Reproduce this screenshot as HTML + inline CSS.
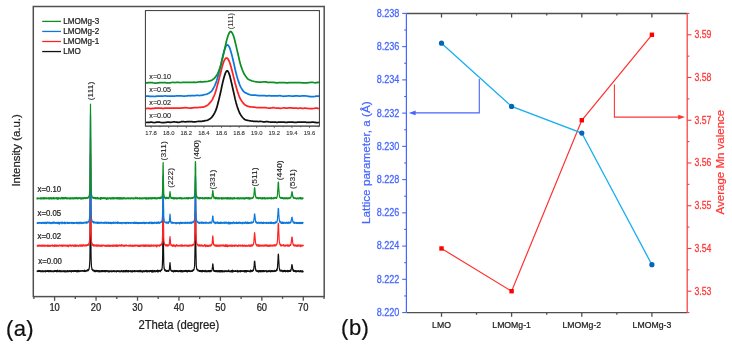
<!DOCTYPE html>
<html><head><meta charset="utf-8"><style>
html,body{margin:0;padding:0;background:#fff;}
svg{display:block;filter:blur(0.3px);}
text{font-family:"Liberation Sans", sans-serif;}
</style></head><body>
<svg width="732" height="347" viewBox="0 0 732 347">
<rect x="0" y="0" width="732" height="347" fill="#fff"/>
<path d="M37.0,271.2 L37.1,271.3 37.1,271.1 37.2,270.9 37.3,271.1 37.4,270.9 37.5,271.2 37.6,271.6 37.6,271.0 37.7,271.0 37.8,271.4 37.9,271.3 38.0,271.2 38.1,270.9 38.1,271.2 38.2,271.4 38.3,270.8 38.4,271.1 38.5,270.6 38.6,270.8 38.6,270.6 38.7,271.1 38.8,270.8 38.9,271.3 39.0,271.2 39.1,271.1 39.1,270.4 39.2,271.0 39.3,271.2 39.4,271.2 39.5,270.7 39.6,271.0 39.6,270.9 39.7,270.9 39.8,271.5 39.9,270.9 40.0,271.2 40.1,271.5 40.1,271.0 40.2,271.2 40.3,271.2 40.4,271.2 40.5,270.8 40.5,271.2 40.6,271.6 40.7,270.7 40.8,271.5 40.9,271.2 41.0,271.0 41.0,271.8 41.1,271.4 41.2,270.8 41.3,271.2 41.4,271.4 41.5,271.1 41.5,271.4 41.6,271.2 41.7,271.4 41.8,271.7 41.9,271.0 42.0,271.3 42.0,271.0 42.1,271.2 42.2,270.8 42.3,271.0 42.4,271.1 42.5,271.5 42.5,271.6 42.6,270.8 42.7,270.9 42.8,271.4 42.9,270.6 43.0,271.0 43.0,271.2 43.1,271.6 43.2,271.4 43.3,271.1 43.4,271.1 43.4,271.1 43.5,271.7 43.6,271.1 43.7,271.1 43.8,271.3 43.9,271.2 43.9,271.1 44.0,270.8 44.1,271.2 44.2,271.1 44.3,271.6 44.4,271.4 44.4,271.2 44.5,271.4 44.6,271.1 44.7,271.5 44.8,271.2 44.9,271.4 44.9,270.8 45.0,271.3 45.1,270.7 45.2,270.5 45.3,271.1 45.4,270.9 45.4,271.2 45.5,271.9 45.6,270.9 45.7,271.0 45.8,271.3 45.9,271.4 45.9,271.1 46.0,271.1 46.1,271.4 46.2,271.4 46.3,270.9 46.4,271.2 46.4,271.2 46.5,270.9 46.6,271.3 46.7,270.9 46.8,271.5 46.8,271.3 46.9,271.2 47.0,271.0 47.1,271.2 47.2,270.6 47.3,270.8 47.3,271.3 47.4,270.5 47.5,271.5 47.6,270.6 47.7,271.4 47.8,270.9 47.8,271.4 47.9,271.2 48.0,270.7 48.1,271.6 48.2,271.7 48.3,271.2 48.3,271.1 48.4,271.1 48.5,270.9 48.6,271.5 48.7,271.0 48.8,271.2 48.8,270.9 48.9,271.0 49.0,270.8 49.1,271.6 49.2,271.1 49.3,271.5 49.3,271.2 49.4,271.0 49.5,271.1 49.6,271.0 49.7,271.2 49.8,271.1 49.8,271.1 49.9,270.8 50.0,270.9 50.1,271.7 50.2,271.0 50.2,270.9 50.3,271.3 50.4,271.6 50.5,270.7 50.6,271.1 50.7,271.0 50.7,270.6 50.8,271.4 50.9,271.2 51.0,271.2 51.1,271.0 51.2,271.3 51.2,271.0 51.3,271.1 51.4,270.8 51.5,270.8 51.6,271.6 51.7,271.0 51.7,271.3 51.8,271.2 51.9,271.1 52.0,271.0 52.1,271.4 52.2,271.1 52.2,271.1 52.3,271.2 52.4,271.6 52.5,271.4 52.6,271.3 52.7,271.0 52.7,270.8 52.8,271.5 52.9,271.5 53.0,271.2 53.1,271.4 53.1,271.4 53.2,271.5 53.3,271.5 53.4,271.0 53.5,271.7 53.6,270.8 53.6,271.5 53.7,271.4 53.8,271.5 53.9,271.8 54.0,271.7 54.1,270.8 54.1,270.7 54.2,271.5 54.3,270.9 54.4,271.2 54.5,271.5 54.6,270.7 54.6,270.5 54.7,271.3 54.8,271.2 54.9,271.1 55.0,271.2 55.1,270.9 55.1,270.7 55.2,271.1 55.3,270.9 55.4,270.7 55.5,271.4 55.6,271.2 55.6,271.3 55.7,270.9 55.8,271.0 55.9,270.9 56.0,270.9 56.1,271.3 56.1,270.9 56.2,271.3 56.3,271.3 56.4,271.8 56.5,270.7 56.5,271.5 56.6,271.2 56.7,271.2 56.8,270.7 56.9,271.0 57.0,271.4 57.0,271.2 57.1,271.2 57.2,271.1 57.3,271.6 57.4,271.2 57.5,270.5 57.5,271.0 57.6,270.6 57.7,270.2 57.8,271.0 57.9,271.6 58.0,271.2 58.0,270.8 58.1,270.9 58.2,271.6 58.3,271.2 58.4,271.2 58.5,271.2 58.5,271.2 58.6,271.5 58.7,271.4 58.8,271.3 58.9,270.9 59.0,271.4 59.0,271.0 59.1,271.5 59.2,270.8 59.3,271.1 59.4,271.2 59.4,270.8 59.5,271.7 59.6,271.7 59.7,271.0 59.8,271.4 59.9,271.3 59.9,270.4 60.0,271.3 60.1,271.2 60.2,271.2 60.3,270.8 60.4,271.1 60.4,271.1 60.5,271.6 60.6,271.3 60.7,271.2 60.8,271.7 60.9,271.0 60.9,271.1 61.0,270.6 61.1,271.7 61.2,271.5 61.3,271.5 61.4,271.4 61.4,271.2 61.5,271.3 61.6,271.1 61.7,271.1 61.8,271.2 61.9,271.7 61.9,271.4 62.0,271.2 62.1,271.0 62.2,271.0 62.3,271.7 62.4,271.4 62.4,271.2 62.5,271.1 62.6,270.8 62.7,271.2 62.8,271.5 62.8,271.1 62.9,271.1 63.0,271.1 63.1,271.2 63.2,270.7 63.3,271.1 63.3,270.9 63.4,271.5 63.5,270.9 63.6,271.4 63.7,271.7 63.8,271.1 63.8,271.0 63.9,271.3 64.0,271.2 64.1,270.9 64.2,271.3 64.3,271.8 64.3,271.1 64.4,271.1 64.5,270.9 64.6,271.3 64.7,270.8 64.8,270.8 64.8,271.6 64.9,270.9 65.0,271.5 65.1,271.7 65.2,271.3 65.3,271.4 65.3,271.8 65.4,271.1 65.5,271.0 65.6,270.8 65.7,271.2 65.8,271.7 65.8,271.5 65.9,270.9 66.0,270.9 66.1,271.0 66.2,271.3 66.2,271.1 66.3,271.3 66.4,271.3 66.5,271.1 66.6,271.2 66.7,271.3 66.7,271.2 66.8,271.4 66.9,271.8 67.0,271.4 67.1,271.2 67.2,270.6 67.2,271.3 67.3,270.6 67.4,270.7 67.5,271.5 67.6,271.4 67.7,271.1 67.7,270.6 67.8,271.1 67.9,271.0 68.0,271.4 68.1,271.9 68.2,271.3 68.2,270.9 68.3,270.8 68.4,271.2 68.5,271.1 68.6,270.8 68.7,271.2 68.7,270.8 68.8,271.5 68.9,271.5 69.0,271.5 69.1,271.0 69.1,271.4 69.2,271.1 69.3,271.1 69.4,271.1 69.5,270.8 69.6,270.7 69.6,271.4 69.7,271.1 69.8,271.3 69.9,271.5 70.0,270.6 70.1,270.9 70.1,271.2 70.2,271.3 70.3,271.1 70.4,271.5 70.5,271.3 70.6,270.8 70.6,270.9 70.7,271.4 70.8,271.3 70.9,270.6 71.0,271.6 71.1,271.4 71.1,271.6 71.2,271.1 71.3,271.1 71.4,270.8 71.5,272.0 71.6,271.1 71.6,271.7 71.7,271.0 71.8,271.2 71.9,270.6 72.0,271.1 72.1,271.5 72.1,270.8 72.2,271.5 72.3,271.3 72.4,270.8 72.5,271.0 72.5,271.0 72.6,271.2 72.7,271.0 72.8,270.9 72.9,271.1 73.0,270.9 73.0,270.8 73.1,271.2 73.2,271.5 73.3,270.7 73.4,271.2 73.5,271.0 73.5,270.9 73.6,271.5 73.7,271.0 73.8,271.7 73.9,270.9 74.0,271.3 74.0,271.1 74.1,270.9 74.2,271.4 74.3,271.1 74.4,271.4 74.5,271.2 74.5,270.8 74.6,271.1 74.7,271.2 74.8,271.5 74.9,270.9 75.0,271.2 75.0,270.6 75.1,271.4 75.2,270.8 75.3,270.6 75.4,271.2 75.4,271.5 75.5,270.7 75.6,270.8 75.7,270.9 75.8,270.8 75.9,271.3 75.9,270.9 76.0,270.9 76.1,271.4 76.2,270.9 76.3,271.3 76.4,270.9 76.4,270.8 76.5,270.6 76.6,271.8 76.7,271.1 76.8,271.2 76.9,271.2 76.9,271.2 77.0,271.2 77.1,271.8 77.2,270.8 77.3,270.7 77.4,270.8 77.4,270.7 77.5,271.4 77.6,271.4 77.7,270.9 77.8,270.7 77.9,271.1 77.9,271.6 78.0,270.3 78.1,271.3 78.2,270.8 78.3,271.5 78.4,270.8 78.4,271.1 78.5,270.7 78.6,270.8 78.7,271.6 78.8,271.4 78.8,271.0 78.9,270.9 79.0,270.6 79.1,271.0 79.2,271.1 79.3,271.1 79.3,271.1 79.4,270.8 79.5,271.1 79.6,271.1 79.7,271.6 79.8,271.7 79.8,271.1 79.9,270.9 80.0,271.1 80.1,271.0 80.2,270.9 80.3,271.1 80.3,270.8 80.4,271.3 80.5,271.1 80.6,271.2 80.7,271.1 80.8,270.9 80.8,270.8 80.9,271.1 81.0,271.0 81.1,271.2 81.2,271.1 81.3,270.7 81.3,271.2 81.4,270.7 81.5,270.9 81.6,271.0 81.7,270.5 81.7,271.2 81.8,271.2 81.9,271.1 82.0,271.0 82.1,271.0 82.2,270.8 82.2,271.0 82.3,270.9 82.4,271.1 82.5,270.7 82.6,271.2 82.7,271.2 82.7,271.1 82.8,271.0 82.9,271.3 83.0,270.6 83.1,271.2 83.2,271.2 83.2,271.2 83.3,271.2 83.4,270.9 83.5,271.0 83.6,271.3 83.7,271.2 83.7,271.1 83.8,270.6 83.9,271.2 84.0,271.4 84.1,271.4 84.2,271.1 84.2,270.6 84.3,271.4 84.4,271.0 84.5,270.2 84.6,271.2 84.7,270.6 84.7,270.6 84.8,270.8 84.9,271.4 85.0,270.9 85.1,271.1 85.1,271.6 85.2,271.5 85.3,271.0 85.4,270.9 85.5,270.6 85.6,270.7 85.6,271.1 85.7,271.1 85.8,271.0 85.9,271.3 86.0,270.7 86.1,270.9 86.1,271.1 86.2,271.1 86.3,271.2 86.4,271.0 86.5,270.8 86.6,271.0 86.6,270.5 86.7,270.3 86.8,271.0 86.9,270.8 87.0,270.9 87.1,270.2 87.1,270.6 87.2,270.5 87.3,270.4 87.4,269.9 87.5,270.5 87.6,270.9 87.6,270.6 87.7,270.3 87.8,270.4 87.9,270.6 88.0,269.5 88.1,270.2 88.1,270.4 88.2,270.4 88.3,270.6 88.4,270.3 88.5,270.0 88.5,269.9 88.6,269.9 88.7,269.3 88.8,269.3 88.9,269.4 89.0,269.5 89.0,268.6 89.1,268.3 89.2,268.1 89.3,268.0 89.4,267.0 89.5,266.9 89.5,265.3 89.6,264.4 89.7,262.9 89.8,261.0 89.9,257.5 90.0,250.9 90.0,242.1 90.1,229.3 90.2,211.0 90.3,189.1 90.4,168.2 90.5,153.4 90.5,153.4 90.6,167.7 90.7,189.9 90.8,211.1 90.9,229.5 91.0,242.1 91.0,251.1 91.1,257.2 91.2,260.5 91.3,263.2 91.4,264.6 91.4,265.3 91.5,266.4 91.6,266.9 91.7,267.9 91.8,267.8 91.9,268.2 91.9,269.0 92.0,269.6 92.1,269.8 92.2,269.3 92.3,269.6 92.4,270.1 92.4,269.7 92.5,269.6 92.6,270.0 92.7,270.2 92.8,269.9 92.9,269.7 92.9,269.8 93.0,270.6 93.1,270.2 93.2,270.4 93.3,270.6 93.4,270.7 93.4,270.5 93.5,270.8 93.6,270.3 93.7,270.5 93.8,270.4 93.9,271.1 93.9,270.7 94.0,270.5 94.1,270.7 94.2,270.7 94.3,271.0 94.4,270.3 94.4,270.5 94.5,270.7 94.6,271.7 94.7,271.2 94.8,270.9 94.8,271.1 94.9,271.6 95.0,270.9 95.1,270.8 95.2,271.3 95.3,271.1 95.3,271.2 95.4,270.8 95.5,271.6 95.6,271.5 95.7,271.2 95.8,271.2 95.8,270.4 95.9,271.2 96.0,271.0 96.1,271.2 96.2,271.2 96.3,270.9 96.3,270.5 96.4,271.2 96.5,270.8 96.6,270.9 96.7,270.9 96.8,270.9 96.8,270.3 96.9,271.5 97.0,271.1 97.1,271.4 97.2,271.7 97.3,271.1 97.3,270.5 97.4,270.8 97.5,270.7 97.6,270.9 97.7,271.1 97.7,270.5 97.8,271.2 97.9,270.6 98.0,271.2 98.1,271.1 98.2,271.0 98.2,271.1 98.3,270.9 98.4,270.9 98.5,270.6 98.6,271.1 98.7,271.7 98.7,271.8 98.8,271.5 98.9,271.3 99.0,270.9 99.1,271.6 99.2,271.1 99.2,271.1 99.3,271.0 99.4,271.2 99.5,271.0 99.6,271.1 99.7,270.8 99.7,271.0 99.8,271.9 99.9,271.1 100.0,271.1 100.1,271.3 100.2,271.4 100.2,270.8 100.3,271.1 100.4,271.4 100.5,271.2 100.6,271.2 100.7,271.6 100.7,270.9 100.8,271.2 100.9,271.0 101.0,271.6 101.1,270.5 101.1,270.9 101.2,271.0 101.3,271.4 101.4,271.3 101.5,271.6 101.6,270.6 101.6,271.4 101.7,271.1 101.8,270.9 101.9,271.3 102.0,270.9 102.1,270.5 102.1,271.0 102.2,270.7 102.3,271.0 102.4,271.3 102.5,271.3 102.6,271.7 102.6,271.1 102.7,270.7 102.8,270.9 102.9,270.9 103.0,270.8 103.1,271.3 103.1,271.0 103.2,270.5 103.3,271.4 103.4,271.1 103.5,271.3 103.6,271.2 103.6,271.4 103.7,271.2 103.8,271.6 103.9,271.3 104.0,271.3 104.0,271.3 104.1,270.7 104.2,271.1 104.3,271.1 104.4,271.2 104.5,270.7 104.5,271.7 104.6,271.2 104.7,270.8 104.8,270.6 104.9,271.1 105.0,271.1 105.0,270.9 105.1,271.2 105.2,271.0 105.3,271.3 105.4,270.9 105.5,271.2 105.5,271.5 105.6,272.0 105.7,270.9 105.8,271.0 105.9,270.9 106.0,271.4 106.0,270.8 106.1,271.0 106.2,271.2 106.3,270.9 106.4,270.9 106.5,271.0 106.5,270.5 106.6,270.7 106.7,271.0 106.8,271.2 106.9,271.1 107.0,270.6 107.0,271.0 107.1,271.4 107.2,271.4 107.3,271.2 107.4,270.9 107.4,271.4 107.5,271.0 107.6,270.8 107.7,270.9 107.8,271.6 107.9,271.2 107.9,271.6 108.0,271.0 108.1,271.5 108.2,271.0 108.3,271.1 108.4,272.0 108.4,271.4 108.5,271.0 108.6,271.2 108.7,271.3 108.8,271.6 108.9,271.0 108.9,270.6 109.0,271.1 109.1,271.2 109.2,271.2 109.3,271.6 109.4,271.3 109.4,271.4 109.5,270.8 109.6,271.5 109.7,271.9 109.8,271.4 109.9,271.3 109.9,271.2 110.0,271.8 110.1,270.9 110.2,271.1 110.3,271.3 110.4,271.4 110.4,271.0 110.5,271.3 110.6,271.1 110.7,271.2 110.8,271.1 110.8,270.8 110.9,271.2 111.0,271.5 111.1,270.9 111.2,271.1 111.3,271.4 111.3,270.8 111.4,271.2 111.5,270.8 111.6,271.5 111.7,271.9 111.8,271.8 111.8,271.1 111.9,271.4 112.0,271.2 112.1,271.2 112.2,271.7 112.3,270.8 112.3,271.5 112.4,271.2 112.5,271.6 112.6,271.2 112.7,271.0 112.8,271.3 112.8,271.4 112.9,271.2 113.0,271.3 113.1,271.0 113.2,270.5 113.3,271.5 113.3,271.4 113.4,271.2 113.5,271.2 113.6,271.5 113.7,271.0 113.7,271.0 113.8,271.1 113.9,271.6 114.0,270.7 114.1,271.6 114.2,271.0 114.2,270.8 114.3,271.6 114.4,271.2 114.5,270.8 114.6,271.1 114.7,271.5 114.7,271.6 114.8,271.1 114.9,271.3 115.0,271.4 115.1,271.0 115.2,271.3 115.2,271.2 115.3,271.0 115.4,271.0 115.5,271.2 115.6,271.2 115.7,271.0 115.7,271.1 115.8,271.5 115.9,271.3 116.0,271.5 116.1,271.6 116.2,271.4 116.2,271.9 116.3,270.9 116.4,271.4 116.5,271.1 116.6,271.8 116.7,271.7 116.7,270.6 116.8,270.9 116.9,271.4 117.0,271.4 117.1,271.4 117.1,271.2 117.2,271.3 117.3,271.4 117.4,271.2 117.5,271.5 117.6,270.5 117.6,271.4 117.7,270.9 117.8,271.5 117.9,271.1 118.0,270.9 118.1,271.3 118.1,270.9 118.2,270.9 118.3,270.7 118.4,271.2 118.5,271.3 118.6,271.5 118.6,271.1 118.7,271.5 118.8,271.2 118.9,271.2 119.0,271.4 119.1,271.5 119.1,271.1 119.2,271.1 119.3,271.1 119.4,271.2 119.5,270.9 119.6,271.5 119.6,271.1 119.7,271.3 119.8,270.9 119.9,271.3 120.0,271.3 120.0,271.1 120.1,271.8 120.2,271.3 120.3,271.8 120.4,271.5 120.5,271.0 120.5,271.1 120.6,271.3 120.7,271.2 120.8,271.2 120.9,271.1 121.0,270.6 121.0,271.1 121.1,270.5 121.2,271.3 121.3,271.0 121.4,271.0 121.5,271.1 121.5,271.3 121.6,270.7 121.7,270.6 121.8,270.8 121.9,270.5 122.0,270.9 122.0,271.7 122.1,270.9 122.2,271.4 122.3,270.8 122.4,271.3 122.5,271.1 122.5,271.2 122.6,271.4 122.7,271.8 122.8,271.3 122.9,271.2 123.0,270.9 123.0,271.4 123.1,271.1 123.2,271.5 123.3,271.2 123.4,271.7 123.4,270.6 123.5,271.1 123.6,271.5 123.7,271.1 123.8,270.9 123.9,271.1 123.9,270.7 124.0,271.2 124.1,272.0 124.2,271.6 124.3,270.8 124.4,270.9 124.4,271.1 124.5,271.5 124.6,270.9 124.7,271.0 124.8,271.5 124.9,271.5 124.9,271.1 125.0,270.8 125.1,270.7 125.2,271.0 125.3,270.5 125.4,271.4 125.4,271.0 125.5,271.3 125.6,271.8 125.7,271.6 125.8,270.8 125.9,271.5 125.9,271.6 126.0,271.0 126.1,270.9 126.2,271.2 126.3,270.7 126.3,271.7 126.4,270.4 126.5,270.8 126.6,271.1 126.7,271.1 126.8,271.2 126.8,271.3 126.9,271.1 127.0,271.6 127.1,270.5 127.2,271.2 127.3,271.0 127.3,271.2 127.4,271.3 127.5,270.9 127.6,271.0 127.7,271.4 127.8,271.3 127.8,271.0 127.9,271.8 128.0,271.9 128.1,270.7 128.2,271.3 128.3,272.0 128.3,271.4 128.4,271.3 128.5,271.1 128.6,271.0 128.7,271.1 128.8,271.0 128.8,271.4 128.9,271.1 129.0,271.1 129.1,270.8 129.2,271.2 129.3,270.9 129.3,271.1 129.4,271.5 129.5,271.3 129.6,271.4 129.7,271.3 129.7,271.2 129.8,271.2 129.9,271.1 130.0,271.4 130.1,270.8 130.2,271.6 130.2,271.2 130.3,271.0 130.4,271.0 130.5,271.0 130.6,271.2 130.7,271.0 130.7,271.6 130.8,270.9 130.9,270.5 131.0,271.0 131.1,270.5 131.2,271.2 131.2,271.5 131.3,271.4 131.4,270.8 131.5,270.9 131.6,271.8 131.7,271.3 131.7,271.2 131.8,271.5 131.9,272.0 132.0,271.6 132.1,271.2 132.2,271.3 132.2,271.4 132.3,271.0 132.4,270.9 132.5,271.2 132.6,270.9 132.7,271.2 132.7,271.2 132.8,271.9 132.9,270.9 133.0,271.2 133.1,271.1 133.1,271.3 133.2,271.5 133.3,271.0 133.4,270.9 133.5,270.7 133.6,270.9 133.6,271.4 133.7,271.2 133.8,270.9 133.9,271.1 134.0,271.2 134.1,271.4 134.1,271.0 134.2,271.1 134.3,270.6 134.4,270.8 134.5,271.7 134.6,270.5 134.6,271.1 134.7,271.3 134.8,271.1 134.9,270.9 135.0,271.2 135.1,271.2 135.1,271.2 135.2,270.6 135.3,271.1 135.4,270.9 135.5,271.0 135.6,271.3 135.6,271.4 135.7,271.5 135.8,271.0 135.9,271.5 136.0,271.6 136.0,271.6 136.1,271.6 136.2,271.1 136.3,271.1 136.4,271.5 136.5,270.8 136.5,271.3 136.6,271.0 136.7,271.1 136.8,270.6 136.9,270.9 137.0,271.2 137.0,271.5 137.1,271.5 137.2,271.2 137.3,271.1 137.4,270.9 137.5,271.3 137.5,271.1 137.6,271.4 137.7,271.7 137.8,271.2 137.9,270.7 138.0,270.9 138.0,270.7 138.1,270.8 138.2,271.6 138.3,271.3 138.4,270.7 138.5,271.4 138.5,271.6 138.6,271.1 138.7,271.0 138.8,271.1 138.9,271.3 139.0,271.4 139.0,271.6 139.1,271.6 139.2,271.6 139.3,271.6 139.4,271.4 139.4,270.7 139.5,271.1 139.6,271.3 139.7,271.1 139.8,271.5 139.9,271.1 139.9,270.9 140.0,271.7 140.1,271.4 140.2,271.3 140.3,271.5 140.4,271.5 140.4,271.3 140.5,270.4 140.6,271.0 140.7,271.0 140.8,270.9 140.9,271.3 140.9,271.6 141.0,271.0 141.1,270.8 141.2,271.8 141.3,271.0 141.4,270.8 141.4,271.3 141.5,271.3 141.6,271.0 141.7,271.4 141.8,271.0 141.9,270.9 141.9,271.2 142.0,271.4 142.1,271.0 142.2,271.3 142.3,271.2 142.3,272.1 142.4,271.0 142.5,271.6 142.6,271.2 142.7,271.1 142.8,271.4 142.8,271.5 142.9,271.6 143.0,271.3 143.1,271.0 143.2,271.0 143.3,271.3 143.3,271.4 143.4,271.6 143.5,271.3 143.6,271.5 143.7,271.7 143.8,271.2 143.8,270.7 143.9,270.8 144.0,270.7 144.1,271.7 144.2,270.9 144.3,271.6 144.3,271.4 144.4,271.7 144.5,271.5 144.6,271.2 144.7,271.1 144.8,271.2 144.8,271.2 144.9,271.0 145.0,271.2 145.1,271.7 145.2,270.6 145.3,271.3 145.3,270.9 145.4,271.2 145.5,271.5 145.6,271.2 145.7,271.4 145.7,270.7 145.8,271.5 145.9,271.0 146.0,271.4 146.1,271.2 146.2,270.4 146.2,270.9 146.3,271.3 146.4,271.7 146.5,271.3 146.6,271.3 146.7,270.7 146.7,271.6 146.8,271.8 146.9,271.2 147.0,271.1 147.1,270.7 147.2,271.5 147.2,272.0 147.3,271.4 147.4,271.6 147.5,271.4 147.6,270.9 147.7,271.6 147.7,270.8 147.8,271.1 147.9,271.3 148.0,271.5 148.1,271.3 148.2,271.3 148.2,270.9 148.3,270.8 148.4,271.2 148.5,271.0 148.6,270.8 148.7,270.8 148.7,271.0 148.8,270.6 148.9,270.7 149.0,270.7 149.1,271.2 149.1,271.3 149.2,271.8 149.3,270.7 149.4,271.0 149.5,271.5 149.6,271.1 149.6,271.1 149.7,271.7 149.8,271.1 149.9,270.8 150.0,270.8 150.1,271.3 150.1,271.3 150.2,270.7 150.3,270.9 150.4,271.3 150.5,271.4 150.6,271.0 150.6,271.4 150.7,271.4 150.8,270.6 150.9,271.1 151.0,271.3 151.1,271.0 151.1,270.5 151.2,271.1 151.3,271.4 151.4,271.7 151.5,270.5 151.6,272.0 151.6,270.8 151.7,271.5 151.8,271.6 151.9,271.5 152.0,271.2 152.0,270.8 152.1,271.4 152.2,270.9 152.3,270.4 152.4,272.1 152.5,271.4 152.5,271.7 152.6,270.9 152.7,271.6 152.8,271.7 152.9,271.7 153.0,271.2 153.0,270.8 153.1,271.1 153.2,270.5 153.3,270.6 153.4,271.2 153.5,270.8 153.5,271.1 153.6,271.1 153.7,271.8 153.8,271.6 153.9,271.1 154.0,271.5 154.0,270.9 154.1,271.0 154.2,271.4 154.3,270.7 154.4,271.1 154.5,270.7 154.5,271.2 154.6,271.7 154.7,270.9 154.8,271.2 154.9,270.9 155.0,270.8 155.0,270.7 155.1,271.6 155.2,271.9 155.3,271.3 155.4,270.9 155.4,271.4 155.5,271.0 155.6,271.4 155.7,271.2 155.8,271.2 155.9,271.3 155.9,270.9 156.0,271.0 156.1,270.6 156.2,271.0 156.3,270.7 156.4,271.1 156.4,270.8 156.5,271.1 156.6,271.3 156.7,270.6 156.8,270.8 156.9,270.8 156.9,271.3 157.0,271.6 157.1,271.4 157.2,271.0 157.3,271.6 157.4,270.6 157.4,271.6 157.5,270.9 157.6,270.2 157.7,271.9 157.8,271.6 157.9,270.7 157.9,271.1 158.0,271.0 158.1,271.1 158.2,270.6 158.3,270.8 158.3,271.2 158.4,271.1 158.5,271.4 158.6,271.0 158.7,271.8 158.8,270.8 158.8,271.1 158.9,270.4 159.0,270.6 159.1,271.4 159.2,270.7 159.3,271.1 159.3,270.9 159.4,270.6 159.5,270.8 159.6,270.7 159.7,270.7 159.8,271.1 159.8,271.1 159.9,270.7 160.0,270.5 160.1,270.9 160.2,270.7 160.3,271.1 160.3,271.6 160.4,271.0 160.5,270.7 160.6,270.6 160.7,270.3 160.8,270.3 160.8,270.2 160.9,270.3 161.0,270.3 161.1,270.6 161.2,270.1 161.3,270.1 161.3,269.7 161.4,270.5 161.5,270.0 161.6,270.3 161.7,269.8 161.7,269.8 161.8,269.0 161.9,269.1 162.0,269.4 162.1,267.7 162.2,267.9 162.2,267.3 162.3,265.8 162.4,264.3 162.5,261.9 162.6,257.6 162.7,252.6 162.7,245.1 162.8,236.4 162.9,226.7 163.0,217.7 163.1,212.0 163.2,212.1 163.2,217.3 163.3,227.5 163.4,237.0 163.5,245.6 163.6,252.4 163.7,257.8 163.7,261.7 163.8,264.1 163.9,265.1 164.0,267.0 164.1,268.5 164.2,267.5 164.2,268.8 164.3,269.0 164.4,269.1 164.5,269.8 164.6,269.1 164.6,269.8 164.7,270.3 164.8,269.9 164.9,269.9 165.0,270.2 165.1,270.1 165.1,270.8 165.2,270.1 165.3,270.7 165.4,270.1 165.5,270.7 165.6,270.5 165.6,269.8 165.7,270.6 165.8,270.3 165.9,270.5 166.0,271.2 166.1,270.4 166.1,270.4 166.2,271.3 166.3,270.8 166.4,271.3 166.5,270.9 166.6,270.5 166.6,270.8 166.7,271.3 166.8,271.2 166.9,270.9 167.0,270.9 167.1,270.9 167.1,270.7 167.2,271.5 167.3,270.9 167.4,270.5 167.5,270.7 167.6,271.1 167.6,271.1 167.7,270.9 167.8,270.7 167.9,270.9 168.0,270.3 168.0,270.5 168.1,271.1 168.2,270.7 168.3,271.0 168.4,271.2 168.5,271.0 168.5,270.8 168.6,271.5 168.7,270.9 168.8,270.6 168.9,270.9 169.0,270.7 169.0,270.2 169.1,270.3 169.2,270.0 169.3,269.2 169.4,269.3 169.5,268.7 169.5,267.8 169.6,266.5 169.7,265.8 169.8,264.7 169.9,263.7 170.0,262.6 170.0,263.2 170.1,263.2 170.2,264.6 170.3,266.3 170.4,266.8 170.5,267.8 170.5,269.1 170.6,269.3 170.7,269.7 170.8,270.2 170.9,270.7 171.0,269.8 171.0,270.3 171.1,270.3 171.2,270.4 171.3,270.5 171.4,270.5 171.4,271.0 171.5,270.6 171.6,271.0 171.7,271.1 171.8,270.7 171.9,271.0 171.9,271.5 172.0,271.1 172.1,270.8 172.2,271.0 172.3,270.7 172.4,271.1 172.4,271.3 172.5,270.8 172.6,271.0 172.7,271.4 172.8,270.9 172.9,271.1 172.9,270.7 173.0,270.8 173.1,270.9 173.2,271.8 173.3,271.0 173.4,270.9 173.4,270.9 173.5,271.1 173.6,271.3 173.7,271.2 173.8,271.8 173.9,271.2 173.9,271.6 174.0,271.2 174.1,271.3 174.2,270.7 174.3,271.1 174.3,271.1 174.4,271.0 174.5,270.4 174.6,271.4 174.7,271.0 174.8,271.0 174.8,271.1 174.9,271.1 175.0,271.3 175.1,270.7 175.2,270.8 175.3,271.2 175.3,271.2 175.4,271.0 175.5,271.0 175.6,270.9 175.7,271.1 175.8,271.5 175.8,270.8 175.9,271.6 176.0,271.4 176.1,271.0 176.2,271.4 176.3,270.7 176.3,270.6 176.4,270.7 176.5,271.0 176.6,271.0 176.7,271.0 176.8,271.2 176.8,270.5 176.9,271.3 177.0,270.7 177.1,270.9 177.2,271.0 177.3,270.8 177.3,270.7 177.4,270.8 177.5,271.2 177.6,271.3 177.7,271.3 177.7,270.8 177.8,270.9 177.9,270.9 178.0,271.3 178.1,270.5 178.2,271.6 178.2,271.0 178.3,270.9 178.4,271.3 178.5,271.5 178.6,271.3 178.7,271.5 178.7,271.2 178.8,271.6 178.9,271.6 179.0,271.1 179.1,271.6 179.2,271.2 179.2,271.2 179.3,270.9 179.4,271.1 179.5,271.4 179.6,270.7 179.7,271.4 179.7,271.3 179.8,271.2 179.9,270.5 180.0,271.1 180.1,271.4 180.2,270.9 180.2,271.2 180.3,270.4 180.4,271.4 180.5,270.9 180.6,271.4 180.6,270.6 180.7,271.4 180.8,271.1 180.9,271.4 181.0,270.9 181.1,271.0 181.1,271.9 181.2,270.9 181.3,270.9 181.4,271.1 181.5,270.8 181.6,271.5 181.6,271.7 181.7,270.9 181.8,270.6 181.9,271.5 182.0,271.5 182.1,271.4 182.1,271.5 182.2,270.9 182.3,271.1 182.4,270.7 182.5,270.7 182.6,271.5 182.6,270.9 182.7,271.9 182.8,271.2 182.9,271.0 183.0,271.4 183.1,271.7 183.1,271.3 183.2,270.8 183.3,271.3 183.4,271.6 183.5,271.0 183.6,270.9 183.6,271.5 183.7,271.2 183.8,270.8 183.9,271.0 184.0,270.9 184.0,271.2 184.1,271.2 184.2,271.5 184.3,271.4 184.4,270.6 184.5,271.3 184.5,271.4 184.6,271.3 184.7,271.5 184.8,271.0 184.9,270.8 185.0,271.4 185.0,270.8 185.1,270.5 185.2,271.5 185.3,270.9 185.4,271.0 185.5,270.7 185.5,270.7 185.6,270.8 185.7,271.0 185.8,271.3 185.9,270.4 186.0,271.4 186.0,270.8 186.1,270.8 186.2,271.4 186.3,271.1 186.4,270.6 186.5,271.7 186.5,270.9 186.6,271.2 186.7,271.2 186.8,271.6 186.9,271.0 186.9,271.4 187.0,270.9 187.1,271.5 187.2,270.9 187.3,271.0 187.4,271.7 187.4,271.2 187.5,271.2 187.6,271.8 187.7,271.2 187.8,270.9 187.9,271.3 187.9,270.7 188.0,271.5 188.1,271.5 188.2,270.9 188.3,270.9 188.4,271.2 188.4,271.1 188.5,270.8 188.6,271.3 188.7,270.4 188.8,270.9 188.9,271.0 188.9,271.0 189.0,271.2 189.1,270.7 189.2,271.3 189.3,271.0 189.4,270.9 189.4,270.6 189.5,270.7 189.6,271.2 189.7,270.7 189.8,271.1 189.9,271.4 189.9,271.4 190.0,271.5 190.1,270.9 190.2,270.7 190.3,271.3 190.3,271.1 190.4,271.4 190.5,271.0 190.6,271.4 190.7,271.3 190.8,271.2 190.8,271.1 190.9,271.1 191.0,271.0 191.1,271.0 191.2,271.3 191.3,270.8 191.3,271.5 191.4,270.9 191.5,271.2 191.6,270.9 191.7,270.8 191.8,271.5 191.8,270.7 191.9,270.4 192.0,270.6 192.1,270.7 192.2,271.5 192.3,270.8 192.3,271.0 192.4,270.4 192.5,270.8 192.6,270.9 192.7,271.2 192.8,270.3 192.8,270.7 192.9,270.6 193.0,270.1 193.1,270.4 193.2,270.2 193.3,269.5 193.3,270.4 193.4,270.3 193.5,269.9 193.6,269.5 193.7,270.3 193.7,269.8 193.8,269.8 193.9,269.8 194.0,269.0 194.1,269.2 194.2,268.5 194.2,268.3 194.3,267.8 194.4,267.3 194.5,266.9 194.6,265.5 194.7,263.9 194.7,261.6 194.8,258.6 194.9,253.9 195.0,248.2 195.1,241.2 195.2,232.7 195.2,224.1 195.3,216.3 195.4,212.5 195.5,212.2 195.6,216.6 195.7,224.2 195.7,233.6 195.8,241.3 195.9,248.3 196.0,254.2 196.1,258.6 196.2,262.1 196.2,263.9 196.3,266.1 196.4,266.2 196.5,267.5 196.6,267.5 196.6,268.9 196.7,268.5 196.8,268.9 196.9,269.4 197.0,269.7 197.1,269.2 197.1,269.6 197.2,269.4 197.3,270.0 197.4,270.0 197.5,270.0 197.6,270.0 197.6,270.1 197.7,270.1 197.8,270.6 197.9,270.9 198.0,269.9 198.1,270.5 198.1,270.4 198.2,270.8 198.3,270.3 198.4,270.6 198.5,270.4 198.6,270.9 198.6,270.8 198.7,270.7 198.8,270.9 198.9,270.7 199.0,270.3 199.1,271.0 199.1,270.9 199.2,270.8 199.3,271.2 199.4,271.3 199.5,270.6 199.6,270.7 199.6,271.4 199.7,271.4 199.8,270.7 199.9,270.6 200.0,270.8 200.0,270.8 200.1,270.5 200.2,271.0 200.3,270.6 200.4,270.6 200.5,271.3 200.5,270.8 200.6,271.0 200.7,271.2 200.8,271.3 200.9,270.9 201.0,271.1 201.0,270.8 201.1,271.6 201.2,271.3 201.3,270.7 201.4,271.1 201.5,271.3 201.5,271.2 201.6,271.7 201.7,271.5 201.8,270.9 201.9,271.0 202.0,270.7 202.0,271.2 202.1,271.1 202.2,272.0 202.3,271.1 202.4,270.4 202.5,270.9 202.5,271.1 202.6,270.7 202.7,270.8 202.8,271.0 202.9,271.2 202.9,271.1 203.0,270.8 203.1,271.4 203.2,270.9 203.3,271.0 203.4,270.7 203.4,270.9 203.5,271.3 203.6,270.6 203.7,271.1 203.8,271.3 203.9,271.0 203.9,271.2 204.0,270.8 204.1,271.5 204.2,271.5 204.3,271.2 204.4,270.6 204.4,270.8 204.5,271.4 204.6,271.7 204.7,271.2 204.8,271.5 204.9,270.9 204.9,271.1 205.0,271.1 205.1,271.3 205.2,270.6 205.3,271.4 205.4,271.6 205.4,270.8 205.5,270.7 205.6,271.2 205.7,270.9 205.8,270.4 205.9,271.4 205.9,271.2 206.0,271.0 206.1,271.8 206.2,271.2 206.3,270.9 206.3,271.2 206.4,270.8 206.5,270.9 206.6,271.3 206.7,271.0 206.8,271.0 206.8,271.7 206.9,271.4 207.0,271.4 207.1,271.3 207.2,271.3 207.3,271.6 207.3,271.1 207.4,271.7 207.5,270.8 207.6,271.1 207.7,270.7 207.8,271.0 207.8,271.3 207.9,271.6 208.0,270.9 208.1,271.1 208.2,271.0 208.3,270.9 208.3,270.7 208.4,271.1 208.5,270.6 208.6,271.2 208.7,271.1 208.8,270.9 208.8,270.8 208.9,270.7 209.0,271.7 209.1,270.7 209.2,271.6 209.2,271.3 209.3,271.0 209.4,270.7 209.5,271.4 209.6,271.7 209.7,270.8 209.7,271.0 209.8,271.4 209.9,271.2 210.0,271.7 210.1,270.9 210.2,271.2 210.2,270.7 210.3,271.7 210.4,270.8 210.5,270.3 210.6,271.0 210.7,271.0 210.7,271.6 210.8,270.9 210.9,271.0 211.0,271.1 211.1,271.4 211.2,270.9 211.2,271.2 211.3,271.0 211.4,270.7 211.5,270.8 211.6,270.7 211.7,270.4 211.7,270.9 211.8,270.0 211.9,270.6 212.0,270.3 212.1,269.7 212.2,269.0 212.2,268.7 212.3,268.3 212.4,267.6 212.5,266.7 212.6,266.1 212.6,264.9 212.7,264.6 212.8,263.9 212.9,264.8 213.0,265.1 213.1,265.7 213.1,267.0 213.2,267.6 213.3,267.2 213.4,268.8 213.5,268.8 213.6,270.0 213.6,270.8 213.7,270.1 213.8,270.4 213.9,270.5 214.0,270.8 214.1,270.9 214.1,271.2 214.2,270.5 214.3,271.4 214.4,270.6 214.5,271.0 214.6,271.3 214.6,271.2 214.7,270.7 214.8,270.8 214.9,270.9 215.0,271.0 215.1,271.4 215.1,270.6 215.2,271.2 215.3,271.3 215.4,271.2 215.5,271.2 215.6,271.6 215.6,271.2 215.7,271.4 215.8,271.3 215.9,271.7 216.0,270.5 216.0,271.5 216.1,271.0 216.2,271.0 216.3,270.8 216.4,270.5 216.5,271.0 216.5,270.9 216.6,271.3 216.7,270.7 216.8,271.6 216.9,271.2 217.0,271.1 217.0,270.9 217.1,270.9 217.2,270.8 217.3,271.0 217.4,271.2 217.5,271.1 217.5,270.7 217.6,271.1 217.7,270.9 217.8,271.2 217.9,271.8 218.0,271.4 218.0,271.1 218.1,270.6 218.2,270.7 218.3,270.6 218.4,271.4 218.5,270.9 218.5,271.2 218.6,271.0 218.7,271.2 218.8,271.6 218.9,270.9 218.9,271.1 219.0,270.9 219.1,271.4 219.2,270.8 219.3,270.8 219.4,270.7 219.4,270.7 219.5,271.3 219.6,272.0 219.7,270.9 219.8,271.5 219.9,271.3 219.9,270.8 220.0,271.1 220.1,271.1 220.2,271.0 220.3,271.8 220.4,270.6 220.4,271.3 220.5,271.3 220.6,271.0 220.7,271.2 220.8,271.5 220.9,271.2 220.9,271.3 221.0,271.4 221.1,270.5 221.2,271.7 221.3,271.9 221.4,271.5 221.4,271.5 221.5,270.7 221.6,271.1 221.7,270.9 221.8,271.0 221.9,271.5 221.9,270.9 222.0,271.1 222.1,270.6 222.2,271.1 222.3,271.2 222.3,271.0 222.4,271.0 222.5,271.8 222.6,270.8 222.7,270.8 222.8,270.9 222.8,271.6 222.9,271.9 223.0,271.3 223.1,271.0 223.2,271.0 223.3,271.5 223.3,270.9 223.4,271.6 223.5,271.6 223.6,271.2 223.7,271.4 223.8,271.4 223.8,271.7 223.9,270.8 224.0,271.6 224.1,271.1 224.2,270.9 224.3,271.2 224.3,271.1 224.4,270.9 224.5,270.7 224.6,270.9 224.7,271.6 224.8,271.8 224.8,271.4 224.9,271.6 225.0,271.0 225.1,271.2 225.2,271.3 225.2,270.8 225.3,270.9 225.4,271.2 225.5,271.1 225.6,270.8 225.7,271.3 225.7,271.1 225.8,271.5 225.9,271.2 226.0,271.1 226.1,271.2 226.2,271.1 226.2,271.0 226.3,271.1 226.4,271.4 226.5,271.4 226.6,271.6 226.7,270.6 226.7,271.1 226.8,271.1 226.9,271.2 227.0,271.0 227.1,271.0 227.2,271.4 227.2,271.2 227.3,270.8 227.4,271.6 227.5,271.5 227.6,271.0 227.7,271.5 227.7,271.0 227.8,271.5 227.9,271.1 228.0,270.9 228.1,271.1 228.2,270.9 228.2,271.2 228.3,271.2 228.4,271.2 228.5,271.0 228.6,270.0 228.6,271.2 228.7,270.6 228.8,271.3 228.9,271.5 229.0,271.3 229.1,271.1 229.1,271.1 229.2,271.1 229.3,271.0 229.4,271.0 229.5,270.9 229.6,271.6 229.6,271.2 229.7,271.5 229.8,271.1 229.9,271.2 230.0,271.1 230.1,271.3 230.1,271.5 230.2,271.3 230.3,271.0 230.4,270.9 230.5,271.7 230.6,271.1 230.6,271.1 230.7,271.7 230.8,271.5 230.9,271.4 231.0,271.1 231.1,271.9 231.1,271.3 231.2,271.4 231.3,271.1 231.4,270.7 231.5,270.8 231.6,271.3 231.6,271.3 231.7,271.1 231.8,270.8 231.9,270.7 232.0,271.1 232.0,270.7 232.1,271.5 232.2,271.6 232.3,272.1 232.4,271.5 232.5,271.0 232.5,270.9 232.6,270.1 232.7,271.0 232.8,271.1 232.9,271.5 233.0,271.4 233.0,271.4 233.1,271.3 233.2,271.4 233.3,271.7 233.4,270.8 233.5,271.0 233.5,270.7 233.6,271.7 233.7,271.6 233.8,271.4 233.9,270.8 234.0,271.2 234.0,271.1 234.1,271.2 234.2,271.1 234.3,271.4 234.4,271.1 234.5,271.5 234.5,271.3 234.6,271.1 234.7,271.2 234.8,271.0 234.9,271.4 234.9,271.1 235.0,271.3 235.1,271.1 235.2,270.7 235.3,271.5 235.4,270.8 235.4,271.4 235.5,271.3 235.6,270.7 235.7,270.9 235.8,271.0 235.9,270.9 235.9,270.8 236.0,271.4 236.1,271.1 236.2,271.3 236.3,271.0 236.4,271.3 236.4,270.9 236.5,271.2 236.6,271.4 236.7,271.2 236.8,271.0 236.9,270.8 236.9,271.2 237.0,271.3 237.1,271.1 237.2,270.9 237.3,271.4 237.4,272.0 237.4,271.1 237.5,271.3 237.6,271.3 237.7,270.4 237.8,271.2 237.9,271.0 237.9,271.6 238.0,271.1 238.1,270.9 238.2,271.1 238.3,271.2 238.3,271.0 238.4,271.2 238.5,270.8 238.6,271.1 238.7,271.4 238.8,271.8 238.8,271.4 238.9,271.3 239.0,271.6 239.1,271.5 239.2,271.7 239.3,271.5 239.3,271.1 239.4,271.3 239.5,271.2 239.6,271.3 239.7,271.2 239.8,270.9 239.8,270.5 239.9,271.0 240.0,270.5 240.1,271.2 240.2,271.2 240.3,270.6 240.3,271.4 240.4,271.5 240.5,271.2 240.6,271.7 240.7,271.8 240.8,270.8 240.8,271.5 240.9,271.3 241.0,271.3 241.1,271.5 241.2,271.0 241.2,271.0 241.3,270.9 241.4,270.9 241.5,271.2 241.6,270.7 241.7,270.8 241.7,271.4 241.8,271.2 241.9,271.3 242.0,270.6 242.1,270.9 242.2,271.0 242.2,271.2 242.3,271.0 242.4,271.5 242.5,271.2 242.6,271.2 242.7,271.2 242.7,271.4 242.8,271.0 242.9,271.5 243.0,271.3 243.1,271.2 243.2,271.2 243.2,271.3 243.3,271.5 243.4,271.5 243.5,271.3 243.6,271.5 243.7,271.2 243.7,271.6 243.8,271.2 243.9,270.5 244.0,271.6 244.1,271.2 244.2,270.8 244.2,271.1 244.3,270.9 244.4,271.8 244.5,271.3 244.6,270.7 244.6,271.4 244.7,271.0 244.8,271.8 244.9,270.8 245.0,270.5 245.1,271.2 245.1,271.1 245.2,271.0 245.3,270.5 245.4,271.3 245.5,271.7 245.6,270.6 245.6,271.5 245.7,271.0 245.8,271.9 245.9,271.3 246.0,271.1 246.1,271.5 246.1,271.3 246.2,271.0 246.3,271.4 246.4,271.0 246.5,270.6 246.6,271.8 246.6,271.1 246.7,271.0 246.8,271.3 246.9,270.7 247.0,270.7 247.1,271.0 247.1,271.0 247.2,271.2 247.3,271.5 247.4,271.0 247.5,271.3 247.5,271.4 247.6,270.8 247.7,271.2 247.8,270.9 247.9,271.5 248.0,271.3 248.0,271.2 248.1,270.7 248.2,271.2 248.3,270.9 248.4,271.4 248.5,271.1 248.5,270.9 248.6,271.4 248.7,271.4 248.8,271.0 248.9,271.5 249.0,271.0 249.0,271.0 249.1,271.2 249.2,270.9 249.3,271.0 249.4,271.1 249.5,271.6 249.5,271.6 249.6,271.0 249.7,271.6 249.8,271.1 249.9,271.2 250.0,271.4 250.0,271.2 250.1,271.9 250.2,271.2 250.3,270.7 250.4,271.5 250.5,271.0 250.5,271.0 250.6,270.1 250.7,271.4 250.8,271.3 250.9,271.3 250.9,271.4 251.0,271.6 251.1,271.0 251.2,271.3 251.3,270.8 251.4,270.9 251.4,271.4 251.5,271.1 251.6,270.6 251.7,271.1 251.8,270.9 251.9,270.7 251.9,271.1 252.0,270.8 252.1,270.4 252.2,270.6 252.3,271.5 252.4,270.4 252.4,270.9 252.5,271.0 252.6,271.0 252.7,270.4 252.8,270.6 252.9,270.7 252.9,270.9 253.0,270.4 253.1,270.1 253.2,270.7 253.3,270.7 253.4,270.3 253.4,269.8 253.5,269.9 253.6,269.5 253.7,269.4 253.8,268.3 253.9,268.2 253.9,267.4 254.0,266.4 254.1,265.9 254.2,264.9 254.3,263.8 254.3,263.1 254.4,261.6 254.5,261.4 254.6,261.2 254.7,261.1 254.8,261.8 254.8,261.7 254.9,262.5 255.0,264.0 255.1,265.1 255.2,266.5 255.3,266.9 255.3,267.2 255.4,268.4 255.5,268.4 255.6,268.7 255.7,270.3 255.8,269.9 255.8,270.2 255.9,270.4 256.0,270.9 256.1,270.5 256.2,270.9 256.3,270.2 256.3,270.2 256.4,271.1 256.5,271.2 256.6,270.9 256.7,270.9 256.8,270.9 256.8,270.6 256.9,271.4 257.0,271.1 257.1,271.1 257.2,271.0 257.2,271.3 257.3,271.1 257.4,271.2 257.5,270.6 257.6,271.2 257.7,271.7 257.7,270.8 257.8,271.0 257.9,271.3 258.0,271.3 258.1,271.2 258.2,270.5 258.2,271.2 258.3,270.7 258.4,270.8 258.5,271.2 258.6,271.0 258.7,271.3 258.7,272.1 258.8,271.3 258.9,271.3 259.0,270.8 259.1,270.9 259.2,270.8 259.2,270.9 259.3,270.8 259.4,270.9 259.5,271.0 259.6,270.8 259.7,270.7 259.7,270.7 259.8,271.3 259.9,271.1 260.0,271.5 260.1,271.5 260.2,271.0 260.2,271.3 260.3,270.7 260.4,271.9 260.5,271.5 260.6,271.1 260.6,270.8 260.7,271.3 260.8,270.5 260.9,270.9 261.0,271.4 261.1,271.2 261.1,271.0 261.2,271.5 261.3,270.8 261.4,271.2 261.5,271.0 261.6,270.9 261.6,271.3 261.7,270.8 261.8,271.8 261.9,271.0 262.0,271.8 262.1,270.8 262.1,271.3 262.2,270.8 262.3,270.7 262.4,271.2 262.5,271.4 262.6,270.7 262.6,271.5 262.7,270.9 262.8,271.2 262.9,271.3 263.0,271.3 263.1,270.6 263.1,271.7 263.2,271.3 263.3,271.0 263.4,270.8 263.5,270.6 263.5,270.7 263.6,271.3 263.7,271.1 263.8,270.8 263.9,271.0 264.0,271.7 264.0,271.1 264.1,271.0 264.2,271.6 264.3,271.3 264.4,271.2 264.5,271.0 264.5,270.7 264.6,270.8 264.7,271.0 264.8,271.1 264.9,271.3 265.0,271.3 265.0,271.2 265.1,271.2 265.2,270.8 265.3,270.5 265.4,271.0 265.5,270.9 265.5,271.0 265.6,271.1 265.7,270.8 265.8,270.8 265.9,271.1 266.0,271.2 266.0,271.0 266.1,271.3 266.2,271.1 266.3,270.8 266.4,271.2 266.5,271.8 266.5,270.9 266.6,271.5 266.7,271.6 266.8,271.6 266.9,270.9 266.9,271.8 267.0,271.2 267.1,271.1 267.2,271.1 267.3,271.4 267.4,271.2 267.4,271.1 267.5,271.6 267.6,270.9 267.7,270.8 267.8,271.4 267.9,271.4 267.9,271.5 268.0,270.8 268.1,271.5 268.2,271.3 268.3,271.7 268.4,270.8 268.4,271.2 268.5,271.1 268.6,270.6 268.7,270.9 268.8,271.5 268.9,271.0 268.9,270.9 269.0,271.4 269.1,271.5 269.2,271.5 269.3,270.9 269.4,271.1 269.4,271.5 269.5,270.9 269.6,270.9 269.7,271.4 269.8,271.6 269.8,270.8 269.9,270.3 270.0,270.7 270.1,270.8 270.2,271.1 270.3,271.3 270.3,271.1 270.4,270.9 270.5,271.2 270.6,270.8 270.7,271.1 270.8,270.9 270.8,272.0 270.9,271.4 271.0,270.9 271.1,270.8 271.2,271.0 271.3,270.6 271.3,270.9 271.4,270.9 271.5,271.4 271.6,271.0 271.7,270.9 271.8,270.7 271.8,270.7 271.9,271.1 272.0,271.1 272.1,271.5 272.2,270.9 272.3,271.5 272.3,271.2 272.4,271.1 272.5,270.5 272.6,270.7 272.7,271.3 272.8,271.5 272.8,271.2 272.9,271.3 273.0,271.0 273.1,271.0 273.2,270.9 273.2,271.4 273.3,271.2 273.4,271.0 273.5,271.0 273.6,271.2 273.7,271.2 273.7,270.8 273.8,271.6 273.9,271.1 274.0,271.0 274.1,271.5 274.2,271.4 274.2,271.0 274.3,271.2 274.4,270.7 274.5,270.8 274.6,270.3 274.7,271.4 274.7,270.4 274.8,271.2 274.9,270.7 275.0,270.6 275.1,270.9 275.2,271.0 275.2,271.1 275.3,271.5 275.4,271.0 275.5,271.1 275.6,270.6 275.7,271.0 275.7,270.8 275.8,270.6 275.9,270.7 276.0,270.7 276.1,270.7 276.2,270.8 276.2,270.4 276.3,270.3 276.4,270.7 276.5,269.9 276.6,270.2 276.6,270.8 276.7,269.3 276.8,269.9 276.9,270.2 277.0,269.2 277.1,270.4 277.1,268.4 277.2,269.4 277.3,268.9 277.4,268.1 277.5,267.1 277.6,266.3 277.6,264.9 277.7,264.2 277.8,262.2 277.9,260.9 278.0,259.7 278.1,257.4 278.1,256.3 278.2,255.3 278.3,254.2 278.4,255.0 278.5,255.4 278.6,255.9 278.6,257.8 278.7,259.1 278.8,260.8 278.9,262.5 279.0,263.7 279.1,265.5 279.1,266.0 279.2,267.4 279.3,267.8 279.4,268.7 279.5,268.7 279.5,269.1 279.6,269.2 279.7,269.9 279.8,270.2 279.9,270.8 280.0,270.6 280.0,270.4 280.1,270.3 280.2,270.6 280.3,270.5 280.4,271.0 280.5,270.9 280.5,270.4 280.6,270.4 280.7,271.1 280.8,270.8 280.9,270.7 281.0,271.2 281.0,270.7 281.1,270.7 281.2,270.7 281.3,270.2 281.4,271.2 281.5,270.5 281.5,270.7 281.6,270.7 281.7,271.2 281.8,270.9 281.9,271.0 282.0,270.4 282.0,271.0 282.1,270.5 282.2,271.1 282.3,271.1 282.4,271.0 282.5,271.7 282.5,271.2 282.6,271.2 282.7,271.1 282.8,271.0 282.9,271.4 282.9,271.4 283.0,270.6 283.1,271.4 283.2,271.2 283.3,271.4 283.4,271.2 283.4,270.7 283.5,270.7 283.6,271.7 283.7,271.2 283.8,270.6 283.9,271.2 283.9,271.0 284.0,270.5 284.1,270.4 284.2,270.6 284.3,271.2 284.4,271.1 284.4,271.0 284.5,271.2 284.6,271.3 284.7,270.4 284.8,271.0 284.9,270.8 284.9,270.7 285.0,270.9 285.1,271.1 285.2,271.0 285.3,270.6 285.4,271.0 285.4,271.8 285.5,270.8 285.6,270.6 285.7,271.2 285.8,271.3 285.8,271.3 285.9,270.8 286.0,271.4 286.1,270.9 286.2,270.8 286.3,270.9 286.3,271.1 286.4,271.3 286.5,271.3 286.6,271.1 286.7,271.4 286.8,271.1 286.8,271.4 286.9,270.7 287.0,270.6 287.1,271.4 287.2,270.7 287.3,271.0 287.3,271.1 287.4,270.9 287.5,271.0 287.6,271.5 287.7,270.3 287.8,271.4 287.8,271.8 287.9,271.1 288.0,271.1 288.1,271.3 288.2,271.7 288.3,270.7 288.3,271.1 288.4,271.0 288.5,271.2 288.6,271.1 288.7,271.3 288.8,270.9 288.8,271.1 288.9,270.8 289.0,270.8 289.1,271.0 289.2,271.0 289.2,270.6 289.3,271.5 289.4,270.9 289.5,270.5 289.6,271.3 289.7,270.7 289.7,271.1 289.8,270.9 289.9,271.0 290.0,270.9 290.1,270.7 290.2,270.8 290.2,271.4 290.3,270.0 290.4,270.7 290.5,270.8 290.6,270.2 290.7,270.0 290.7,271.1 290.8,270.1 290.9,270.7 291.0,270.0 291.1,269.6 291.2,269.3 291.2,269.0 291.3,268.7 291.4,268.0 291.5,267.3 291.6,266.8 291.7,266.6 291.7,265.9 291.8,264.9 291.9,264.7 292.0,264.9 292.1,264.7 292.1,265.1 292.2,265.3 292.3,266.1 292.4,266.9 292.5,267.6 292.6,267.9 292.6,269.0 292.7,268.8 292.8,270.2 292.9,269.9 293.0,270.0 293.1,269.9 293.1,269.3 293.2,270.3 293.3,270.5 293.4,271.2 293.5,270.2 293.6,271.3 293.6,270.7 293.7,271.0 293.8,270.0 293.9,270.9 294.0,270.8 294.1,271.1 294.1,271.0 294.2,270.6 294.3,271.3 294.4,271.2 294.5,271.2 294.6,271.3 294.6,271.4 294.7,271.0 294.8,270.6 294.9,270.6 295.0,271.5 295.1,271.3 295.1,271.1 295.2,270.9 295.3,271.1 295.4,271.1 295.5,271.0 295.5,270.9 295.6,271.8 295.7,271.2 295.8,270.9 295.9,270.7 296.0,270.9 296.0,271.3 296.1,271.4 296.2,271.0 296.3,271.1 296.4,271.0 296.5,270.8 296.5,271.5 296.6,271.3 296.7,271.9 296.8,270.9 296.9,271.1 297.0,271.4 297.0,271.1 297.1,270.7 297.2,270.8 297.3,271.2 297.4,271.3 297.5,271.1 297.5,271.5 297.6,271.5 297.7,271.3 297.8,271.2 297.9,271.1 298.0,271.3 298.0,271.5 298.1,271.2 298.2,271.3 298.3,271.1 298.4,270.7 298.5,270.8 298.5,271.4 298.6,271.3 298.7,271.7 298.8,271.2 298.9,271.4 298.9,271.6 299.0,271.5 299.1,271.0 299.2,271.1 299.3,271.2 299.4,270.9 299.4,271.3 299.5,271.5 299.6,271.0 299.7,271.8 299.8,271.1 299.9,271.1 299.9,271.1 300.0,270.9 300.1,271.3 300.2,271.2 300.3,271.7 300.4,271.4 300.4,271.3 300.5,271.1 300.6,270.7 300.7,271.1 300.8,270.9 300.9,271.5 300.9,271.2 301.0,271.7 301.1,271.4 301.2,271.4 301.3,271.3 301.4,271.2 301.4,271.4 301.5,271.5 301.6,271.0 301.7,271.3 301.8,272.0 301.8,271.2 301.9,271.1 302.0,271.0 302.1,270.7 302.2,271.6 302.3,271.2 302.3,271.3 302.4,271.8 302.5,272.0 302.6,270.9 302.7,271.5 302.8,271.4 302.8,271.3 302.9,271.3 303.0,271.2 303.1,271.7 303.2,271.4 303.3,271.3" fill="none" stroke="#111111" stroke-width="1.2" stroke-linejoin="round"/>
<path d="M37.0,246.1 L37.1,246.0 37.1,245.8 37.2,245.8 37.3,246.3 37.4,245.9 37.5,245.7 37.6,245.4 37.6,245.6 37.7,245.4 37.8,245.7 37.9,245.8 38.0,245.0 38.1,245.7 38.1,245.9 38.2,245.8 38.3,245.4 38.4,246.1 38.5,245.5 38.6,245.3 38.6,245.4 38.7,245.7 38.8,246.0 38.9,246.1 39.0,245.8 39.1,245.3 39.1,245.5 39.2,245.4 39.3,245.6 39.4,245.1 39.5,245.7 39.6,245.9 39.6,245.7 39.7,245.8 39.8,245.4 39.9,245.2 40.0,245.5 40.1,246.1 40.1,246.0 40.2,245.6 40.3,246.1 40.4,245.6 40.5,246.2 40.5,245.9 40.6,245.6 40.7,246.0 40.8,245.4 40.9,245.4 41.0,245.2 41.0,245.8 41.1,245.7 41.2,245.7 41.3,245.6 41.4,246.2 41.5,245.6 41.5,245.5 41.6,246.1 41.7,246.2 41.8,245.8 41.9,245.1 42.0,245.5 42.0,245.9 42.1,245.7 42.2,246.2 42.3,245.3 42.4,245.9 42.5,245.5 42.5,246.1 42.6,245.7 42.7,246.0 42.8,245.5 42.9,245.2 43.0,245.3 43.0,245.5 43.1,245.4 43.2,246.1 43.3,246.1 43.4,245.8 43.4,245.4 43.5,245.7 43.6,245.5 43.7,246.2 43.8,245.8 43.9,245.9 43.9,245.6 44.0,245.1 44.1,245.5 44.2,245.3 44.3,245.8 44.4,245.7 44.4,245.4 44.5,245.6 44.6,246.2 44.7,245.4 44.8,245.4 44.9,245.6 44.9,245.5 45.0,245.6 45.1,245.9 45.2,246.3 45.3,245.1 45.4,245.7 45.4,245.7 45.5,245.7 45.6,245.6 45.7,245.6 45.8,246.0 45.9,245.5 45.9,245.7 46.0,245.7 46.1,245.7 46.2,245.6 46.3,246.0 46.4,245.7 46.4,245.8 46.5,245.7 46.6,245.4 46.7,245.4 46.8,245.4 46.8,245.8 46.9,245.5 47.0,245.4 47.1,245.8 47.2,245.9 47.3,245.1 47.3,246.2 47.4,245.7 47.5,245.7 47.6,246.0 47.7,245.7 47.8,245.5 47.8,246.4 47.9,245.4 48.0,245.7 48.1,246.0 48.2,245.4 48.3,245.7 48.3,245.8 48.4,246.5 48.5,245.4 48.6,245.7 48.7,245.9 48.8,245.7 48.8,245.3 48.9,245.8 49.0,245.7 49.1,245.8 49.2,246.1 49.3,246.0 49.3,245.8 49.4,245.8 49.5,245.3 49.6,245.7 49.7,245.8 49.8,245.6 49.8,245.7 49.9,245.4 50.0,246.2 50.1,246.4 50.2,245.6 50.2,245.8 50.3,245.6 50.4,246.1 50.5,245.8 50.6,245.7 50.7,245.6 50.7,245.7 50.8,245.4 50.9,245.9 51.0,245.5 51.1,245.9 51.2,245.7 51.2,246.0 51.3,245.7 51.4,246.0 51.5,245.4 51.6,245.9 51.7,245.6 51.7,245.8 51.8,245.7 51.9,246.0 52.0,245.0 52.1,245.8 52.2,245.2 52.2,246.1 52.3,245.1 52.4,245.4 52.5,245.2 52.6,246.2 52.7,245.3 52.7,245.7 52.8,245.5 52.9,245.1 53.0,245.6 53.1,245.9 53.1,245.6 53.2,246.0 53.3,245.6 53.4,245.7 53.5,245.6 53.6,245.8 53.6,246.3 53.7,245.8 53.8,245.8 53.9,245.5 54.0,245.5 54.1,246.2 54.1,245.3 54.2,245.4 54.3,245.7 54.4,245.6 54.5,246.3 54.6,244.9 54.6,245.8 54.7,245.9 54.8,245.3 54.9,245.5 55.0,245.8 55.1,246.2 55.1,245.4 55.2,245.2 55.3,246.0 55.4,246.2 55.5,245.6 55.6,245.0 55.6,246.2 55.7,245.6 55.8,246.1 55.9,245.7 56.0,245.6 56.1,245.6 56.1,246.2 56.2,246.2 56.3,245.0 56.4,245.4 56.5,246.3 56.5,245.6 56.6,245.3 56.7,245.7 56.8,245.7 56.9,245.7 57.0,245.5 57.0,245.6 57.1,245.5 57.2,245.8 57.3,245.4 57.4,245.6 57.5,245.6 57.5,246.1 57.6,245.8 57.7,245.7 57.8,245.9 57.9,245.8 58.0,246.0 58.0,245.9 58.1,246.3 58.2,246.1 58.3,245.7 58.4,245.6 58.5,246.0 58.5,245.9 58.6,245.7 58.7,245.2 58.8,245.1 58.9,245.8 59.0,245.9 59.0,246.0 59.1,245.3 59.2,246.0 59.3,245.5 59.4,245.8 59.4,245.8 59.5,245.4 59.6,245.5 59.7,245.0 59.8,245.4 59.9,245.1 59.9,245.8 60.0,245.7 60.1,246.0 60.2,245.8 60.3,245.5 60.4,245.8 60.4,245.6 60.5,245.9 60.6,245.8 60.7,245.4 60.8,245.7 60.9,245.7 60.9,245.6 61.0,246.0 61.1,246.2 61.2,245.6 61.3,245.6 61.4,245.0 61.4,245.7 61.5,245.6 61.6,245.0 61.7,245.8 61.8,245.9 61.9,245.5 61.9,245.6 62.0,245.4 62.1,245.9 62.2,245.2 62.3,245.6 62.4,246.3 62.4,245.7 62.5,245.8 62.6,245.6 62.7,245.3 62.8,245.7 62.8,245.8 62.9,245.4 63.0,245.8 63.1,246.1 63.2,246.0 63.3,245.2 63.3,245.4 63.4,245.2 63.5,246.0 63.6,245.9 63.7,245.9 63.8,245.4 63.8,245.3 63.9,245.7 64.0,245.7 64.1,245.4 64.2,245.7 64.3,245.9 64.3,245.8 64.4,245.4 64.5,245.0 64.6,245.6 64.7,245.7 64.8,245.6 64.8,245.6 64.9,245.5 65.0,245.9 65.1,245.7 65.2,245.7 65.3,245.4 65.3,245.5 65.4,245.7 65.5,245.4 65.6,245.3 65.7,245.6 65.8,246.1 65.8,245.8 65.9,246.2 66.0,245.6 66.1,245.6 66.2,245.2 66.2,245.5 66.3,246.1 66.4,245.8 66.5,245.9 66.6,245.9 66.7,245.7 66.7,245.6 66.8,245.7 66.9,245.9 67.0,245.8 67.1,245.8 67.2,245.7 67.2,245.4 67.3,245.6 67.4,245.4 67.5,246.0 67.6,245.0 67.7,245.6 67.7,246.5 67.8,245.6 67.9,245.3 68.0,245.7 68.1,246.1 68.2,245.6 68.2,245.9 68.3,245.7 68.4,245.6 68.5,246.7 68.6,245.7 68.7,245.5 68.7,245.5 68.8,245.8 68.9,245.8 69.0,245.9 69.1,245.7 69.1,245.2 69.2,245.9 69.3,245.6 69.4,245.6 69.5,245.2 69.6,245.5 69.6,245.5 69.7,245.7 69.8,245.2 69.9,245.7 70.0,245.7 70.1,245.3 70.1,245.5 70.2,245.4 70.3,246.0 70.4,244.9 70.5,245.6 70.6,245.2 70.6,245.5 70.7,246.0 70.8,245.5 70.9,245.7 71.0,245.4 71.1,246.3 71.1,246.0 71.2,246.0 71.3,245.3 71.4,245.3 71.5,246.0 71.6,245.6 71.6,245.6 71.7,245.8 71.8,245.3 71.9,245.9 72.0,245.7 72.1,245.8 72.1,245.5 72.2,245.8 72.3,245.5 72.4,246.0 72.5,246.0 72.5,246.0 72.6,245.8 72.7,245.9 72.8,244.8 72.9,245.9 73.0,245.6 73.0,245.7 73.1,245.6 73.2,245.2 73.3,245.5 73.4,245.9 73.5,246.1 73.5,245.5 73.6,245.4 73.7,246.1 73.8,245.4 73.9,246.3 74.0,245.7 74.0,245.4 74.1,246.0 74.2,246.2 74.3,245.2 74.4,246.2 74.5,245.6 74.5,246.2 74.6,245.6 74.7,245.2 74.8,245.8 74.9,246.0 75.0,246.3 75.0,246.2 75.1,245.9 75.2,245.6 75.3,245.5 75.4,245.6 75.4,245.4 75.5,245.6 75.6,244.9 75.7,245.7 75.8,245.7 75.9,246.5 75.9,245.9 76.0,245.5 76.1,245.9 76.2,245.3 76.3,245.5 76.4,245.1 76.4,246.1 76.5,245.9 76.6,245.3 76.7,245.7 76.8,246.0 76.9,245.8 76.9,245.8 77.0,245.4 77.1,245.5 77.2,245.7 77.3,246.0 77.4,245.4 77.4,245.3 77.5,246.0 77.6,245.4 77.7,246.0 77.8,245.7 77.9,245.9 77.9,246.2 78.0,245.9 78.1,245.9 78.2,245.4 78.3,245.4 78.4,245.9 78.4,246.2 78.5,246.1 78.6,246.4 78.7,245.8 78.8,245.7 78.8,246.0 78.9,245.7 79.0,245.6 79.1,245.3 79.2,246.0 79.3,245.3 79.3,245.8 79.4,245.2 79.5,246.0 79.6,245.3 79.7,245.9 79.8,245.1 79.8,245.5 79.9,246.0 80.0,245.4 80.1,245.7 80.2,245.5 80.3,244.9 80.3,245.7 80.4,245.8 80.5,245.3 80.6,245.8 80.7,245.4 80.8,245.3 80.8,245.6 80.9,245.4 81.0,246.4 81.1,245.1 81.2,245.9 81.3,246.0 81.3,245.0 81.4,245.1 81.5,245.8 81.6,245.5 81.7,245.8 81.7,246.0 81.8,245.5 81.9,245.3 82.0,244.8 82.1,245.7 82.2,245.3 82.2,245.7 82.3,245.7 82.4,245.2 82.5,246.2 82.6,246.0 82.7,245.9 82.7,245.2 82.8,245.5 82.9,245.4 83.0,245.5 83.1,245.2 83.2,245.7 83.2,245.7 83.3,245.7 83.4,245.4 83.5,246.0 83.6,245.7 83.7,244.7 83.7,245.4 83.8,245.6 83.9,245.9 84.0,245.5 84.1,245.5 84.2,245.4 84.2,245.8 84.3,245.4 84.4,245.4 84.5,245.3 84.6,245.7 84.7,245.4 84.7,245.0 84.8,245.7 84.9,245.3 85.0,245.6 85.1,245.6 85.1,245.9 85.2,245.8 85.3,245.3 85.4,245.5 85.5,245.1 85.6,246.0 85.6,245.6 85.7,245.9 85.8,245.4 85.9,244.8 86.0,245.9 86.1,245.5 86.1,245.5 86.2,245.4 86.3,245.6 86.4,245.6 86.5,244.9 86.6,245.7 86.6,245.2 86.7,245.2 86.8,245.9 86.9,245.6 87.0,245.2 87.1,244.7 87.1,245.3 87.2,245.4 87.3,245.2 87.4,244.8 87.5,244.9 87.6,244.7 87.6,245.2 87.7,245.3 87.8,245.3 87.9,244.7 88.0,245.0 88.1,245.0 88.1,244.6 88.2,244.7 88.3,245.3 88.4,244.6 88.5,244.8 88.5,244.2 88.6,244.3 88.7,243.6 88.8,244.0 88.9,244.2 89.0,244.3 89.0,243.8 89.1,243.3 89.2,242.8 89.3,242.2 89.4,241.8 89.5,241.5 89.5,240.3 89.6,239.9 89.7,237.9 89.8,235.5 89.9,232.5 90.0,227.0 90.0,218.9 90.1,207.5 90.2,190.6 90.3,171.0 90.4,151.4 90.5,138.0 90.5,137.4 90.6,151.4 90.7,171.0 90.8,190.7 90.9,207.3 91.0,218.9 91.0,227.3 91.1,232.8 91.2,236.3 91.3,238.0 91.4,239.5 91.4,240.9 91.5,241.7 91.6,242.1 91.7,242.8 91.8,242.6 91.9,243.0 91.9,243.5 92.0,243.5 92.1,243.6 92.2,244.5 92.3,244.1 92.4,244.0 92.4,244.5 92.5,245.1 92.6,244.6 92.7,245.1 92.8,244.6 92.9,244.6 92.9,244.6 93.0,244.9 93.1,245.5 93.2,244.6 93.3,245.6 93.4,244.8 93.4,245.0 93.5,245.4 93.6,245.4 93.7,245.3 93.8,244.7 93.9,245.4 93.9,244.9 94.0,246.1 94.1,245.2 94.2,245.4 94.3,245.0 94.4,245.2 94.4,245.0 94.5,245.7 94.6,245.3 94.7,245.6 94.8,245.2 94.8,245.3 94.9,245.9 95.0,245.1 95.1,244.9 95.2,245.6 95.3,245.1 95.3,245.3 95.4,245.8 95.5,245.2 95.6,245.8 95.7,245.3 95.8,246.0 95.8,245.9 95.9,245.4 96.0,245.5 96.1,245.3 96.2,245.6 96.3,245.9 96.3,245.1 96.4,245.8 96.5,245.1 96.6,245.3 96.7,245.0 96.8,246.2 96.8,245.6 96.9,245.7 97.0,245.4 97.1,245.9 97.2,244.9 97.3,245.6 97.3,246.3 97.4,245.5 97.5,245.6 97.6,245.8 97.7,245.3 97.7,245.6 97.8,245.9 97.9,245.7 98.0,245.7 98.1,245.5 98.2,245.7 98.2,245.6 98.3,246.1 98.4,245.8 98.5,245.5 98.6,244.8 98.7,245.9 98.7,245.9 98.8,245.3 98.9,245.0 99.0,245.3 99.1,245.9 99.2,245.3 99.2,245.5 99.3,245.7 99.4,246.0 99.5,245.6 99.6,245.6 99.7,245.5 99.7,246.2 99.8,246.0 99.9,245.6 100.0,245.2 100.1,245.4 100.2,245.8 100.2,245.4 100.3,245.9 100.4,245.8 100.5,245.7 100.6,245.9 100.7,245.8 100.7,245.4 100.8,245.5 100.9,246.4 101.0,245.3 101.1,245.5 101.1,246.0 101.2,245.6 101.3,245.4 101.4,245.2 101.5,245.8 101.6,246.0 101.6,246.1 101.7,245.7 101.8,246.0 101.9,245.3 102.0,245.7 102.1,245.4 102.1,245.7 102.2,245.9 102.3,246.0 102.4,245.3 102.5,246.1 102.6,245.5 102.6,245.3 102.7,245.6 102.8,245.2 102.9,245.7 103.0,245.8 103.1,245.6 103.1,245.8 103.2,245.6 103.3,245.7 103.4,245.2 103.5,245.7 103.6,245.4 103.6,245.5 103.7,245.6 103.8,245.7 103.9,245.1 104.0,245.2 104.0,245.6 104.1,245.8 104.2,245.8 104.3,246.0 104.4,246.1 104.5,245.8 104.5,245.7 104.6,245.3 104.7,245.4 104.8,245.5 104.9,245.8 105.0,245.7 105.0,245.7 105.1,245.6 105.2,245.9 105.3,245.7 105.4,245.8 105.5,245.8 105.5,245.5 105.6,245.3 105.7,245.8 105.8,245.8 105.9,245.6 106.0,245.5 106.0,246.4 106.1,245.4 106.2,245.6 106.3,245.8 106.4,245.3 106.5,245.7 106.5,246.3 106.6,246.0 106.7,245.9 106.8,245.9 106.9,245.7 107.0,246.0 107.0,245.6 107.1,245.5 107.2,245.7 107.3,246.0 107.4,245.8 107.4,245.9 107.5,245.0 107.6,246.1 107.7,246.4 107.8,246.1 107.9,245.6 107.9,245.4 108.0,245.8 108.1,245.4 108.2,245.9 108.3,245.5 108.4,246.0 108.4,246.1 108.5,245.0 108.6,245.8 108.7,245.5 108.8,245.2 108.9,245.5 108.9,245.6 109.0,246.0 109.1,245.2 109.2,246.0 109.3,246.3 109.4,245.9 109.4,245.9 109.5,245.7 109.6,245.3 109.7,245.9 109.8,245.8 109.9,245.9 109.9,246.5 110.0,245.9 110.1,245.8 110.2,246.2 110.3,245.3 110.4,245.3 110.4,245.6 110.5,245.5 110.6,245.9 110.7,245.6 110.8,246.2 110.8,246.2 110.9,245.9 111.0,245.6 111.1,245.9 111.2,245.9 111.3,245.3 111.3,245.8 111.4,245.9 111.5,245.8 111.6,246.2 111.7,246.1 111.8,245.4 111.8,245.7 111.9,245.4 112.0,245.9 112.1,245.4 112.2,246.0 112.3,245.8 112.3,246.0 112.4,245.6 112.5,245.2 112.6,246.3 112.7,245.6 112.8,246.1 112.8,245.8 112.9,245.9 113.0,246.3 113.1,245.8 113.2,246.1 113.3,245.2 113.3,246.0 113.4,245.6 113.5,245.6 113.6,245.7 113.7,245.8 113.7,246.2 113.8,245.1 113.9,245.7 114.0,245.5 114.1,246.1 114.2,245.6 114.2,245.8 114.3,245.6 114.4,245.9 114.5,246.0 114.6,245.6 114.7,245.7 114.7,245.2 114.8,245.8 114.9,246.0 115.0,245.5 115.1,246.0 115.2,245.0 115.2,245.1 115.3,245.2 115.4,245.5 115.5,245.7 115.6,245.7 115.7,245.7 115.7,245.9 115.8,245.5 115.9,245.3 116.0,245.3 116.1,246.4 116.2,244.9 116.2,245.6 116.3,246.2 116.4,245.8 116.5,245.4 116.6,245.7 116.7,246.0 116.7,246.1 116.8,245.4 116.9,245.9 117.0,245.8 117.1,246.0 117.1,246.1 117.2,245.6 117.3,245.2 117.4,245.8 117.5,246.3 117.6,245.9 117.6,245.8 117.7,246.5 117.8,245.4 117.9,246.0 118.0,245.5 118.1,245.7 118.1,245.7 118.2,246.2 118.3,245.4 118.4,245.5 118.5,245.2 118.6,245.8 118.6,245.5 118.7,245.8 118.8,245.3 118.9,245.6 119.0,246.0 119.1,245.6 119.1,245.9 119.2,245.9 119.3,245.6 119.4,245.2 119.5,246.0 119.6,245.7 119.6,246.0 119.7,245.0 119.8,245.2 119.9,245.0 120.0,245.4 120.0,246.0 120.1,245.9 120.2,245.7 120.3,245.7 120.4,245.9 120.5,245.6 120.5,245.8 120.6,245.7 120.7,245.0 120.8,245.6 120.9,246.1 121.0,245.6 121.0,245.6 121.1,245.5 121.2,245.5 121.3,246.1 121.4,245.6 121.5,245.4 121.5,244.7 121.6,245.5 121.7,245.1 121.8,245.1 121.9,245.9 122.0,245.9 122.0,245.1 122.1,246.0 122.2,245.8 122.3,245.4 122.4,245.9 122.5,245.2 122.5,245.3 122.6,245.2 122.7,245.3 122.8,246.0 122.9,245.3 123.0,245.3 123.0,245.4 123.1,245.8 123.2,245.6 123.3,246.0 123.4,245.5 123.4,245.3 123.5,245.5 123.6,245.7 123.7,245.4 123.8,245.8 123.9,246.3 123.9,245.5 124.0,245.7 124.1,246.1 124.2,245.5 124.3,245.4 124.4,245.3 124.4,245.8 124.5,245.9 124.6,245.6 124.7,245.7 124.8,246.1 124.9,246.0 124.9,245.2 125.0,245.7 125.1,245.7 125.2,245.9 125.3,245.6 125.4,245.5 125.4,245.5 125.5,245.1 125.6,245.7 125.7,245.5 125.8,245.8 125.9,245.4 125.9,245.5 126.0,245.4 126.1,245.3 126.2,245.9 126.3,245.5 126.3,245.8 126.4,245.3 126.5,245.7 126.6,245.1 126.7,245.5 126.8,245.5 126.8,245.9 126.9,245.7 127.0,245.6 127.1,245.9 127.2,245.7 127.3,245.9 127.3,245.9 127.4,245.7 127.5,245.6 127.6,245.8 127.7,245.5 127.8,245.8 127.8,246.0 127.9,246.0 128.0,245.6 128.1,245.3 128.2,245.7 128.3,245.6 128.3,246.0 128.4,245.6 128.5,245.6 128.6,245.9 128.7,245.5 128.8,245.6 128.8,246.2 128.9,246.2 129.0,245.9 129.1,245.8 129.2,245.4 129.3,245.9 129.3,245.7 129.4,245.7 129.5,245.5 129.6,245.7 129.7,245.6 129.7,245.8 129.8,246.1 129.9,245.8 130.0,245.1 130.1,245.4 130.2,245.2 130.2,245.4 130.3,245.9 130.4,245.8 130.5,245.5 130.6,245.8 130.7,245.4 130.7,245.2 130.8,245.2 130.9,245.4 131.0,246.1 131.1,245.2 131.2,246.1 131.2,246.1 131.3,245.6 131.4,245.7 131.5,245.5 131.6,245.7 131.7,245.9 131.7,245.7 131.8,246.0 131.9,246.1 132.0,245.8 132.1,245.8 132.2,245.7 132.2,245.8 132.3,245.3 132.4,245.8 132.5,245.7 132.6,245.4 132.7,246.4 132.7,245.4 132.8,245.4 132.9,245.8 133.0,245.1 133.1,245.4 133.1,245.2 133.2,245.4 133.3,245.6 133.4,245.8 133.5,246.0 133.6,245.9 133.6,246.1 133.7,245.9 133.8,245.5 133.9,246.0 134.0,245.5 134.1,245.5 134.1,246.2 134.2,245.9 134.3,245.7 134.4,245.9 134.5,246.0 134.6,245.2 134.6,245.6 134.7,245.3 134.8,245.7 134.9,245.5 135.0,246.1 135.1,245.8 135.1,245.4 135.2,245.7 135.3,245.3 135.4,245.7 135.5,245.8 135.6,245.8 135.6,245.1 135.7,245.6 135.8,245.8 135.9,245.8 136.0,246.0 136.0,245.3 136.1,245.8 136.2,245.5 136.3,245.7 136.4,245.8 136.5,245.9 136.5,245.5 136.6,245.7 136.7,245.3 136.8,245.2 136.9,245.8 137.0,245.7 137.0,245.2 137.1,245.4 137.2,245.7 137.3,246.2 137.4,246.0 137.5,245.9 137.5,245.1 137.6,245.6 137.7,245.8 137.8,245.8 137.9,245.8 138.0,245.6 138.0,246.2 138.1,246.1 138.2,245.6 138.3,245.4 138.4,246.3 138.5,245.5 138.5,246.1 138.6,246.3 138.7,245.4 138.8,245.8 138.9,245.6 139.0,245.8 139.0,245.8 139.1,246.3 139.2,245.9 139.3,245.7 139.4,246.0 139.4,245.6 139.5,245.6 139.6,246.4 139.7,245.4 139.8,245.5 139.9,245.7 139.9,245.3 140.0,245.0 140.1,246.0 140.2,245.4 140.3,245.5 140.4,245.6 140.4,245.4 140.5,245.3 140.6,245.7 140.7,246.4 140.8,245.9 140.9,245.9 140.9,245.2 141.0,245.7 141.1,245.3 141.2,245.9 141.3,245.6 141.4,245.7 141.4,245.6 141.5,245.5 141.6,245.2 141.7,245.9 141.8,245.2 141.9,245.3 141.9,245.6 142.0,245.4 142.1,245.8 142.2,246.0 142.3,245.7 142.3,245.7 142.4,245.7 142.5,245.9 142.6,245.1 142.7,245.8 142.8,245.4 142.8,245.3 142.9,245.7 143.0,245.5 143.1,245.9 143.2,246.0 143.3,244.9 143.3,245.6 143.4,246.3 143.5,245.9 143.6,246.1 143.7,245.7 143.8,245.2 143.8,245.3 143.9,245.9 144.0,246.0 144.1,245.4 144.2,245.6 144.3,245.8 144.3,245.1 144.4,245.6 144.5,246.2 144.6,246.4 144.7,245.6 144.8,246.3 144.8,245.5 144.9,245.4 145.0,244.9 145.1,246.0 145.2,245.5 145.3,246.4 145.3,245.8 145.4,245.7 145.5,245.1 145.6,246.1 145.7,245.5 145.7,245.6 145.8,245.0 145.9,246.0 146.0,246.0 146.1,245.5 146.2,245.7 146.2,245.8 146.3,246.0 146.4,245.7 146.5,246.2 146.6,245.6 146.7,245.5 146.7,245.5 146.8,244.9 146.9,245.4 147.0,246.0 147.1,245.7 147.2,245.4 147.2,245.8 147.3,245.0 147.4,245.6 147.5,245.8 147.6,245.9 147.7,245.4 147.7,246.0 147.8,246.3 147.9,245.5 148.0,245.9 148.1,245.2 148.2,245.0 148.2,245.9 148.3,245.7 148.4,245.7 148.5,245.5 148.6,245.6 148.7,245.9 148.7,246.2 148.8,245.6 148.9,245.1 149.0,246.1 149.1,245.9 149.1,245.9 149.2,245.7 149.3,246.4 149.4,245.7 149.5,245.8 149.6,245.1 149.6,245.5 149.7,245.4 149.8,245.6 149.9,245.8 150.0,245.4 150.1,246.2 150.1,245.3 150.2,245.5 150.3,245.7 150.4,245.3 150.5,245.8 150.6,245.9 150.6,245.6 150.7,246.3 150.8,245.7 150.9,245.7 151.0,245.3 151.1,245.1 151.1,245.5 151.2,245.6 151.3,245.5 151.4,245.9 151.5,244.9 151.6,245.3 151.6,245.1 151.7,246.1 151.8,245.5 151.9,245.5 152.0,245.3 152.0,245.9 152.1,245.5 152.2,245.7 152.3,245.0 152.4,246.0 152.5,245.8 152.5,245.8 152.6,246.0 152.7,245.6 152.8,245.6 152.9,245.9 153.0,245.8 153.0,245.6 153.1,245.7 153.2,245.5 153.3,245.9 153.4,245.9 153.5,245.6 153.5,246.2 153.6,245.1 153.7,245.6 153.8,246.2 153.9,245.5 154.0,245.1 154.0,246.1 154.1,245.8 154.2,245.3 154.3,245.9 154.4,245.3 154.5,245.2 154.5,245.6 154.6,245.5 154.7,245.3 154.8,245.5 154.9,245.3 155.0,245.6 155.0,245.6 155.1,245.9 155.2,245.5 155.3,245.2 155.4,245.2 155.4,245.5 155.5,246.1 155.6,245.9 155.7,245.4 155.8,245.9 155.9,245.2 155.9,245.9 156.0,245.5 156.1,245.9 156.2,245.8 156.3,245.5 156.4,245.7 156.4,245.3 156.5,245.6 156.6,245.9 156.7,246.9 156.8,245.8 156.9,245.6 156.9,245.3 157.0,245.9 157.1,245.1 157.2,245.3 157.3,245.7 157.4,245.2 157.4,246.1 157.5,245.9 157.6,245.4 157.7,245.4 157.8,245.1 157.9,245.1 157.9,245.7 158.0,245.7 158.1,245.7 158.2,245.6 158.3,245.4 158.3,245.6 158.4,245.1 158.5,245.5 158.6,246.0 158.7,245.9 158.8,245.4 158.8,245.4 158.9,245.9 159.0,246.1 159.1,245.0 159.2,245.3 159.3,245.5 159.3,245.8 159.4,245.2 159.5,245.6 159.6,245.3 159.7,246.2 159.8,245.5 159.8,245.3 159.9,245.2 160.0,245.7 160.1,245.5 160.2,244.9 160.3,245.3 160.3,244.8 160.4,245.0 160.5,244.8 160.6,244.7 160.7,244.9 160.8,244.8 160.8,245.2 160.9,245.3 161.0,244.9 161.1,244.5 161.2,245.1 161.3,244.1 161.3,244.0 161.4,244.8 161.5,244.7 161.6,244.6 161.7,244.1 161.7,243.6 161.8,243.6 161.9,243.7 162.0,243.0 162.1,242.6 162.2,241.9 162.2,241.3 162.3,240.9 162.4,239.2 162.5,236.4 162.6,233.0 162.7,228.3 162.7,222.2 162.8,213.6 162.9,205.0 163.0,196.0 163.1,191.0 163.2,191.5 163.2,197.0 163.3,204.7 163.4,213.7 163.5,222.3 163.6,228.4 163.7,233.2 163.7,237.0 163.8,239.2 163.9,241.0 164.0,241.9 164.1,242.1 164.2,242.8 164.2,243.2 164.3,243.1 164.4,243.5 164.5,244.3 164.6,243.6 164.6,244.6 164.7,244.5 164.8,244.5 164.9,244.8 165.0,244.9 165.1,245.2 165.1,244.7 165.2,244.8 165.3,244.9 165.4,245.6 165.5,245.4 165.6,244.8 165.6,245.0 165.7,244.9 165.8,245.2 165.9,245.3 166.0,246.0 166.1,244.7 166.1,245.6 166.2,245.4 166.3,245.1 166.4,245.3 166.5,245.2 166.6,245.4 166.6,245.7 166.7,244.9 166.8,245.8 166.9,245.3 167.0,245.9 167.1,245.5 167.1,245.8 167.2,245.6 167.3,245.7 167.4,245.4 167.5,245.1 167.6,245.6 167.6,245.6 167.7,246.1 167.8,244.7 167.9,245.3 168.0,245.7 168.0,245.0 168.1,245.3 168.2,246.0 168.3,245.8 168.4,245.0 168.5,245.7 168.5,245.6 168.6,245.5 168.7,245.3 168.8,245.2 168.9,244.8 169.0,244.8 169.0,245.1 169.1,244.8 169.2,245.1 169.3,244.1 169.4,242.9 169.5,242.9 169.5,242.3 169.6,241.2 169.7,239.9 169.8,238.3 169.9,237.9 170.0,236.5 170.0,236.9 170.1,237.3 170.2,238.2 170.3,240.3 170.4,240.3 170.5,241.9 170.5,243.2 170.6,243.6 170.7,244.4 170.8,244.5 170.9,244.6 171.0,245.6 171.0,245.0 171.1,245.1 171.2,244.8 171.3,245.0 171.4,245.5 171.4,245.5 171.5,245.4 171.6,245.2 171.7,245.6 171.8,244.9 171.9,245.3 171.9,245.4 172.0,245.2 172.1,245.5 172.2,245.3 172.3,245.3 172.4,246.1 172.4,245.8 172.5,245.9 172.6,245.6 172.7,245.9 172.8,245.8 172.9,246.0 172.9,246.3 173.0,245.5 173.1,245.7 173.2,245.6 173.3,244.5 173.4,245.1 173.4,245.6 173.5,245.8 173.6,245.4 173.7,246.0 173.8,246.0 173.9,245.5 173.9,246.1 174.0,246.2 174.1,245.8 174.2,245.3 174.3,246.1 174.3,245.6 174.4,245.5 174.5,245.7 174.6,245.5 174.7,246.0 174.8,245.9 174.8,246.0 174.9,245.8 175.0,245.4 175.1,245.6 175.2,245.9 175.3,245.5 175.3,246.6 175.4,245.6 175.5,245.5 175.6,246.0 175.7,245.9 175.8,245.6 175.8,245.6 175.9,245.8 176.0,245.9 176.1,245.9 176.2,245.6 176.3,245.8 176.3,245.9 176.4,245.9 176.5,244.7 176.6,245.4 176.7,245.4 176.8,245.6 176.8,245.7 176.9,245.9 177.0,245.9 177.1,245.6 177.2,245.7 177.3,246.2 177.3,245.5 177.4,245.8 177.5,246.2 177.6,245.8 177.7,245.0 177.7,245.8 177.8,245.5 177.9,245.6 178.0,246.0 178.1,245.8 178.2,245.6 178.2,245.9 178.3,245.8 178.4,245.7 178.5,245.8 178.6,245.7 178.7,245.6 178.7,245.5 178.8,245.7 178.9,245.4 179.0,245.3 179.1,246.1 179.2,245.6 179.2,245.7 179.3,245.6 179.4,245.7 179.5,245.7 179.6,245.7 179.7,245.4 179.7,246.0 179.8,245.4 179.9,246.0 180.0,245.0 180.1,245.3 180.2,246.0 180.2,245.6 180.3,245.4 180.4,245.8 180.5,245.3 180.6,245.7 180.6,245.0 180.7,245.5 180.8,245.5 180.9,245.8 181.0,245.9 181.1,245.4 181.1,246.2 181.2,245.5 181.3,245.0 181.4,244.9 181.5,246.2 181.6,245.6 181.6,245.5 181.7,245.4 181.8,245.3 181.9,246.1 182.0,245.6 182.1,246.2 182.1,245.6 182.2,244.9 182.3,245.9 182.4,245.5 182.5,245.6 182.6,246.2 182.6,245.6 182.7,246.0 182.8,245.7 182.9,245.4 183.0,245.8 183.1,245.5 183.1,246.1 183.2,246.0 183.3,245.7 183.4,245.9 183.5,245.8 183.6,245.6 183.6,245.9 183.7,245.6 183.8,245.9 183.9,245.4 184.0,245.7 184.0,245.8 184.1,245.4 184.2,245.5 184.3,245.5 184.4,245.9 184.5,245.4 184.5,245.8 184.6,246.1 184.7,245.8 184.8,245.1 184.9,245.7 185.0,246.0 185.0,245.6 185.1,246.0 185.2,245.8 185.3,245.8 185.4,245.6 185.5,245.5 185.5,245.6 185.6,245.7 185.7,245.8 185.8,245.8 185.9,245.5 186.0,245.7 186.0,245.8 186.1,245.1 186.2,245.4 186.3,245.4 186.4,245.6 186.5,245.6 186.5,245.6 186.6,245.4 186.7,245.9 186.8,245.7 186.9,245.1 186.9,245.6 187.0,245.3 187.1,246.2 187.2,245.5 187.3,245.5 187.4,245.7 187.4,245.6 187.5,245.6 187.6,246.1 187.7,245.7 187.8,245.9 187.9,246.0 187.9,245.3 188.0,246.2 188.1,245.8 188.2,245.9 188.3,245.3 188.4,245.9 188.4,245.7 188.5,245.4 188.6,246.3 188.7,245.8 188.8,245.5 188.9,245.7 188.9,245.9 189.0,246.0 189.1,245.8 189.2,246.0 189.3,246.1 189.4,245.2 189.4,245.4 189.5,245.3 189.6,245.6 189.7,246.0 189.8,245.8 189.9,245.2 189.9,245.5 190.0,245.9 190.1,245.4 190.2,245.5 190.3,245.6 190.3,245.0 190.4,245.8 190.5,245.6 190.6,245.7 190.7,245.2 190.8,245.3 190.8,245.3 190.9,245.6 191.0,245.5 191.1,245.5 191.2,246.0 191.3,245.9 191.3,245.2 191.4,245.2 191.5,246.0 191.6,245.3 191.7,245.8 191.8,245.9 191.8,245.2 191.9,245.3 192.0,245.4 192.1,245.1 192.2,245.0 192.3,245.2 192.3,245.5 192.4,245.1 192.5,245.2 192.6,245.0 192.7,244.7 192.8,245.6 192.8,244.3 192.9,244.8 193.0,245.2 193.1,244.5 193.2,245.1 193.3,245.2 193.3,244.5 193.4,244.8 193.5,244.3 193.6,244.7 193.7,244.5 193.7,244.4 193.8,244.6 193.9,244.2 194.0,244.3 194.1,243.8 194.2,243.0 194.2,243.1 194.3,242.8 194.4,241.6 194.5,241.8 194.6,240.5 194.7,239.1 194.7,236.7 194.8,234.1 194.9,230.2 195.0,224.7 195.1,218.2 195.2,209.9 195.2,203.0 195.3,195.2 195.4,190.6 195.5,191.0 195.6,195.3 195.7,202.8 195.7,210.3 195.8,218.3 195.9,224.5 196.0,230.8 196.1,234.3 196.2,237.6 196.2,238.7 196.3,240.6 196.4,241.1 196.5,242.3 196.6,242.8 196.6,242.5 196.7,243.0 196.8,243.2 196.9,243.3 197.0,243.8 197.1,243.9 197.1,243.8 197.2,244.5 197.3,244.7 197.4,244.2 197.5,244.5 197.6,244.8 197.6,244.8 197.7,244.7 197.8,245.2 197.9,245.3 198.0,245.3 198.1,245.0 198.1,245.8 198.2,245.7 198.3,245.1 198.4,245.2 198.5,245.6 198.6,245.0 198.6,245.4 198.7,245.3 198.8,245.1 198.9,245.3 199.0,244.9 199.1,245.2 199.1,244.7 199.2,246.1 199.3,245.9 199.4,245.8 199.5,245.5 199.6,245.8 199.6,245.9 199.7,245.8 199.8,245.8 199.9,245.2 200.0,245.6 200.0,245.3 200.1,245.1 200.2,245.1 200.3,245.6 200.4,245.9 200.5,245.1 200.5,246.1 200.6,246.0 200.7,245.4 200.8,245.4 200.9,245.5 201.0,245.9 201.0,245.4 201.1,245.2 201.2,245.7 201.3,244.9 201.4,245.6 201.5,245.9 201.5,245.7 201.6,245.8 201.7,245.7 201.8,245.8 201.9,245.6 202.0,245.3 202.0,245.5 202.1,245.6 202.2,246.0 202.3,246.1 202.4,245.7 202.5,245.4 202.5,245.4 202.6,245.5 202.7,246.0 202.8,245.7 202.9,245.6 202.9,245.4 203.0,245.9 203.1,245.7 203.2,245.6 203.3,245.6 203.4,246.2 203.4,245.6 203.5,246.2 203.6,246.0 203.7,245.6 203.8,245.9 203.9,245.6 203.9,245.4 204.0,245.5 204.1,245.3 204.2,245.8 204.3,245.6 204.4,245.8 204.4,245.9 204.5,244.6 204.6,245.7 204.7,245.1 204.8,245.7 204.9,245.4 204.9,245.7 205.0,246.1 205.1,245.1 205.2,245.7 205.3,245.6 205.4,245.0 205.4,245.8 205.5,245.6 205.6,245.5 205.7,245.4 205.8,246.7 205.9,245.5 205.9,245.1 206.0,245.3 206.1,245.5 206.2,245.5 206.3,245.6 206.3,245.3 206.4,245.8 206.5,245.5 206.6,245.2 206.7,245.4 206.8,245.5 206.8,245.9 206.9,245.8 207.0,245.5 207.1,245.6 207.2,245.7 207.3,246.3 207.3,245.4 207.4,245.8 207.5,245.9 207.6,245.3 207.7,245.7 207.8,245.7 207.8,245.5 207.9,245.8 208.0,246.0 208.1,246.0 208.2,245.6 208.3,245.7 208.3,246.4 208.4,245.3 208.5,245.7 208.6,245.9 208.7,245.7 208.8,245.8 208.8,245.7 208.9,245.8 209.0,246.0 209.1,245.5 209.2,245.7 209.2,245.6 209.3,245.5 209.4,245.6 209.5,245.2 209.6,245.8 209.7,246.1 209.7,246.1 209.8,246.0 209.9,245.2 210.0,246.0 210.1,245.3 210.2,245.5 210.2,246.1 210.3,245.2 210.4,245.8 210.5,245.6 210.6,245.4 210.7,245.2 210.7,245.6 210.8,245.3 210.9,245.7 211.0,245.8 211.1,244.9 211.2,245.2 211.2,245.2 211.3,244.9 211.4,244.8 211.5,245.2 211.6,245.0 211.7,244.4 211.7,244.7 211.8,244.8 211.9,244.1 212.0,243.8 212.1,244.2 212.2,243.6 212.2,242.0 212.3,241.2 212.4,240.8 212.5,239.3 212.6,238.5 212.6,237.5 212.7,237.1 212.8,235.9 212.9,236.2 213.0,237.2 213.1,238.9 213.1,239.6 213.2,240.1 213.3,241.8 213.4,242.7 213.5,243.1 213.6,243.6 213.6,244.3 213.7,244.8 213.8,244.7 213.9,245.0 214.0,245.0 214.1,245.0 214.1,244.9 214.2,245.3 214.3,245.2 214.4,245.2 214.5,245.6 214.6,245.5 214.6,245.7 214.7,244.9 214.8,245.6 214.9,245.3 215.0,245.2 215.1,245.2 215.1,245.9 215.2,245.8 215.3,245.3 215.4,245.2 215.5,245.5 215.6,245.4 215.6,246.1 215.7,245.1 215.8,245.0 215.9,245.5 216.0,245.6 216.0,245.6 216.1,245.8 216.2,246.3 216.3,245.5 216.4,245.4 216.5,245.0 216.5,245.7 216.6,245.9 216.7,245.5 216.8,246.0 216.9,245.6 217.0,246.1 217.0,245.7 217.1,245.3 217.2,245.4 217.3,245.1 217.4,245.1 217.5,245.7 217.5,245.9 217.6,246.3 217.7,245.6 217.8,245.6 217.9,245.3 218.0,246.0 218.0,245.8 218.1,245.5 218.2,245.9 218.3,245.8 218.4,245.1 218.5,245.9 218.5,245.7 218.6,245.5 218.7,245.5 218.8,246.2 218.9,246.2 218.9,246.2 219.0,245.3 219.1,245.5 219.2,246.0 219.3,245.3 219.4,245.4 219.4,245.1 219.5,246.3 219.6,246.0 219.7,245.8 219.8,245.7 219.9,245.5 219.9,245.5 220.0,245.9 220.1,245.4 220.2,246.1 220.3,245.5 220.4,245.4 220.4,246.1 220.5,245.6 220.6,245.8 220.7,245.5 220.8,245.0 220.9,245.8 220.9,245.2 221.0,246.0 221.1,245.2 221.2,245.1 221.3,245.8 221.4,245.8 221.4,245.7 221.5,245.3 221.6,246.0 221.7,245.2 221.8,245.5 221.9,245.4 221.9,245.6 222.0,245.9 222.1,245.5 222.2,245.9 222.3,245.9 222.3,245.1 222.4,245.3 222.5,245.6 222.6,245.5 222.7,245.8 222.8,245.1 222.8,245.9 222.9,245.9 223.0,245.6 223.1,245.2 223.2,245.7 223.3,245.5 223.3,245.9 223.4,245.7 223.5,245.9 223.6,245.5 223.7,246.1 223.8,244.9 223.8,245.4 223.9,245.8 224.0,245.2 224.1,245.9 224.2,245.3 224.3,245.7 224.3,245.4 224.4,245.5 224.5,245.7 224.6,245.6 224.7,245.6 224.8,246.4 224.8,245.7 224.9,245.4 225.0,246.0 225.1,245.9 225.2,246.1 225.2,246.3 225.3,245.4 225.4,246.0 225.5,246.0 225.6,245.7 225.7,245.8 225.7,244.7 225.8,245.5 225.9,246.3 226.0,245.1 226.1,245.5 226.2,245.8 226.2,245.9 226.3,246.2 226.4,245.1 226.5,245.7 226.6,246.0 226.7,245.3 226.7,245.7 226.8,246.3 226.9,246.1 227.0,245.9 227.1,244.8 227.2,245.6 227.2,245.8 227.3,245.6 227.4,245.7 227.5,246.7 227.6,245.6 227.7,245.4 227.7,245.8 227.8,245.6 227.9,245.6 228.0,245.7 228.1,245.9 228.2,245.8 228.2,245.3 228.3,245.6 228.4,245.8 228.5,245.5 228.6,246.1 228.6,245.9 228.7,245.4 228.8,245.8 228.9,246.3 229.0,246.2 229.1,245.7 229.1,246.0 229.2,245.5 229.3,245.2 229.4,245.9 229.5,245.8 229.6,245.9 229.6,245.7 229.7,245.8 229.8,245.5 229.9,245.8 230.0,246.0 230.1,245.7 230.1,245.9 230.2,245.1 230.3,245.4 230.4,246.1 230.5,246.2 230.6,245.8 230.6,245.7 230.7,245.3 230.8,245.8 230.9,245.9 231.0,245.2 231.1,245.9 231.1,245.8 231.2,245.8 231.3,245.3 231.4,245.9 231.5,245.2 231.6,246.2 231.6,245.7 231.7,245.3 231.8,246.1 231.9,246.1 232.0,245.5 232.0,246.4 232.1,245.4 232.2,245.8 232.3,246.1 232.4,245.0 232.5,246.0 232.5,245.7 232.6,245.7 232.7,245.3 232.8,245.8 232.9,245.3 233.0,245.4 233.0,245.5 233.1,245.3 233.2,246.2 233.3,245.3 233.4,245.4 233.5,245.6 233.5,245.7 233.6,245.9 233.7,245.9 233.8,245.6 233.9,245.6 234.0,245.7 234.0,245.9 234.1,245.9 234.2,245.5 234.3,245.0 234.4,246.4 234.5,246.0 234.5,245.8 234.6,245.8 234.7,245.5 234.8,245.4 234.9,245.6 234.9,245.6 235.0,245.5 235.1,245.2 235.2,245.6 235.3,245.9 235.4,245.5 235.4,245.7 235.5,245.0 235.6,245.6 235.7,245.6 235.8,245.3 235.9,245.1 235.9,245.8 236.0,245.4 236.1,245.8 236.2,245.6 236.3,245.9 236.4,245.6 236.4,245.2 236.5,245.7 236.6,245.6 236.7,245.9 236.8,245.5 236.9,245.6 236.9,246.0 237.0,246.1 237.1,245.9 237.2,246.0 237.3,245.8 237.4,245.9 237.4,246.0 237.5,245.8 237.6,245.7 237.7,245.7 237.8,246.5 237.9,245.7 237.9,245.6 238.0,245.6 238.1,245.7 238.2,245.8 238.3,245.3 238.3,245.0 238.4,245.8 238.5,245.2 238.6,245.8 238.7,245.7 238.8,246.1 238.8,246.2 238.9,245.8 239.0,245.5 239.1,245.3 239.2,245.4 239.3,245.7 239.3,245.0 239.4,245.7 239.5,245.7 239.6,245.9 239.7,245.6 239.8,245.7 239.8,245.4 239.9,245.5 240.0,245.1 240.1,245.7 240.2,246.2 240.3,245.7 240.3,245.8 240.4,245.4 240.5,246.1 240.6,245.4 240.7,245.9 240.8,245.7 240.8,245.4 240.9,246.0 241.0,245.7 241.1,245.7 241.2,245.8 241.2,245.7 241.3,245.6 241.4,245.8 241.5,245.5 241.6,245.7 241.7,245.5 241.7,245.2 241.8,245.5 241.9,245.5 242.0,245.7 242.1,246.1 242.2,245.1 242.2,245.7 242.3,245.0 242.4,245.3 242.5,245.5 242.6,245.0 242.7,245.1 242.7,245.7 242.8,245.7 242.9,245.6 243.0,245.4 243.1,246.4 243.2,245.6 243.2,245.4 243.3,246.2 243.4,245.9 243.5,245.6 243.6,246.1 243.7,245.7 243.7,245.9 243.8,245.7 243.9,245.3 244.0,246.0 244.1,245.7 244.2,245.3 244.2,245.4 244.3,246.0 244.4,245.6 244.5,245.7 244.6,245.9 244.6,245.7 244.7,245.2 244.8,245.9 244.9,246.0 245.0,245.9 245.1,246.2 245.1,245.8 245.2,245.9 245.3,246.2 245.4,245.6 245.5,246.2 245.6,246.2 245.6,245.9 245.7,246.3 245.8,245.9 245.9,245.4 246.0,246.0 246.1,245.8 246.1,245.8 246.2,245.7 246.3,246.1 246.4,245.8 246.5,245.4 246.6,245.8 246.6,245.9 246.7,245.4 246.8,245.5 246.9,245.5 247.0,245.5 247.1,245.8 247.1,246.0 247.2,246.3 247.3,246.0 247.4,246.0 247.5,246.0 247.5,246.1 247.6,245.5 247.7,245.9 247.8,245.7 247.9,245.6 248.0,245.5 248.0,245.5 248.1,245.6 248.2,245.2 248.3,245.8 248.4,245.6 248.5,245.7 248.5,245.7 248.6,245.9 248.7,245.4 248.8,245.6 248.9,245.1 249.0,244.9 249.0,245.0 249.1,246.1 249.2,245.0 249.3,245.8 249.4,246.1 249.5,245.5 249.5,246.1 249.6,246.2 249.7,245.9 249.8,246.4 249.9,245.8 250.0,245.4 250.0,245.8 250.1,245.4 250.2,245.2 250.3,245.2 250.4,246.3 250.5,245.4 250.5,245.6 250.6,245.3 250.7,245.6 250.8,245.5 250.9,245.4 250.9,245.1 251.0,245.1 251.1,245.3 251.2,245.6 251.3,246.2 251.4,245.8 251.4,246.1 251.5,245.6 251.6,245.4 251.7,245.0 251.8,245.4 251.9,244.7 251.9,245.3 252.0,245.9 252.1,245.5 252.2,245.7 252.3,245.2 252.4,244.8 252.4,245.1 252.5,245.1 252.6,245.6 252.7,245.8 252.8,244.9 252.9,244.9 252.9,244.9 253.0,244.8 253.1,244.4 253.2,244.7 253.3,244.7 253.4,244.5 253.4,243.8 253.5,243.9 253.6,243.0 253.7,243.4 253.8,242.2 253.9,241.7 253.9,240.8 254.0,239.8 254.1,238.6 254.2,237.1 254.3,237.0 254.3,235.3 254.4,234.2 254.5,233.9 254.6,232.7 254.7,232.9 254.8,233.2 254.8,234.5 254.9,235.4 255.0,236.6 255.1,237.6 255.2,239.0 255.3,240.4 255.3,240.3 255.4,241.8 255.5,242.4 255.6,243.0 255.7,242.9 255.8,244.1 255.8,243.9 255.9,244.3 256.0,244.4 256.1,244.2 256.2,244.7 256.3,244.3 256.3,244.7 256.4,245.0 256.5,245.1 256.6,245.2 256.7,245.1 256.8,245.9 256.8,245.4 256.9,244.9 257.0,245.1 257.1,245.1 257.2,245.3 257.2,245.2 257.3,245.1 257.4,245.9 257.5,245.4 257.6,245.3 257.7,245.4 257.7,245.4 257.8,245.9 257.9,245.6 258.0,245.9 258.1,244.5 258.2,245.6 258.2,245.9 258.3,246.2 258.4,245.6 258.5,245.0 258.6,245.7 258.7,245.4 258.7,245.0 258.8,245.4 258.9,245.9 259.0,246.0 259.1,245.8 259.2,245.3 259.2,246.4 259.3,245.2 259.4,245.6 259.5,245.1 259.6,246.0 259.7,245.8 259.7,245.9 259.8,245.6 259.9,245.6 260.0,245.7 260.1,245.0 260.2,245.9 260.2,245.9 260.3,245.5 260.4,245.6 260.5,245.7 260.6,246.1 260.6,245.8 260.7,245.7 260.8,245.5 260.9,245.2 261.0,245.5 261.1,245.7 261.1,245.6 261.2,245.7 261.3,245.9 261.4,245.8 261.5,245.7 261.6,245.9 261.6,245.7 261.7,245.6 261.8,245.8 261.9,245.1 262.0,246.1 262.1,245.2 262.1,245.9 262.2,245.7 262.3,246.0 262.4,245.7 262.5,245.4 262.6,246.0 262.6,245.7 262.7,245.7 262.8,245.7 262.9,246.0 263.0,245.9 263.1,245.7 263.1,245.2 263.2,245.5 263.3,245.7 263.4,246.2 263.5,245.8 263.5,245.6 263.6,246.1 263.7,245.6 263.8,245.7 263.9,245.7 264.0,245.2 264.0,246.0 264.1,245.8 264.2,245.6 264.3,245.3 264.4,245.7 264.5,246.1 264.5,245.5 264.6,245.3 264.7,245.8 264.8,245.2 264.9,245.0 265.0,245.5 265.0,245.5 265.1,245.6 265.2,245.5 265.3,245.8 265.4,245.6 265.5,245.5 265.5,245.5 265.6,245.9 265.7,246.0 265.8,246.0 265.9,245.9 266.0,244.6 266.0,245.4 266.1,245.6 266.2,245.7 266.3,245.2 266.4,246.1 266.5,245.8 266.5,245.5 266.6,245.7 266.7,245.6 266.8,245.4 266.9,245.8 266.9,245.5 267.0,245.2 267.1,245.5 267.2,245.6 267.3,245.3 267.4,246.1 267.4,245.3 267.5,246.2 267.6,246.0 267.7,245.4 267.8,245.7 267.9,246.0 267.9,245.6 268.0,245.3 268.1,245.7 268.2,246.3 268.3,245.2 268.4,245.8 268.4,245.7 268.5,245.6 268.6,245.5 268.7,245.6 268.8,246.0 268.9,245.9 268.9,245.3 269.0,246.2 269.1,245.2 269.2,245.9 269.3,245.7 269.4,246.0 269.4,245.8 269.5,246.0 269.6,245.6 269.7,246.0 269.8,245.8 269.8,246.3 269.9,245.4 270.0,246.0 270.1,245.8 270.2,245.7 270.3,245.5 270.3,245.8 270.4,245.2 270.5,245.2 270.6,245.9 270.7,245.1 270.8,246.1 270.8,245.6 270.9,245.7 271.0,245.7 271.1,245.8 271.2,245.5 271.3,245.5 271.3,245.6 271.4,246.0 271.5,246.0 271.6,246.0 271.7,245.7 271.8,245.6 271.8,245.1 271.9,245.8 272.0,245.9 272.1,245.5 272.2,245.9 272.3,246.0 272.3,245.6 272.4,245.9 272.5,245.7 272.6,245.0 272.7,245.4 272.8,245.5 272.8,245.8 272.9,245.3 273.0,245.4 273.1,245.3 273.2,245.6 273.2,245.6 273.3,245.9 273.4,245.8 273.5,245.6 273.6,245.6 273.7,245.6 273.7,245.6 273.8,246.0 273.9,244.7 274.0,245.5 274.1,245.6 274.2,245.9 274.2,245.1 274.3,245.6 274.4,245.7 274.5,245.3 274.6,244.8 274.7,245.3 274.7,245.0 274.8,245.6 274.9,245.1 275.0,245.9 275.1,245.4 275.2,245.1 275.2,245.2 275.3,245.0 275.4,245.4 275.5,245.7 275.6,245.2 275.7,245.5 275.7,244.9 275.8,245.2 275.9,245.8 276.0,244.6 276.1,245.4 276.2,245.3 276.2,244.3 276.3,244.4 276.4,244.5 276.5,245.0 276.6,244.5 276.6,244.4 276.7,244.6 276.8,244.2 276.9,244.1 277.0,243.7 277.1,243.8 277.1,242.8 277.2,243.1 277.3,241.9 277.4,240.9 277.5,240.4 277.6,239.1 277.6,236.9 277.7,235.9 277.8,233.5 277.9,231.6 278.0,230.0 278.1,227.3 278.1,225.7 278.2,224.0 278.3,223.9 278.4,223.3 278.5,223.8 278.6,225.3 278.6,227.3 278.7,229.7 278.8,231.9 278.9,234.3 279.0,235.9 279.1,237.6 279.1,239.1 279.2,240.2 279.3,241.3 279.4,242.2 279.5,242.8 279.5,242.9 279.6,242.9 279.7,243.5 279.8,244.1 279.9,243.4 280.0,244.2 280.0,244.6 280.1,244.4 280.2,244.3 280.3,245.3 280.4,245.3 280.5,244.8 280.5,245.4 280.6,245.4 280.7,244.7 280.8,245.9 280.9,244.8 281.0,245.1 281.0,244.8 281.1,245.2 281.2,244.8 281.3,245.3 281.4,245.6 281.5,245.4 281.5,245.2 281.6,245.8 281.7,245.1 281.8,245.7 281.9,245.3 282.0,245.5 282.0,245.4 282.1,245.5 282.2,245.4 282.3,245.2 282.4,245.3 282.5,245.6 282.5,245.4 282.6,245.1 282.7,245.3 282.8,245.3 282.9,245.5 282.9,245.6 283.0,245.5 283.1,245.3 283.2,245.5 283.3,245.1 283.4,244.6 283.4,245.5 283.5,245.0 283.6,245.2 283.7,245.2 283.8,245.8 283.9,245.2 283.9,245.6 284.0,245.4 284.1,245.2 284.2,245.1 284.3,245.7 284.4,245.7 284.4,245.8 284.5,246.2 284.6,245.7 284.7,245.7 284.8,245.5 284.9,245.6 284.9,245.5 285.0,245.3 285.1,246.2 285.2,245.0 285.3,245.7 285.4,245.7 285.4,245.6 285.5,245.3 285.6,245.5 285.7,245.4 285.8,245.2 285.8,245.6 285.9,245.5 286.0,245.4 286.1,245.8 286.2,245.2 286.3,245.7 286.3,245.4 286.4,245.7 286.5,245.6 286.6,245.7 286.7,245.3 286.8,245.3 286.8,245.3 286.9,245.6 287.0,245.8 287.1,245.9 287.2,245.4 287.3,245.6 287.3,245.1 287.4,244.9 287.5,245.3 287.6,245.3 287.7,245.1 287.8,245.0 287.8,245.7 287.9,245.3 288.0,245.0 288.1,246.3 288.2,245.6 288.3,245.4 288.3,245.7 288.4,245.3 288.5,246.0 288.6,245.0 288.7,245.1 288.8,245.5 288.8,245.2 288.9,245.9 289.0,245.0 289.1,245.2 289.2,245.5 289.2,245.6 289.3,245.7 289.4,245.5 289.5,246.1 289.6,245.2 289.7,245.4 289.7,245.6 289.8,245.2 289.9,245.2 290.0,245.1 290.1,245.0 290.2,244.8 290.2,245.0 290.3,244.6 290.4,245.1 290.5,244.4 290.6,245.5 290.7,245.3 290.7,244.9 290.8,244.3 290.9,243.9 291.0,244.2 291.1,243.5 291.2,243.2 291.2,242.2 291.3,242.2 291.4,240.9 291.5,240.5 291.6,239.1 291.7,238.7 291.7,238.3 291.8,237.5 291.9,237.1 292.0,237.3 292.1,237.2 292.1,238.0 292.2,237.4 292.3,239.1 292.4,239.8 292.5,240.0 292.6,240.8 292.6,242.1 292.7,242.1 292.8,242.8 292.9,243.6 293.0,243.7 293.1,244.3 293.1,244.1 293.2,244.7 293.3,245.1 293.4,245.0 293.5,244.3 293.6,245.2 293.6,245.1 293.7,244.9 293.8,245.6 293.9,244.7 294.0,245.9 294.1,245.1 294.1,245.8 294.2,245.3 294.3,244.9 294.4,245.4 294.5,245.5 294.6,245.6 294.6,245.8 294.7,245.2 294.8,245.6 294.9,245.7 295.0,245.4 295.1,245.2 295.1,245.2 295.2,245.7 295.3,245.8 295.4,245.3 295.5,245.1 295.5,245.9 295.6,245.0 295.7,245.6 295.8,245.3 295.9,245.0 296.0,245.6 296.0,245.5 296.1,246.0 296.2,246.3 296.3,245.5 296.4,245.9 296.5,245.9 296.5,245.4 296.6,245.3 296.7,246.1 296.8,245.5 296.9,245.6 297.0,245.5 297.0,245.6 297.1,245.4 297.2,245.8 297.3,246.0 297.4,245.5 297.5,245.2 297.5,245.6 297.6,245.1 297.7,245.4 297.8,246.0 297.9,246.4 298.0,245.7 298.0,245.3 298.1,245.9 298.2,244.9 298.3,245.4 298.4,246.1 298.5,245.9 298.5,245.2 298.6,245.1 298.7,245.9 298.8,245.6 298.9,245.4 298.9,245.8 299.0,245.5 299.1,245.0 299.2,245.9 299.3,245.4 299.4,245.3 299.4,245.2 299.5,245.7 299.6,245.4 299.7,245.8 299.8,245.6 299.9,246.0 299.9,245.5 300.0,245.4 300.1,245.0 300.2,245.3 300.3,245.9 300.4,246.6 300.4,245.2 300.5,245.3 300.6,245.8 300.7,245.8 300.8,245.4 300.9,245.7 300.9,245.1 301.0,245.6 301.1,245.9 301.2,246.2 301.3,245.6 301.4,245.6 301.4,245.8 301.5,246.0 301.6,245.8 301.7,245.4 301.8,245.8 301.8,246.0 301.9,245.4 302.0,245.2 302.1,245.8 302.2,245.8 302.3,246.0 302.3,245.7 302.4,245.5 302.5,245.5 302.6,245.3 302.7,245.4 302.8,245.5 302.8,245.5 302.9,246.0 303.0,245.3 303.1,245.6 303.2,245.5 303.3,246.1" fill="none" stroke="#ff2424" stroke-width="1.2" stroke-linejoin="round"/>
<path d="M37.0,223.0 L37.1,222.8 37.1,223.1 37.2,222.9 37.3,222.7 37.4,223.4 37.5,223.1 37.6,223.4 37.6,223.3 37.7,223.1 37.8,222.9 37.9,222.5 38.0,223.1 38.1,222.9 38.1,223.1 38.2,222.9 38.3,222.7 38.4,222.6 38.5,223.1 38.6,223.3 38.6,222.8 38.7,223.0 38.8,223.3 38.9,222.6 39.0,222.8 39.1,222.5 39.1,223.3 39.2,223.0 39.3,222.7 39.4,222.4 39.5,222.8 39.6,223.2 39.6,222.8 39.7,222.7 39.8,223.1 39.9,222.5 40.0,222.9 40.1,223.1 40.1,222.6 40.2,222.6 40.3,223.0 40.4,222.9 40.5,222.8 40.5,223.0 40.6,223.0 40.7,222.6 40.8,222.7 40.9,223.0 41.0,223.2 41.0,223.3 41.1,222.6 41.2,223.2 41.3,223.1 41.4,222.9 41.5,223.0 41.5,223.1 41.6,223.5 41.7,222.6 41.8,223.1 41.9,222.8 42.0,222.8 42.0,223.3 42.1,223.1 42.2,222.6 42.3,222.8 42.4,223.0 42.5,222.4 42.5,223.2 42.6,222.9 42.7,222.9 42.8,223.0 42.9,223.5 43.0,222.9 43.0,222.8 43.1,223.4 43.2,222.7 43.3,222.7 43.4,222.4 43.4,223.2 43.5,223.0 43.6,223.0 43.7,222.9 43.8,222.8 43.9,222.6 43.9,222.6 44.0,223.0 44.1,222.9 44.2,223.4 44.3,222.6 44.4,222.7 44.4,222.6 44.5,223.3 44.6,222.5 44.7,223.1 44.8,223.3 44.9,222.8 44.9,223.1 45.0,222.2 45.1,222.8 45.2,222.4 45.3,222.9 45.4,222.9 45.4,222.6 45.5,223.2 45.6,223.0 45.7,222.7 45.8,222.7 45.9,222.4 45.9,222.8 46.0,223.6 46.1,222.7 46.2,223.0 46.3,222.7 46.4,223.1 46.4,223.0 46.5,222.8 46.6,222.3 46.7,222.7 46.8,223.3 46.8,222.8 46.9,223.1 47.0,222.7 47.1,222.3 47.2,223.0 47.3,223.0 47.3,222.7 47.4,222.8 47.5,223.0 47.6,222.7 47.7,223.0 47.8,222.8 47.8,222.1 47.9,222.8 48.0,222.7 48.1,222.6 48.2,223.0 48.3,222.7 48.3,223.1 48.4,223.2 48.5,222.9 48.6,222.4 48.7,222.7 48.8,223.2 48.8,222.8 48.9,222.6 49.0,222.9 49.1,223.0 49.2,223.0 49.3,223.1 49.3,222.6 49.4,222.8 49.5,222.8 49.6,222.9 49.7,222.2 49.8,222.8 49.8,222.5 49.9,223.3 50.0,223.4 50.1,223.4 50.2,223.1 50.2,222.7 50.3,223.2 50.4,222.8 50.5,223.1 50.6,222.6 50.7,222.7 50.7,223.0 50.8,223.5 50.9,222.9 51.0,223.6 51.1,223.8 51.2,222.5 51.2,222.9 51.3,222.6 51.4,222.8 51.5,222.7 51.6,222.9 51.7,223.2 51.7,223.2 51.8,223.0 51.9,222.9 52.0,222.9 52.1,222.9 52.2,223.1 52.2,222.9 52.3,223.0 52.4,222.5 52.5,223.1 52.6,223.4 52.7,222.9 52.7,222.4 52.8,223.3 52.9,222.8 53.0,221.9 53.1,222.8 53.1,223.1 53.2,223.0 53.3,223.3 53.4,223.1 53.5,222.9 53.6,222.3 53.6,222.5 53.7,222.9 53.8,223.1 53.9,222.6 54.0,222.7 54.1,223.0 54.1,222.3 54.2,222.3 54.3,222.8 54.4,223.0 54.5,222.7 54.6,222.2 54.6,222.9 54.7,222.5 54.8,223.1 54.9,222.9 55.0,223.0 55.1,223.1 55.1,222.7 55.2,223.2 55.3,223.3 55.4,223.0 55.5,223.3 55.6,222.7 55.6,223.2 55.7,223.0 55.8,222.6 55.9,222.9 56.0,222.7 56.1,222.7 56.1,222.9 56.2,223.2 56.3,222.8 56.4,222.9 56.5,222.4 56.5,222.9 56.6,223.3 56.7,223.1 56.8,223.0 56.9,222.7 57.0,222.6 57.0,222.9 57.1,222.5 57.2,222.5 57.3,223.2 57.4,222.6 57.5,223.5 57.5,222.4 57.6,223.0 57.7,222.5 57.8,222.9 57.9,222.6 58.0,222.9 58.0,222.8 58.1,222.7 58.2,223.1 58.3,223.4 58.4,222.7 58.5,223.2 58.5,222.9 58.6,222.9 58.7,223.6 58.8,222.2 58.9,222.7 59.0,222.3 59.0,222.8 59.1,222.8 59.2,224.1 59.3,223.0 59.4,223.5 59.4,223.3 59.5,222.8 59.6,223.0 59.7,223.4 59.8,222.9 59.9,223.0 59.9,223.0 60.0,222.4 60.1,222.6 60.2,223.0 60.3,223.1 60.4,222.6 60.4,222.8 60.5,222.9 60.6,222.8 60.7,223.1 60.8,222.9 60.9,222.9 60.9,222.4 61.0,222.6 61.1,223.0 61.2,222.4 61.3,223.0 61.4,222.7 61.4,222.6 61.5,223.1 61.6,222.7 61.7,222.6 61.8,222.7 61.9,222.9 61.9,223.8 62.0,222.2 62.1,222.9 62.2,222.8 62.3,223.2 62.4,222.8 62.4,222.1 62.5,223.3 62.6,222.5 62.7,222.9 62.8,222.5 62.8,222.5 62.9,222.7 63.0,223.2 63.1,223.2 63.2,222.7 63.3,223.0 63.3,222.8 63.4,222.9 63.5,222.9 63.6,223.1 63.7,222.7 63.8,222.8 63.8,223.0 63.9,222.9 64.0,222.6 64.1,223.4 64.2,222.7 64.3,223.1 64.3,222.9 64.4,223.3 64.5,222.2 64.6,223.5 64.7,222.8 64.8,222.5 64.8,222.9 64.9,223.6 65.0,223.0 65.1,222.5 65.2,222.7 65.3,223.3 65.3,222.4 65.4,222.8 65.5,222.8 65.6,223.6 65.7,222.8 65.8,223.3 65.8,222.7 65.9,222.6 66.0,223.2 66.1,223.1 66.2,222.3 66.2,223.1 66.3,223.1 66.4,222.7 66.5,223.0 66.6,223.0 66.7,222.7 66.7,222.7 66.8,222.7 66.9,222.8 67.0,222.5 67.1,222.9 67.2,222.4 67.2,222.9 67.3,222.9 67.4,222.6 67.5,223.2 67.6,223.5 67.7,223.3 67.7,222.4 67.8,223.3 67.9,222.9 68.0,222.9 68.1,222.7 68.2,222.9 68.2,223.3 68.3,223.1 68.4,222.7 68.5,222.7 68.6,222.7 68.7,223.1 68.7,223.5 68.8,222.5 68.9,222.9 69.0,222.8 69.1,222.6 69.1,223.0 69.2,223.1 69.3,222.4 69.4,222.5 69.5,223.3 69.6,223.0 69.6,223.0 69.7,222.7 69.8,222.8 69.9,223.0 70.0,222.7 70.1,222.5 70.1,222.9 70.2,223.2 70.3,222.5 70.4,223.2 70.5,223.1 70.6,222.6 70.6,222.9 70.7,222.9 70.8,223.1 70.9,223.1 71.0,222.5 71.1,222.4 71.1,223.2 71.2,222.9 71.3,223.0 71.4,223.0 71.5,223.4 71.6,222.5 71.6,223.2 71.7,222.6 71.8,223.1 71.9,223.3 72.0,222.4 72.1,223.0 72.1,222.8 72.2,222.8 72.3,222.9 72.4,222.5 72.5,222.6 72.5,223.1 72.6,223.1 72.7,222.7 72.8,222.4 72.9,223.6 73.0,223.2 73.0,223.0 73.1,222.5 73.2,222.7 73.3,222.9 73.4,222.6 73.5,223.4 73.5,222.9 73.6,223.0 73.7,222.5 73.8,222.6 73.9,222.6 74.0,223.0 74.0,222.8 74.1,222.8 74.2,223.0 74.3,222.9 74.4,223.3 74.5,222.8 74.5,222.5 74.6,222.9 74.7,223.3 74.8,222.7 74.9,222.9 75.0,222.8 75.0,223.0 75.1,222.9 75.2,222.6 75.3,222.8 75.4,223.2 75.4,223.2 75.5,223.2 75.6,223.1 75.7,222.8 75.8,222.8 75.9,223.2 75.9,222.5 76.0,222.8 76.1,222.3 76.2,222.7 76.3,222.6 76.4,222.5 76.4,223.0 76.5,222.6 76.6,222.7 76.7,222.8 76.8,222.6 76.9,223.3 76.9,222.7 77.0,222.9 77.1,222.4 77.2,222.7 77.3,222.8 77.4,222.8 77.4,222.7 77.5,222.9 77.6,223.3 77.7,222.8 77.8,222.8 77.9,222.7 77.9,223.7 78.0,223.4 78.1,223.0 78.2,223.1 78.3,222.6 78.4,222.8 78.4,222.9 78.5,222.9 78.6,222.6 78.7,222.6 78.8,223.0 78.8,222.9 78.9,222.2 79.0,222.9 79.1,223.2 79.2,222.6 79.3,222.9 79.3,222.4 79.4,223.1 79.5,222.5 79.6,222.5 79.7,222.7 79.8,223.6 79.8,222.7 79.9,222.4 80.0,223.0 80.1,222.9 80.2,223.4 80.3,222.4 80.3,222.3 80.4,222.7 80.5,223.0 80.6,222.9 80.7,223.2 80.8,222.4 80.8,222.6 80.9,222.8 81.0,223.1 81.1,223.0 81.2,222.7 81.3,222.5 81.3,223.1 81.4,223.1 81.5,223.7 81.6,222.8 81.7,223.3 81.7,222.4 81.8,222.7 81.9,222.6 82.0,222.7 82.1,222.5 82.2,222.6 82.2,222.8 82.3,222.7 82.4,223.0 82.5,222.8 82.6,222.8 82.7,223.3 82.7,222.9 82.8,222.9 82.9,222.8 83.0,222.8 83.1,223.0 83.2,222.5 83.2,223.2 83.3,223.3 83.4,223.2 83.5,222.6 83.6,222.3 83.7,222.6 83.7,222.8 83.8,223.0 83.9,222.7 84.0,222.7 84.1,223.2 84.2,222.6 84.2,223.1 84.3,223.0 84.4,222.3 84.5,222.8 84.6,222.6 84.7,222.4 84.7,222.2 84.8,222.2 84.9,222.9 85.0,222.6 85.1,222.8 85.1,222.4 85.2,222.6 85.3,222.6 85.4,222.2 85.5,222.2 85.6,222.8 85.6,222.7 85.7,222.4 85.8,222.6 85.9,222.9 86.0,223.2 86.1,222.4 86.1,222.8 86.2,223.3 86.3,222.6 86.4,223.0 86.5,221.8 86.6,223.0 86.6,222.5 86.7,221.9 86.8,222.8 86.9,222.8 87.0,222.9 87.1,222.8 87.1,222.4 87.2,222.2 87.3,222.2 87.4,222.4 87.5,222.5 87.6,222.2 87.6,222.3 87.7,222.5 87.8,222.3 87.9,222.9 88.0,222.8 88.1,221.7 88.1,221.8 88.2,221.5 88.3,221.5 88.4,221.9 88.5,221.4 88.5,221.2 88.6,221.4 88.7,221.6 88.8,221.1 88.9,220.9 89.0,221.1 89.0,220.7 89.1,220.4 89.2,220.3 89.3,219.2 89.4,219.1 89.5,218.3 89.5,218.1 89.6,217.0 89.7,215.0 89.8,213.7 89.9,209.7 90.0,205.1 90.0,196.6 90.1,184.1 90.2,167.5 90.3,148.0 90.4,128.2 90.5,114.6 90.5,115.0 90.6,127.8 90.7,148.1 90.8,167.9 90.9,183.8 91.0,196.6 91.0,204.4 91.1,209.2 91.2,213.1 91.3,215.3 91.4,217.0 91.4,217.6 91.5,218.9 91.6,219.5 91.7,219.9 91.8,220.4 91.9,220.4 91.9,220.4 92.0,221.0 92.1,221.3 92.2,221.3 92.3,221.2 92.4,221.0 92.4,221.8 92.5,221.8 92.6,221.4 92.7,221.9 92.8,222.2 92.9,222.0 92.9,222.3 93.0,222.3 93.1,221.7 93.2,222.1 93.3,222.4 93.4,222.6 93.4,222.8 93.5,221.7 93.6,222.3 93.7,222.6 93.8,222.8 93.9,223.0 93.9,222.2 94.0,222.4 94.1,222.2 94.2,222.8 94.3,222.1 94.4,222.9 94.4,222.9 94.5,222.7 94.6,221.9 94.7,222.4 94.8,222.8 94.8,222.2 94.9,222.6 95.0,222.6 95.1,222.9 95.2,222.7 95.3,222.8 95.3,222.5 95.4,222.7 95.5,222.6 95.6,222.9 95.7,222.6 95.8,223.0 95.8,222.2 95.9,223.1 96.0,222.7 96.1,223.1 96.2,222.8 96.3,223.0 96.3,223.2 96.4,222.6 96.5,222.8 96.6,222.7 96.7,222.8 96.8,222.2 96.8,222.7 96.9,222.7 97.0,222.5 97.1,222.7 97.2,222.3 97.3,223.2 97.3,222.9 97.4,223.4 97.5,222.5 97.6,222.4 97.7,222.9 97.7,222.3 97.8,222.9 97.9,222.6 98.0,222.7 98.1,222.9 98.2,222.8 98.2,223.4 98.3,223.0 98.4,222.4 98.5,223.1 98.6,222.4 98.7,222.8 98.7,222.4 98.8,222.6 98.9,223.2 99.0,222.6 99.1,222.6 99.2,222.6 99.2,222.7 99.3,223.3 99.4,222.5 99.5,222.4 99.6,223.0 99.7,222.3 99.7,222.7 99.8,223.2 99.9,222.8 100.0,222.7 100.1,222.6 100.2,222.5 100.2,222.6 100.3,222.9 100.4,223.2 100.5,223.1 100.6,222.7 100.7,222.6 100.7,223.1 100.8,222.3 100.9,222.7 101.0,222.7 101.1,222.5 101.1,222.5 101.2,222.9 101.3,222.3 101.4,222.6 101.5,222.6 101.6,222.9 101.6,222.4 101.7,223.2 101.8,222.7 101.9,222.8 102.0,222.7 102.1,222.6 102.1,222.5 102.2,223.2 102.3,222.9 102.4,222.8 102.5,223.2 102.6,222.6 102.6,223.0 102.7,222.9 102.8,222.6 102.9,223.1 103.0,222.4 103.1,223.1 103.1,222.6 103.2,223.0 103.3,223.3 103.4,223.0 103.5,222.7 103.6,222.8 103.6,222.7 103.7,222.5 103.8,222.5 103.9,222.9 104.0,223.0 104.0,222.3 104.1,222.8 104.2,223.0 104.3,222.9 104.4,222.5 104.5,223.2 104.5,222.5 104.6,223.1 104.7,223.4 104.8,222.2 104.9,222.9 105.0,222.9 105.0,222.9 105.1,222.6 105.2,222.7 105.3,222.4 105.4,222.9 105.5,223.0 105.5,222.6 105.6,222.6 105.7,222.7 105.8,222.8 105.9,222.9 106.0,222.8 106.0,222.9 106.1,222.4 106.2,222.0 106.3,223.0 106.4,223.3 106.5,222.4 106.5,222.6 106.6,222.9 106.7,223.1 106.8,223.1 106.9,223.3 107.0,222.8 107.0,223.0 107.1,223.0 107.2,222.7 107.3,223.2 107.4,223.0 107.4,223.2 107.5,222.7 107.6,223.2 107.7,222.5 107.8,223.0 107.9,222.0 107.9,222.5 108.0,223.1 108.1,222.7 108.2,222.9 108.3,222.3 108.4,223.3 108.4,223.0 108.5,222.8 108.6,223.0 108.7,223.0 108.8,223.3 108.9,222.9 108.9,222.4 109.0,222.8 109.1,223.3 109.2,223.0 109.3,222.7 109.4,223.0 109.4,222.9 109.5,223.0 109.6,222.4 109.7,222.6 109.8,223.1 109.9,222.8 109.9,223.0 110.0,223.5 110.1,222.8 110.2,222.9 110.3,222.7 110.4,222.7 110.4,222.8 110.5,222.4 110.6,222.2 110.7,223.3 110.8,222.8 110.8,223.2 110.9,222.9 111.0,222.9 111.1,223.1 111.2,223.1 111.3,222.5 111.3,223.2 111.4,222.6 111.5,222.9 111.6,223.7 111.7,222.9 111.8,223.4 111.8,222.7 111.9,223.0 112.0,222.9 112.1,223.0 112.2,222.6 112.3,222.6 112.3,223.0 112.4,222.4 112.5,222.6 112.6,223.1 112.7,222.7 112.8,222.6 112.8,222.5 112.9,222.9 113.0,222.7 113.1,222.9 113.2,222.8 113.3,223.4 113.3,222.7 113.4,222.2 113.5,222.9 113.6,222.9 113.7,222.9 113.7,222.4 113.8,223.2 113.9,222.8 114.0,222.8 114.1,222.4 114.2,223.0 114.2,222.8 114.3,223.3 114.4,222.7 114.5,222.5 114.6,222.9 114.7,222.6 114.7,223.0 114.8,222.5 114.9,222.8 115.0,222.8 115.1,222.8 115.2,222.7 115.2,222.6 115.3,222.8 115.4,222.7 115.5,222.9 115.6,222.8 115.7,222.2 115.7,222.8 115.8,223.3 115.9,223.0 116.0,223.0 116.1,223.0 116.2,222.7 116.2,222.4 116.3,223.1 116.4,223.2 116.5,223.0 116.6,223.0 116.7,223.0 116.7,222.9 116.8,222.9 116.9,222.9 117.0,223.0 117.1,222.6 117.1,222.7 117.2,223.0 117.3,222.8 117.4,222.1 117.5,222.9 117.6,222.2 117.6,223.5 117.7,223.1 117.8,223.1 117.9,222.7 118.0,222.5 118.1,222.8 118.1,222.9 118.2,222.6 118.3,222.9 118.4,223.1 118.5,223.0 118.6,222.5 118.6,222.2 118.7,222.9 118.8,222.7 118.9,223.0 119.0,223.4 119.1,223.4 119.1,222.9 119.2,223.2 119.3,223.4 119.4,222.9 119.5,222.9 119.6,223.1 119.6,222.9 119.7,222.7 119.8,222.6 119.9,222.9 120.0,222.7 120.0,223.1 120.1,222.8 120.2,223.3 120.3,223.2 120.4,222.5 120.5,223.2 120.5,222.7 120.6,223.3 120.7,223.0 120.8,222.9 120.9,223.1 121.0,222.7 121.0,223.0 121.1,223.0 121.2,222.8 121.3,223.0 121.4,222.6 121.5,223.0 121.5,222.5 121.6,223.1 121.7,223.0 121.8,223.1 121.9,222.7 122.0,223.8 122.0,222.8 122.1,222.9 122.2,222.6 122.3,223.3 122.4,222.7 122.5,223.2 122.5,222.6 122.6,223.0 122.7,222.8 122.8,223.2 122.9,222.8 123.0,222.6 123.0,223.0 123.1,222.5 123.2,222.6 123.3,223.1 123.4,222.3 123.4,223.1 123.5,222.8 123.6,222.6 123.7,222.9 123.8,223.1 123.9,222.7 123.9,222.8 124.0,223.1 124.1,223.1 124.2,222.9 124.3,222.6 124.4,222.6 124.4,222.7 124.5,223.1 124.6,223.1 124.7,223.0 124.8,223.3 124.9,222.8 124.9,222.8 125.0,222.8 125.1,223.5 125.2,222.3 125.3,223.0 125.4,223.0 125.4,222.9 125.5,223.6 125.6,223.2 125.7,223.1 125.8,222.6 125.9,223.0 125.9,222.8 126.0,222.9 126.1,222.9 126.2,222.7 126.3,223.1 126.3,223.4 126.4,223.2 126.5,222.9 126.6,222.3 126.7,223.2 126.8,223.2 126.8,222.8 126.9,222.7 127.0,223.1 127.1,222.6 127.2,223.1 127.3,222.6 127.3,222.6 127.4,222.9 127.5,222.4 127.6,222.9 127.7,223.0 127.8,222.5 127.8,223.2 127.9,222.7 128.0,223.1 128.1,223.0 128.2,222.8 128.3,222.7 128.3,222.4 128.4,222.7 128.5,222.7 128.6,223.4 128.7,223.2 128.8,222.5 128.8,223.1 128.9,223.0 129.0,222.8 129.1,223.0 129.2,223.1 129.3,222.7 129.3,222.8 129.4,222.9 129.5,222.6 129.6,222.9 129.7,222.9 129.7,222.7 129.8,222.6 129.9,223.0 130.0,223.2 130.1,223.0 130.2,222.6 130.2,223.1 130.3,222.9 130.4,223.1 130.5,223.2 130.6,222.6 130.7,222.8 130.7,222.7 130.8,222.6 130.9,223.5 131.0,223.2 131.1,222.4 131.2,223.0 131.2,222.7 131.3,223.2 131.4,222.9 131.5,222.8 131.6,222.9 131.7,223.0 131.7,222.9 131.8,222.8 131.9,222.9 132.0,223.0 132.1,222.6 132.2,222.9 132.2,222.9 132.3,222.7 132.4,223.1 132.5,222.5 132.6,222.8 132.7,222.6 132.7,223.1 132.8,222.8 132.9,222.9 133.0,223.0 133.1,222.4 133.1,223.0 133.2,222.7 133.3,222.8 133.4,222.9 133.5,223.1 133.6,223.1 133.6,223.4 133.7,222.9 133.8,222.7 133.9,222.7 134.0,223.1 134.1,223.4 134.1,223.0 134.2,222.7 134.3,223.0 134.4,223.0 134.5,222.9 134.6,222.7 134.6,222.1 134.7,222.7 134.8,223.2 134.9,223.0 135.0,222.2 135.1,222.9 135.1,222.3 135.2,223.5 135.3,222.9 135.4,222.5 135.5,223.1 135.6,222.7 135.6,223.1 135.7,222.9 135.8,222.5 135.9,223.1 136.0,222.5 136.0,223.3 136.1,222.9 136.2,222.6 136.3,222.3 136.4,223.4 136.5,223.3 136.5,222.5 136.6,223.4 136.7,222.9 136.8,222.8 136.9,222.9 137.0,222.8 137.0,223.3 137.1,222.9 137.2,222.3 137.3,223.5 137.4,223.2 137.5,222.6 137.5,222.8 137.6,222.6 137.7,222.9 137.8,223.0 137.9,223.0 138.0,222.7 138.0,222.7 138.1,223.1 138.2,222.9 138.3,223.6 138.4,222.6 138.5,223.1 138.5,222.9 138.6,222.7 138.7,223.3 138.8,222.9 138.9,222.6 139.0,222.8 139.0,223.2 139.1,222.5 139.2,223.3 139.3,223.1 139.4,222.8 139.4,223.3 139.5,223.4 139.6,223.1 139.7,222.9 139.8,223.4 139.9,223.3 139.9,222.6 140.0,222.8 140.1,222.8 140.2,222.8 140.3,222.4 140.4,223.2 140.4,222.9 140.5,222.9 140.6,223.3 140.7,222.7 140.8,222.9 140.9,223.0 140.9,222.8 141.0,222.9 141.1,223.1 141.2,222.9 141.3,223.3 141.4,222.7 141.4,222.9 141.5,222.5 141.6,222.9 141.7,222.7 141.8,223.3 141.9,223.1 141.9,223.0 142.0,223.4 142.1,223.3 142.2,223.1 142.3,222.7 142.3,222.5 142.4,222.9 142.5,222.8 142.6,222.7 142.7,222.8 142.8,222.4 142.8,223.3 142.9,222.5 143.0,222.7 143.1,223.1 143.2,222.4 143.3,223.2 143.3,223.2 143.4,222.8 143.5,222.6 143.6,222.7 143.7,222.3 143.8,223.3 143.8,222.9 143.9,222.7 144.0,222.6 144.1,223.1 144.2,223.3 144.3,222.5 144.3,222.7 144.4,222.4 144.5,223.1 144.6,222.9 144.7,223.6 144.8,222.8 144.8,222.8 144.9,222.7 145.0,223.1 145.1,222.4 145.2,223.1 145.3,223.0 145.3,222.7 145.4,222.6 145.5,223.2 145.6,223.4 145.7,222.8 145.7,223.0 145.8,223.4 145.9,222.7 146.0,222.8 146.1,222.5 146.2,222.8 146.2,222.9 146.3,222.8 146.4,222.7 146.5,222.4 146.6,222.5 146.7,222.6 146.7,223.1 146.8,222.7 146.9,222.6 147.0,223.1 147.1,223.1 147.2,222.7 147.2,222.7 147.3,223.1 147.4,223.0 147.5,222.6 147.6,223.0 147.7,222.9 147.7,223.2 147.8,222.6 147.9,223.2 148.0,223.0 148.1,222.6 148.2,223.2 148.2,223.2 148.3,222.5 148.4,223.5 148.5,222.5 148.6,222.6 148.7,222.8 148.7,223.1 148.8,223.1 148.9,222.9 149.0,223.3 149.1,223.0 149.1,223.3 149.2,223.7 149.3,222.9 149.4,222.1 149.5,222.7 149.6,222.5 149.6,222.9 149.7,222.9 149.8,222.5 149.9,222.5 150.0,222.8 150.1,222.8 150.1,222.1 150.2,223.2 150.3,222.9 150.4,222.9 150.5,223.0 150.6,222.6 150.6,222.9 150.7,223.2 150.8,223.2 150.9,223.0 151.0,222.8 151.1,222.6 151.1,223.3 151.2,223.0 151.3,222.7 151.4,222.2 151.5,222.6 151.6,222.3 151.6,223.3 151.7,222.9 151.8,222.6 151.9,222.8 152.0,223.7 152.0,223.2 152.1,222.5 152.2,222.8 152.3,222.5 152.4,222.3 152.5,222.9 152.5,223.6 152.6,223.4 152.7,222.9 152.8,222.7 152.9,222.9 153.0,223.2 153.0,222.4 153.1,222.3 153.2,223.5 153.3,223.0 153.4,223.4 153.5,222.9 153.5,223.3 153.6,222.7 153.7,223.0 153.8,223.3 153.9,223.2 154.0,222.7 154.0,223.1 154.1,222.6 154.2,222.4 154.3,223.0 154.4,223.3 154.5,223.1 154.5,222.5 154.6,223.1 154.7,223.1 154.8,222.7 154.9,222.1 155.0,223.2 155.0,223.1 155.1,223.0 155.2,222.3 155.3,222.4 155.4,223.2 155.4,223.1 155.5,223.0 155.6,222.8 155.7,223.0 155.8,222.7 155.9,222.7 155.9,222.6 156.0,222.9 156.1,222.7 156.2,223.1 156.3,223.1 156.4,222.6 156.4,223.4 156.5,222.5 156.6,223.0 156.7,223.2 156.8,223.2 156.9,222.1 156.9,223.1 157.0,223.2 157.1,223.3 157.2,222.1 157.3,222.6 157.4,222.8 157.4,222.7 157.5,223.2 157.6,222.6 157.7,223.2 157.8,223.0 157.9,222.3 157.9,222.5 158.0,222.6 158.1,222.8 158.2,223.1 158.3,222.7 158.3,223.1 158.4,222.3 158.5,221.8 158.6,222.6 158.7,222.9 158.8,222.6 158.8,222.4 158.9,222.9 159.0,223.3 159.1,222.7 159.2,222.5 159.3,222.4 159.3,223.3 159.4,222.7 159.5,222.9 159.6,223.0 159.7,223.0 159.8,222.3 159.8,222.9 159.9,222.9 160.0,222.7 160.1,222.9 160.2,222.4 160.3,222.5 160.3,222.3 160.4,222.7 160.5,222.3 160.6,222.6 160.7,222.1 160.8,222.3 160.8,222.2 160.9,222.3 161.0,222.3 161.1,222.1 161.2,222.1 161.3,221.4 161.3,222.4 161.4,221.7 161.5,221.7 161.6,221.4 161.7,221.9 161.7,221.1 161.8,221.4 161.9,221.4 162.0,221.3 162.1,220.8 162.2,220.2 162.2,219.0 162.3,218.9 162.4,217.5 162.5,215.4 162.6,212.4 162.7,208.0 162.7,202.1 162.8,195.6 162.9,187.8 163.0,179.8 163.1,175.8 163.2,175.6 163.2,180.4 163.3,187.5 163.4,195.6 163.5,202.6 163.6,208.2 163.7,211.7 163.7,215.4 163.8,217.2 163.9,218.1 164.0,219.6 164.1,219.5 164.2,220.7 164.2,221.3 164.3,220.9 164.4,221.5 164.5,221.6 164.6,221.8 164.6,221.3 164.7,222.0 164.8,222.0 164.9,222.2 165.0,222.1 165.1,222.5 165.1,222.3 165.2,222.5 165.3,222.7 165.4,222.4 165.5,222.7 165.6,222.5 165.6,222.6 165.7,222.3 165.8,222.7 165.9,222.9 166.0,222.5 166.1,222.8 166.1,222.7 166.2,222.2 166.3,222.7 166.4,223.0 166.5,222.4 166.6,222.0 166.6,222.7 166.7,222.4 166.8,223.2 166.9,222.6 167.0,222.6 167.1,222.4 167.1,222.7 167.2,222.5 167.3,222.4 167.4,222.6 167.5,222.4 167.6,223.1 167.6,222.3 167.7,222.6 167.8,222.4 167.9,222.2 168.0,223.2 168.0,222.0 168.1,223.1 168.2,222.2 168.3,222.6 168.4,223.3 168.5,221.9 168.5,222.1 168.6,222.9 168.7,222.5 168.8,222.2 168.9,222.3 169.0,222.0 169.0,222.2 169.1,222.5 169.2,221.7 169.3,221.5 169.4,221.4 169.5,221.1 169.5,219.5 169.6,218.7 169.7,217.3 169.8,216.1 169.9,215.1 170.0,214.3 170.0,214.0 170.1,214.6 170.2,216.0 170.3,217.5 170.4,219.0 170.5,219.5 170.5,220.4 170.6,221.3 170.7,221.8 170.8,221.8 170.9,222.0 171.0,222.8 171.0,222.2 171.1,222.2 171.2,221.9 171.3,222.6 171.4,222.5 171.4,223.2 171.5,222.5 171.6,222.9 171.7,222.9 171.8,223.2 171.9,222.3 171.9,223.2 172.0,222.7 172.1,222.7 172.2,222.6 172.3,222.6 172.4,222.6 172.4,222.0 172.5,222.9 172.6,222.8 172.7,222.5 172.8,222.8 172.9,223.5 172.9,222.9 173.0,222.7 173.1,223.3 173.2,222.6 173.3,222.8 173.4,222.6 173.4,222.7 173.5,223.1 173.6,223.0 173.7,222.6 173.8,222.8 173.9,222.9 173.9,222.7 174.0,222.8 174.1,222.6 174.2,222.6 174.3,222.9 174.3,222.5 174.4,223.0 174.5,222.8 174.6,222.6 174.7,222.7 174.8,222.7 174.8,222.8 174.9,222.9 175.0,222.8 175.1,222.6 175.2,223.3 175.3,223.1 175.3,222.9 175.4,223.2 175.5,223.0 175.6,222.8 175.7,222.9 175.8,223.7 175.8,223.2 175.9,223.2 176.0,222.7 176.1,223.1 176.2,223.6 176.3,223.0 176.3,223.2 176.4,223.3 176.5,223.1 176.6,223.4 176.7,222.9 176.8,223.0 176.8,222.7 176.9,223.7 177.0,223.0 177.1,222.9 177.2,223.3 177.3,222.7 177.3,222.9 177.4,222.6 177.5,222.9 177.6,222.8 177.7,223.0 177.7,222.8 177.8,222.7 177.9,222.8 178.0,222.8 178.1,222.7 178.2,223.2 178.2,223.1 178.3,222.9 178.4,222.5 178.5,223.0 178.6,222.5 178.7,222.9 178.7,222.9 178.8,222.7 178.9,222.6 179.0,222.7 179.1,223.5 179.2,222.8 179.2,222.8 179.3,223.2 179.4,223.0 179.5,223.2 179.6,222.5 179.7,222.5 179.7,223.9 179.8,222.9 179.9,222.8 180.0,222.9 180.1,223.2 180.2,222.5 180.2,223.0 180.3,222.9 180.4,223.1 180.5,222.9 180.6,222.7 180.6,222.6 180.7,222.1 180.8,223.2 180.9,222.4 181.0,222.8 181.1,223.4 181.1,222.7 181.2,223.1 181.3,222.8 181.4,223.1 181.5,222.9 181.6,222.7 181.6,223.3 181.7,222.8 181.8,222.5 181.9,222.8 182.0,223.0 182.1,222.5 182.1,223.1 182.2,223.1 182.3,223.5 182.4,222.7 182.5,223.1 182.6,222.4 182.6,222.7 182.7,222.9 182.8,223.0 182.9,222.9 183.0,222.8 183.1,222.7 183.1,222.7 183.2,223.0 183.3,223.0 183.4,223.1 183.5,223.2 183.6,223.2 183.6,222.3 183.7,222.7 183.8,222.8 183.9,222.7 184.0,223.2 184.0,223.1 184.1,222.8 184.2,222.9 184.3,223.3 184.4,222.8 184.5,222.8 184.5,223.1 184.6,223.0 184.7,223.3 184.8,223.0 184.9,223.1 185.0,222.7 185.0,222.6 185.1,222.9 185.2,222.0 185.3,223.0 185.4,223.2 185.5,222.9 185.5,222.8 185.6,223.2 185.7,222.8 185.8,223.2 185.9,223.5 186.0,223.1 186.0,223.1 186.1,223.0 186.2,222.9 186.3,222.9 186.4,222.9 186.5,223.2 186.5,222.4 186.6,222.8 186.7,223.1 186.8,222.6 186.9,222.8 186.9,222.6 187.0,223.0 187.1,223.1 187.2,223.3 187.3,223.0 187.4,222.6 187.4,222.9 187.5,223.0 187.6,223.3 187.7,222.2 187.8,223.0 187.9,222.3 187.9,223.1 188.0,223.0 188.1,223.0 188.2,223.1 188.3,222.9 188.4,222.6 188.4,222.9 188.5,223.2 188.6,222.8 188.7,222.8 188.8,222.4 188.9,223.2 188.9,222.7 189.0,222.6 189.1,222.7 189.2,222.5 189.3,222.7 189.4,223.2 189.4,223.0 189.5,223.2 189.6,223.2 189.7,222.5 189.8,222.9 189.9,223.2 189.9,223.5 190.0,222.3 190.1,222.3 190.2,222.9 190.3,222.7 190.3,222.5 190.4,222.9 190.5,222.5 190.6,222.1 190.7,222.7 190.8,222.8 190.8,222.9 190.9,223.0 191.0,222.8 191.1,222.6 191.2,222.5 191.3,222.2 191.3,222.5 191.4,223.0 191.5,222.9 191.6,223.3 191.7,222.6 191.8,222.1 191.8,222.9 191.9,222.9 192.0,222.2 192.1,222.1 192.2,222.6 192.3,222.8 192.3,222.2 192.4,222.4 192.5,222.2 192.6,222.1 192.7,222.0 192.8,222.4 192.8,222.3 192.9,222.1 193.0,221.5 193.1,222.8 193.2,221.9 193.3,222.1 193.3,221.8 193.4,222.2 193.5,221.5 193.6,221.9 193.7,221.7 193.7,222.0 193.8,221.2 193.9,221.2 194.0,221.2 194.1,221.7 194.2,220.4 194.2,220.7 194.3,220.0 194.4,219.9 194.5,219.4 194.6,218.3 194.7,217.2 194.7,215.4 194.8,212.6 194.9,209.2 195.0,204.1 195.1,198.8 195.2,192.0 195.2,185.2 195.3,179.4 195.4,175.5 195.5,175.5 195.6,179.5 195.7,184.6 195.7,192.4 195.8,198.9 195.9,204.6 196.0,208.9 196.1,212.9 196.2,215.6 196.2,217.4 196.3,218.3 196.4,219.4 196.5,220.0 196.6,220.8 196.6,220.9 196.7,220.9 196.8,221.1 196.9,221.3 197.0,221.5 197.1,221.4 197.1,221.9 197.2,221.6 197.3,221.6 197.4,222.1 197.5,221.9 197.6,222.0 197.6,221.5 197.7,222.4 197.8,222.2 197.9,222.3 198.0,222.5 198.1,222.4 198.1,222.2 198.2,223.0 198.3,222.3 198.4,222.8 198.5,223.1 198.6,222.3 198.6,222.6 198.7,222.3 198.8,222.9 198.9,222.5 199.0,222.3 199.1,223.0 199.1,222.9 199.2,222.4 199.3,223.0 199.4,222.7 199.5,223.5 199.6,223.2 199.6,222.5 199.7,222.6 199.8,222.4 199.9,222.7 200.0,222.7 200.0,222.9 200.1,222.8 200.2,222.3 200.3,222.5 200.4,223.2 200.5,223.1 200.5,222.7 200.6,222.7 200.7,222.7 200.8,222.8 200.9,222.3 201.0,223.0 201.0,222.6 201.1,222.8 201.2,222.0 201.3,222.9 201.4,223.2 201.5,222.1 201.5,223.3 201.6,222.9 201.7,222.6 201.8,222.3 201.9,223.2 202.0,222.9 202.0,223.0 202.1,222.7 202.2,222.6 202.3,223.1 202.4,222.5 202.5,223.1 202.5,222.3 202.6,222.5 202.7,222.4 202.8,223.2 202.9,222.3 202.9,222.5 203.0,223.0 203.1,222.9 203.2,223.5 203.3,223.4 203.4,223.0 203.4,223.0 203.5,222.3 203.6,222.6 203.7,222.7 203.8,222.8 203.9,222.4 203.9,222.6 204.0,222.6 204.1,223.2 204.2,223.0 204.3,222.7 204.4,222.8 204.4,222.9 204.5,222.6 204.6,222.8 204.7,222.3 204.8,223.0 204.9,223.1 204.9,223.0 205.0,223.0 205.1,223.0 205.2,223.5 205.3,222.9 205.4,222.4 205.4,222.5 205.5,223.1 205.6,223.2 205.7,223.1 205.8,223.1 205.9,222.9 205.9,222.4 206.0,222.6 206.1,222.3 206.2,222.7 206.3,222.4 206.3,222.9 206.4,222.8 206.5,222.2 206.6,223.1 206.7,223.1 206.8,222.4 206.8,222.9 206.9,223.1 207.0,222.8 207.1,223.1 207.2,222.9 207.3,223.2 207.3,222.9 207.4,222.8 207.5,223.0 207.6,223.1 207.7,222.9 207.8,222.7 207.8,222.6 207.9,222.7 208.0,222.7 208.1,222.9 208.2,222.9 208.3,222.8 208.3,222.8 208.4,222.9 208.5,223.3 208.6,223.2 208.7,222.6 208.8,223.0 208.8,222.7 208.9,222.8 209.0,222.7 209.1,222.6 209.2,222.4 209.2,222.1 209.3,222.9 209.4,223.2 209.5,222.5 209.6,223.0 209.7,222.7 209.7,222.9 209.8,222.5 209.9,222.7 210.0,222.7 210.1,222.0 210.2,222.8 210.2,222.7 210.3,222.0 210.4,222.9 210.5,222.7 210.6,222.8 210.7,222.8 210.7,222.6 210.8,222.4 210.9,222.5 211.0,222.5 211.1,223.3 211.2,223.2 211.2,222.4 211.3,222.4 211.4,222.6 211.5,222.6 211.6,222.2 211.7,222.0 211.7,222.8 211.8,222.4 211.9,221.5 212.0,221.2 212.1,221.1 212.2,221.0 212.2,220.6 212.3,219.7 212.4,218.6 212.5,218.4 212.6,217.7 212.6,216.8 212.7,216.1 212.8,216.3 212.9,216.2 213.0,216.4 213.1,217.5 213.1,217.9 213.2,219.4 213.3,220.0 213.4,220.1 213.5,221.0 213.6,221.8 213.6,221.0 213.7,221.9 213.8,222.6 213.9,221.8 214.0,222.3 214.1,222.0 214.1,222.5 214.2,221.8 214.3,222.0 214.4,222.4 214.5,222.7 214.6,222.8 214.6,222.8 214.7,223.0 214.8,222.9 214.9,222.9 215.0,222.4 215.1,222.7 215.1,223.7 215.2,223.5 215.3,223.0 215.4,223.0 215.5,223.1 215.6,222.7 215.6,223.4 215.7,222.7 215.8,222.8 215.9,223.5 216.0,222.1 216.0,222.9 216.1,222.3 216.2,222.6 216.3,222.8 216.4,222.7 216.5,222.9 216.5,222.6 216.6,222.8 216.7,222.5 216.8,222.7 216.9,222.4 217.0,223.0 217.0,222.4 217.1,223.1 217.2,222.7 217.3,222.7 217.4,223.2 217.5,222.9 217.5,222.2 217.6,223.0 217.7,221.9 217.8,222.9 217.9,222.7 218.0,222.4 218.0,222.9 218.1,222.8 218.2,223.5 218.3,222.7 218.4,223.5 218.5,223.3 218.5,222.7 218.6,222.6 218.7,223.3 218.8,222.8 218.9,222.9 218.9,222.8 219.0,222.5 219.1,222.7 219.2,222.6 219.3,222.4 219.4,222.8 219.4,223.4 219.5,223.4 219.6,222.8 219.7,222.9 219.8,223.0 219.9,223.3 219.9,223.0 220.0,222.7 220.1,222.7 220.2,223.2 220.3,223.7 220.4,222.7 220.4,222.2 220.5,223.1 220.6,222.8 220.7,222.9 220.8,223.3 220.9,222.9 220.9,222.4 221.0,222.2 221.1,222.9 221.2,222.5 221.3,223.0 221.4,222.5 221.4,222.8 221.5,222.4 221.6,222.8 221.7,222.7 221.8,223.1 221.9,223.3 221.9,222.8 222.0,222.6 222.1,223.5 222.2,223.0 222.3,223.1 222.3,223.1 222.4,223.3 222.5,223.2 222.6,223.1 222.7,223.1 222.8,222.6 222.8,222.7 222.9,222.8 223.0,222.9 223.1,222.9 223.2,223.0 223.3,222.9 223.3,222.7 223.4,222.4 223.5,223.1 223.6,223.1 223.7,222.6 223.8,223.0 223.8,223.0 223.9,222.9 224.0,222.3 224.1,222.5 224.2,222.7 224.3,223.4 224.3,222.6 224.4,222.8 224.5,222.5 224.6,222.7 224.7,223.0 224.8,222.2 224.8,222.0 224.9,223.1 225.0,222.9 225.1,222.7 225.2,223.2 225.2,223.2 225.3,222.2 225.4,222.8 225.5,223.2 225.6,222.7 225.7,222.8 225.7,223.2 225.8,222.8 225.9,222.5 226.0,222.7 226.1,222.5 226.2,223.1 226.2,222.3 226.3,223.2 226.4,222.4 226.5,222.9 226.6,222.4 226.7,222.8 226.7,223.2 226.8,223.2 226.9,223.3 227.0,222.9 227.1,222.9 227.2,223.0 227.2,223.1 227.3,222.8 227.4,223.2 227.5,223.0 227.6,223.2 227.7,223.0 227.7,223.1 227.8,222.6 227.9,222.7 228.0,222.5 228.1,222.8 228.2,222.8 228.2,223.1 228.3,222.5 228.4,223.9 228.5,222.8 228.6,223.3 228.6,223.2 228.7,222.1 228.8,222.8 228.9,223.4 229.0,222.1 229.1,223.1 229.1,222.6 229.2,222.7 229.3,223.0 229.4,222.3 229.5,222.9 229.6,222.7 229.6,222.6 229.7,223.1 229.8,224.0 229.9,223.0 230.0,223.1 230.1,222.9 230.1,222.6 230.2,223.0 230.3,223.4 230.4,222.9 230.5,223.2 230.6,222.8 230.6,223.7 230.7,222.4 230.8,223.1 230.9,223.1 231.0,223.0 231.1,222.5 231.1,222.5 231.2,222.8 231.3,222.9 231.4,222.5 231.5,222.5 231.6,223.1 231.6,223.2 231.7,222.7 231.8,222.7 231.9,222.6 232.0,223.7 232.0,223.0 232.1,222.9 232.2,223.2 232.3,223.6 232.4,223.3 232.5,222.4 232.5,222.9 232.6,222.7 232.7,222.8 232.8,222.5 232.9,222.8 233.0,222.5 233.0,223.0 233.1,222.9 233.2,222.4 233.3,222.3 233.4,222.7 233.5,223.1 233.5,223.0 233.6,222.9 233.7,221.8 233.8,222.7 233.9,222.6 234.0,222.8 234.0,222.5 234.1,222.7 234.2,222.7 234.3,223.7 234.4,223.1 234.5,222.8 234.5,222.9 234.6,222.8 234.7,222.9 234.8,222.7 234.9,222.9 234.9,223.2 235.0,223.1 235.1,223.0 235.2,223.3 235.3,222.9 235.4,222.6 235.4,222.3 235.5,222.7 235.6,222.9 235.7,223.0 235.8,223.2 235.9,222.7 235.9,222.6 236.0,223.1 236.1,223.3 236.2,222.7 236.3,223.0 236.4,223.3 236.4,223.0 236.5,222.9 236.6,222.2 236.7,223.3 236.8,223.1 236.9,222.9 236.9,222.7 237.0,222.5 237.1,222.8 237.2,222.8 237.3,223.2 237.4,222.5 237.4,223.3 237.5,222.9 237.6,223.3 237.7,222.6 237.8,223.0 237.9,223.3 237.9,222.9 238.0,222.4 238.1,222.8 238.2,223.0 238.3,222.4 238.3,222.4 238.4,223.0 238.5,222.6 238.6,223.1 238.7,222.5 238.8,222.3 238.8,222.6 238.9,223.4 239.0,222.6 239.1,222.9 239.2,223.0 239.3,222.6 239.3,223.2 239.4,222.9 239.5,223.0 239.6,222.3 239.7,222.3 239.8,222.0 239.8,222.8 239.9,222.8 240.0,223.1 240.1,223.4 240.2,222.8 240.3,222.8 240.3,223.0 240.4,223.4 240.5,222.6 240.6,223.1 240.7,222.8 240.8,222.8 240.8,223.1 240.9,222.6 241.0,222.5 241.1,223.1 241.2,222.9 241.2,222.8 241.3,222.8 241.4,223.0 241.5,222.8 241.6,223.1 241.7,223.0 241.7,223.3 241.8,223.3 241.9,223.1 242.0,222.8 242.1,222.9 242.2,222.7 242.2,223.8 242.3,222.8 242.4,223.1 242.5,223.3 242.6,222.4 242.7,222.6 242.7,222.7 242.8,222.6 242.9,222.5 243.0,222.7 243.1,223.3 243.2,223.1 243.2,222.9 243.3,222.9 243.4,222.3 243.5,223.1 243.6,223.0 243.7,222.5 243.7,222.9 243.8,222.8 243.9,222.7 244.0,222.6 244.1,222.7 244.2,222.6 244.2,223.0 244.3,223.0 244.4,223.0 244.5,222.8 244.6,222.7 244.6,223.5 244.7,222.3 244.8,223.3 244.9,223.0 245.0,222.9 245.1,222.7 245.1,222.8 245.2,222.5 245.3,222.4 245.4,222.8 245.5,222.3 245.6,223.1 245.6,223.2 245.7,221.8 245.8,222.4 245.9,223.0 246.0,222.9 246.1,222.9 246.1,223.0 246.2,223.1 246.3,223.1 246.4,223.4 246.5,222.9 246.6,223.1 246.6,222.3 246.7,222.8 246.8,222.5 246.9,223.3 247.0,223.6 247.1,223.0 247.1,222.4 247.2,222.8 247.3,222.9 247.4,222.9 247.5,223.2 247.5,223.2 247.6,222.0 247.7,223.3 247.8,222.7 247.9,222.7 248.0,223.3 248.0,222.8 248.1,222.4 248.2,222.4 248.3,222.9 248.4,223.1 248.5,223.3 248.5,222.8 248.6,222.7 248.7,223.4 248.8,222.7 248.9,223.3 249.0,222.9 249.0,222.9 249.1,222.8 249.2,222.9 249.3,222.7 249.4,222.6 249.5,222.8 249.5,222.6 249.6,222.9 249.7,222.9 249.8,222.7 249.9,222.8 250.0,222.7 250.0,223.4 250.1,222.8 250.2,222.6 250.3,222.7 250.4,223.0 250.5,222.7 250.5,222.7 250.6,222.7 250.7,222.8 250.8,222.9 250.9,222.9 250.9,222.3 251.0,222.4 251.1,221.9 251.2,223.0 251.3,223.1 251.4,223.2 251.4,222.8 251.5,223.1 251.6,222.7 251.7,222.7 251.8,222.2 251.9,222.4 251.9,222.5 252.0,223.0 252.1,223.2 252.2,222.5 252.3,222.7 252.4,222.7 252.4,222.3 252.5,222.0 252.6,222.3 252.7,222.0 252.8,222.4 252.9,222.4 252.9,222.3 253.0,222.3 253.1,222.4 253.2,221.9 253.3,222.4 253.4,221.5 253.4,221.9 253.5,221.8 253.6,221.1 253.7,220.6 253.8,220.9 253.9,220.0 253.9,219.9 254.0,219.2 254.1,218.2 254.2,217.4 254.3,216.8 254.3,215.7 254.4,214.6 254.5,214.3 254.6,214.1 254.7,214.0 254.8,214.3 254.8,214.8 254.9,215.6 255.0,216.2 255.1,216.9 255.2,218.5 255.3,218.7 255.3,219.7 255.4,219.7 255.5,220.7 255.6,220.8 255.7,222.3 255.8,221.3 255.8,221.5 255.9,222.3 256.0,222.5 256.1,221.5 256.2,222.4 256.3,222.6 256.3,222.0 256.4,222.7 256.5,222.3 256.6,222.2 256.7,222.4 256.8,222.4 256.8,222.1 256.9,223.3 257.0,222.5 257.1,222.4 257.2,222.9 257.2,222.6 257.3,223.1 257.4,222.6 257.5,222.8 257.6,222.7 257.7,222.8 257.7,222.7 257.8,222.7 257.9,223.3 258.0,222.5 258.1,222.6 258.2,222.7 258.2,222.9 258.3,222.9 258.4,223.1 258.5,222.4 258.6,222.9 258.7,222.7 258.7,222.7 258.8,222.8 258.9,222.2 259.0,222.9 259.1,222.8 259.2,222.4 259.2,222.8 259.3,223.3 259.4,222.7 259.5,223.0 259.6,222.7 259.7,222.6 259.7,222.5 259.8,222.7 259.9,223.2 260.0,223.1 260.1,222.6 260.2,223.1 260.2,222.8 260.3,222.6 260.4,223.0 260.5,222.5 260.6,222.3 260.6,223.2 260.7,222.3 260.8,223.0 260.9,222.4 261.0,222.8 261.1,222.8 261.1,222.7 261.2,222.2 261.3,222.8 261.4,222.8 261.5,222.6 261.6,222.8 261.6,223.2 261.7,222.6 261.8,222.9 261.9,222.5 262.0,223.0 262.1,223.1 262.1,223.6 262.2,223.1 262.3,223.0 262.4,223.3 262.5,222.5 262.6,223.2 262.6,222.7 262.7,222.7 262.8,223.2 262.9,222.9 263.0,223.3 263.1,222.4 263.1,222.9 263.2,222.7 263.3,222.8 263.4,222.3 263.5,223.2 263.5,222.9 263.6,222.5 263.7,222.4 263.8,222.6 263.9,223.3 264.0,222.8 264.0,222.8 264.1,223.0 264.2,222.9 264.3,222.9 264.4,223.1 264.5,223.0 264.5,223.1 264.6,222.5 264.7,222.9 264.8,222.8 264.9,222.9 265.0,222.9 265.0,222.7 265.1,222.8 265.2,223.2 265.3,222.7 265.4,222.5 265.5,223.1 265.5,223.2 265.6,222.8 265.7,222.9 265.8,222.6 265.9,222.8 266.0,223.2 266.0,223.1 266.1,222.9 266.2,222.8 266.3,222.4 266.4,223.0 266.5,223.0 266.5,223.2 266.6,223.5 266.7,223.0 266.8,223.2 266.9,222.5 266.9,223.2 267.0,223.1 267.1,223.3 267.2,223.1 267.3,223.0 267.4,223.3 267.4,222.7 267.5,223.1 267.6,223.2 267.7,222.6 267.8,222.5 267.9,223.0 267.9,222.9 268.0,223.1 268.1,223.1 268.2,222.6 268.3,223.0 268.4,223.2 268.4,222.8 268.5,222.8 268.6,222.5 268.7,223.1 268.8,223.5 268.9,222.4 268.9,223.1 269.0,223.1 269.1,222.7 269.2,222.7 269.3,222.5 269.4,222.6 269.4,222.9 269.5,223.1 269.6,222.9 269.7,223.1 269.8,222.9 269.8,222.5 269.9,223.3 270.0,223.2 270.1,222.6 270.2,223.4 270.3,223.0 270.3,222.9 270.4,223.5 270.5,222.1 270.6,222.4 270.7,223.1 270.8,222.8 270.8,222.6 270.9,223.3 271.0,223.0 271.1,222.5 271.2,222.6 271.3,223.1 271.3,223.4 271.4,222.2 271.5,222.9 271.6,222.7 271.7,222.3 271.8,222.8 271.8,222.3 271.9,222.7 272.0,223.3 272.1,223.0 272.2,223.1 272.3,223.0 272.3,222.9 272.4,223.1 272.5,222.5 272.6,222.7 272.7,223.1 272.8,222.6 272.8,222.7 272.9,223.2 273.0,223.3 273.1,222.6 273.2,222.6 273.2,223.0 273.3,222.9 273.4,222.6 273.5,223.0 273.6,223.0 273.7,222.8 273.7,223.7 273.8,223.2 273.9,223.0 274.0,223.1 274.1,223.7 274.2,223.1 274.2,222.5 274.3,222.8 274.4,222.8 274.5,222.6 274.6,222.8 274.7,222.8 274.7,222.7 274.8,222.6 274.9,223.0 275.0,222.2 275.1,222.9 275.2,222.7 275.2,222.7 275.3,221.9 275.4,223.1 275.5,222.1 275.6,222.3 275.7,222.8 275.7,222.4 275.8,222.4 275.9,221.8 276.0,222.3 276.1,222.5 276.2,222.6 276.2,222.3 276.3,222.4 276.4,222.4 276.5,222.0 276.6,221.9 276.6,222.7 276.7,221.7 276.8,222.3 276.9,221.8 277.0,222.1 277.1,221.2 277.1,221.3 277.2,221.0 277.3,220.4 277.4,220.0 277.5,219.0 277.6,218.5 277.6,217.4 277.7,216.7 277.8,215.2 277.9,213.4 278.0,212.3 278.1,210.9 278.1,209.4 278.2,209.1 278.3,208.3 278.4,208.4 278.5,208.5 278.6,209.6 278.6,211.3 278.7,211.9 278.8,213.9 278.9,215.2 279.0,216.3 279.1,217.6 279.1,218.1 279.2,219.3 279.3,219.5 279.4,220.0 279.5,221.3 279.5,221.0 279.6,220.8 279.7,221.9 279.8,221.5 279.9,220.8 280.0,222.0 280.0,222.4 280.1,222.3 280.2,222.8 280.3,222.2 280.4,222.5 280.5,222.1 280.5,222.5 280.6,222.9 280.7,222.6 280.8,222.5 280.9,221.9 281.0,222.4 281.0,222.2 281.1,222.8 281.2,222.4 281.3,222.7 281.4,222.3 281.5,223.2 281.5,222.3 281.6,222.7 281.7,223.5 281.8,222.8 281.9,222.4 282.0,222.9 282.0,223.0 282.1,223.0 282.2,222.1 282.3,222.8 282.4,222.1 282.5,223.3 282.5,222.8 282.6,222.6 282.7,223.0 282.8,222.9 282.9,222.4 282.9,223.3 283.0,222.7 283.1,222.2 283.2,223.2 283.3,223.3 283.4,223.2 283.4,223.0 283.5,222.5 283.6,223.1 283.7,223.4 283.8,223.1 283.9,223.3 283.9,222.6 284.0,223.1 284.1,223.1 284.2,222.3 284.3,222.3 284.4,222.6 284.4,222.9 284.5,223.0 284.6,222.8 284.7,222.8 284.8,222.8 284.9,222.9 284.9,223.0 285.0,223.0 285.1,222.8 285.2,222.9 285.3,222.7 285.4,223.1 285.4,222.7 285.5,223.4 285.6,222.8 285.7,222.9 285.8,222.6 285.8,222.7 285.9,222.9 286.0,222.8 286.1,222.6 286.2,222.5 286.3,222.9 286.3,222.9 286.4,223.0 286.5,223.2 286.6,222.7 286.7,222.2 286.8,222.8 286.8,222.3 286.9,222.4 287.0,223.2 287.1,223.0 287.2,222.6 287.3,222.6 287.3,222.8 287.4,222.3 287.5,223.0 287.6,222.7 287.7,223.4 287.8,222.5 287.8,223.1 287.9,222.6 288.0,223.1 288.1,222.5 288.2,223.0 288.3,222.7 288.3,222.5 288.4,222.8 288.5,223.0 288.6,222.9 288.7,223.3 288.8,223.0 288.8,221.9 288.9,222.6 289.0,222.1 289.1,222.6 289.2,223.0 289.2,222.3 289.3,222.4 289.4,222.8 289.5,222.6 289.6,223.2 289.7,222.8 289.7,222.9 289.8,223.2 289.9,222.5 290.0,222.6 290.1,222.3 290.2,222.7 290.2,222.9 290.3,223.0 290.4,222.5 290.5,222.2 290.6,222.1 290.7,221.8 290.7,222.2 290.8,222.5 290.9,221.1 291.0,221.0 291.1,221.9 291.2,220.6 291.2,220.9 291.3,219.9 291.4,220.1 291.5,219.6 291.6,218.9 291.7,218.6 291.7,217.9 291.8,217.6 291.9,217.8 292.0,217.5 292.1,217.0 292.1,217.2 292.2,217.8 292.3,218.3 292.4,218.9 292.5,219.2 292.6,220.1 292.6,220.4 292.7,220.9 292.8,221.1 292.9,221.6 293.0,221.3 293.1,222.4 293.1,222.1 293.2,222.3 293.3,222.5 293.4,222.7 293.5,222.7 293.6,222.6 293.6,222.5 293.7,222.0 293.8,222.7 293.9,222.5 294.0,222.5 294.1,223.4 294.1,222.1 294.2,222.7 294.3,223.1 294.4,223.0 294.5,223.1 294.6,222.3 294.6,222.4 294.7,223.0 294.8,222.7 294.9,223.3 295.0,222.9 295.1,222.9 295.1,222.9 295.2,222.7 295.3,222.9 295.4,222.6 295.5,222.8 295.5,222.7 295.6,222.9 295.7,222.4 295.8,222.4 295.9,223.0 296.0,222.9 296.0,222.5 296.1,222.8 296.2,222.5 296.3,223.5 296.4,222.4 296.5,223.4 296.5,222.6 296.6,223.0 296.7,222.8 296.8,222.7 296.9,223.2 297.0,223.1 297.0,222.8 297.1,222.6 297.2,223.5 297.3,223.3 297.4,222.9 297.5,222.8 297.5,223.0 297.6,222.9 297.7,223.3 297.8,222.6 297.9,222.9 298.0,222.6 298.0,223.3 298.1,223.5 298.2,222.9 298.3,223.1 298.4,223.3 298.5,222.8 298.5,222.6 298.6,223.2 298.7,223.1 298.8,222.8 298.9,223.4 298.9,223.0 299.0,222.3 299.1,223.0 299.2,222.9 299.3,223.5 299.4,222.9 299.4,222.8 299.5,223.0 299.6,223.0 299.7,222.5 299.8,222.9 299.9,222.8 299.9,223.4 300.0,223.7 300.1,222.5 300.2,222.6 300.3,222.6 300.4,222.7 300.4,222.7 300.5,222.9 300.6,223.3 300.7,222.5 300.8,222.4 300.9,222.3 300.9,223.3 301.0,223.3 301.1,222.4 301.2,222.4 301.3,223.0 301.4,223.3 301.4,223.2 301.5,223.0 301.6,223.1 301.7,223.0 301.8,222.7 301.8,223.5 301.9,222.9 302.0,222.6 302.1,222.8 302.2,222.4 302.3,222.9 302.3,223.3 302.4,222.5 302.5,223.3 302.6,223.6 302.7,223.0 302.8,222.5 302.8,222.6 302.9,222.8 303.0,222.5 303.1,222.5 303.2,222.8 303.3,222.9" fill="none" stroke="#0c78de" stroke-width="1.2" stroke-linejoin="round"/>
<path d="M37.0,198.5 L37.1,197.9 37.1,198.9 37.2,198.7 37.3,198.6 37.4,198.1 37.5,198.9 37.6,198.2 37.6,198.9 37.7,198.7 37.8,198.0 37.9,198.2 38.0,198.9 38.1,198.6 38.1,198.3 38.2,198.4 38.3,198.4 38.4,198.1 38.5,198.3 38.6,198.1 38.6,198.2 38.7,198.5 38.8,198.0 38.9,198.6 39.0,198.4 39.1,198.6 39.1,198.6 39.2,198.7 39.3,198.5 39.4,198.6 39.5,198.3 39.6,198.5 39.6,198.0 39.7,198.2 39.8,198.6 39.9,198.3 40.0,198.5 40.1,198.0 40.1,198.8 40.2,198.1 40.3,198.5 40.4,198.3 40.5,198.6 40.5,198.2 40.6,198.0 40.7,197.7 40.8,198.2 40.9,197.9 41.0,198.5 41.0,198.8 41.1,197.6 41.2,197.9 41.3,198.4 41.4,198.7 41.5,198.4 41.5,198.4 41.6,198.5 41.7,198.5 41.8,198.9 41.9,198.5 42.0,197.9 42.0,198.2 42.1,198.4 42.2,198.1 42.3,198.2 42.4,198.2 42.5,198.1 42.5,198.6 42.6,198.2 42.7,198.0 42.8,198.1 42.9,198.3 43.0,199.0 43.0,198.4 43.1,198.8 43.2,198.5 43.3,197.6 43.4,198.4 43.4,198.1 43.5,197.9 43.6,198.0 43.7,198.9 43.8,197.8 43.9,198.1 43.9,198.7 44.0,198.5 44.1,197.8 44.2,198.3 44.3,198.2 44.4,198.3 44.4,198.6 44.5,198.1 44.6,198.2 44.7,198.8 44.8,197.7 44.9,198.2 44.9,198.5 45.0,197.9 45.1,198.1 45.2,197.9 45.3,198.4 45.4,198.1 45.4,198.6 45.5,198.7 45.6,198.3 45.7,198.2 45.8,198.4 45.9,198.3 45.9,197.9 46.0,198.7 46.1,198.4 46.2,198.6 46.3,197.9 46.4,198.6 46.4,199.0 46.5,198.5 46.6,197.9 46.7,198.3 46.8,198.3 46.8,198.4 46.9,198.3 47.0,198.5 47.1,198.2 47.2,198.4 47.3,198.1 47.3,198.4 47.4,198.6 47.5,198.2 47.6,198.5 47.7,198.0 47.8,198.2 47.8,198.2 47.9,198.7 48.0,198.1 48.1,198.7 48.2,197.9 48.3,198.3 48.3,198.6 48.4,198.5 48.5,198.0 48.6,197.9 48.7,198.6 48.8,197.9 48.8,198.5 48.9,198.2 49.0,198.3 49.1,199.1 49.2,198.8 49.3,198.6 49.3,197.9 49.4,198.4 49.5,198.3 49.6,198.3 49.7,198.8 49.8,197.8 49.8,198.4 49.9,198.4 50.0,198.1 50.1,198.9 50.2,197.9 50.2,198.3 50.3,198.3 50.4,197.6 50.5,197.9 50.6,198.0 50.7,198.6 50.7,198.6 50.8,198.5 50.9,198.4 51.0,197.6 51.1,198.4 51.2,198.2 51.2,198.7 51.3,198.8 51.4,199.0 51.5,198.6 51.6,198.6 51.7,198.0 51.7,198.3 51.8,197.9 51.9,198.6 52.0,197.9 52.1,198.3 52.2,198.1 52.2,198.2 52.3,198.5 52.4,198.1 52.5,198.4 52.6,198.0 52.7,198.8 52.7,198.1 52.8,198.6 52.9,199.0 53.0,197.5 53.1,198.0 53.1,198.3 53.2,198.7 53.3,198.2 53.4,198.4 53.5,198.1 53.6,198.5 53.6,197.9 53.7,198.6 53.8,197.3 53.9,197.7 54.0,198.9 54.1,198.4 54.1,198.0 54.2,199.0 54.3,198.7 54.4,198.7 54.5,198.2 54.6,198.5 54.6,198.5 54.7,197.8 54.8,198.5 54.9,198.3 55.0,198.7 55.1,198.7 55.1,198.1 55.2,198.1 55.3,198.4 55.4,198.5 55.5,198.2 55.6,198.3 55.6,198.5 55.7,198.5 55.8,198.7 55.9,198.4 56.0,198.0 56.1,197.7 56.1,198.6 56.2,198.2 56.3,198.2 56.4,198.2 56.5,197.8 56.5,198.2 56.6,197.5 56.7,198.2 56.8,198.0 56.9,198.9 57.0,198.5 57.0,198.2 57.1,198.4 57.2,198.6 57.3,198.1 57.4,198.2 57.5,198.2 57.5,199.1 57.6,198.3 57.7,197.7 57.8,198.6 57.9,199.2 58.0,198.0 58.0,199.5 58.1,198.3 58.2,198.6 58.3,198.1 58.4,198.2 58.5,197.9 58.5,198.0 58.6,197.6 58.7,198.7 58.8,197.9 58.9,198.4 59.0,198.4 59.0,198.1 59.1,198.3 59.2,198.3 59.3,198.2 59.4,198.3 59.4,198.3 59.5,198.0 59.6,197.9 59.7,198.0 59.8,198.4 59.9,198.8 59.9,198.8 60.0,198.4 60.1,198.6 60.2,198.4 60.3,198.7 60.4,198.4 60.4,198.4 60.5,198.2 60.6,198.3 60.7,198.9 60.8,197.9 60.9,198.3 60.9,198.1 61.0,198.6 61.1,198.9 61.2,198.2 61.3,197.4 61.4,198.5 61.4,198.5 61.5,197.8 61.6,198.2 61.7,198.3 61.8,197.5 61.9,198.5 61.9,198.5 62.0,198.4 62.1,198.0 62.2,198.1 62.3,198.1 62.4,198.5 62.4,198.0 62.5,198.8 62.6,198.4 62.7,197.6 62.8,198.9 62.8,198.4 62.9,198.1 63.0,198.3 63.1,197.7 63.2,198.4 63.3,197.5 63.3,198.0 63.4,198.8 63.5,198.7 63.6,198.2 63.7,198.0 63.8,198.6 63.8,198.3 63.9,198.4 64.0,198.5 64.1,198.0 64.2,198.6 64.3,197.6 64.3,198.8 64.4,197.8 64.5,198.1 64.6,198.1 64.7,198.5 64.8,198.6 64.8,198.4 64.9,198.5 65.0,198.5 65.1,198.3 65.2,197.7 65.3,197.5 65.3,197.5 65.4,198.3 65.5,198.2 65.6,198.3 65.7,198.4 65.8,198.2 65.8,198.0 65.9,197.8 66.0,197.7 66.1,198.7 66.2,198.6 66.2,197.9 66.3,198.2 66.4,198.5 66.5,198.8 66.6,198.1 66.7,198.4 66.7,198.7 66.8,197.7 66.9,198.1 67.0,198.3 67.1,198.1 67.2,199.0 67.2,198.6 67.3,198.4 67.4,198.0 67.5,198.6 67.6,198.5 67.7,198.1 67.7,198.2 67.8,197.8 67.9,198.3 68.0,198.6 68.1,198.6 68.2,198.5 68.2,198.6 68.3,198.1 68.4,198.1 68.5,198.7 68.6,198.5 68.7,198.0 68.7,198.5 68.8,198.6 68.9,198.5 69.0,198.3 69.1,198.1 69.1,198.4 69.2,198.9 69.3,198.3 69.4,198.1 69.5,198.4 69.6,197.9 69.6,198.4 69.7,198.2 69.8,198.6 69.9,198.3 70.0,198.6 70.1,199.1 70.1,198.2 70.2,198.0 70.3,198.4 70.4,198.3 70.5,198.3 70.6,198.1 70.6,198.5 70.7,198.3 70.8,197.6 70.9,198.2 71.0,198.4 71.1,198.7 71.1,198.1 71.2,198.0 71.3,198.7 71.4,198.1 71.5,198.3 71.6,198.5 71.6,198.5 71.7,198.3 71.8,197.9 71.9,198.6 72.0,198.1 72.1,198.1 72.1,199.0 72.2,198.6 72.3,197.9 72.4,198.1 72.5,198.2 72.5,198.0 72.6,197.7 72.7,198.6 72.8,198.5 72.9,198.4 73.0,198.2 73.0,198.4 73.1,198.5 73.2,197.9 73.3,198.2 73.4,198.1 73.5,198.5 73.5,198.4 73.6,197.9 73.7,198.1 73.8,198.9 73.9,198.0 74.0,198.3 74.0,198.1 74.1,198.7 74.2,198.3 74.3,198.1 74.4,197.9 74.5,198.2 74.5,198.6 74.6,198.5 74.7,197.8 74.8,198.8 74.9,198.2 75.0,197.9 75.0,198.3 75.1,198.1 75.2,198.1 75.3,198.1 75.4,198.3 75.4,198.1 75.5,197.7 75.6,198.5 75.7,198.1 75.8,198.7 75.9,198.5 75.9,198.5 76.0,198.3 76.1,198.7 76.2,198.2 76.3,198.0 76.4,198.4 76.4,197.4 76.5,198.2 76.6,198.4 76.7,198.1 76.8,198.7 76.9,198.5 76.9,198.3 77.0,198.1 77.1,198.6 77.2,198.1 77.3,198.1 77.4,198.5 77.4,198.5 77.5,198.9 77.6,198.2 77.7,197.7 77.8,198.5 77.9,198.7 77.9,198.2 78.0,198.8 78.1,198.9 78.2,198.1 78.3,198.1 78.4,197.9 78.4,198.5 78.5,198.5 78.6,198.5 78.7,197.9 78.8,198.0 78.8,197.8 78.9,197.7 79.0,197.8 79.1,197.7 79.2,198.2 79.3,198.4 79.3,198.5 79.4,198.3 79.5,198.0 79.6,198.3 79.7,198.5 79.8,198.2 79.8,198.3 79.9,198.2 80.0,198.1 80.1,198.3 80.2,197.9 80.3,198.6 80.3,197.7 80.4,198.4 80.5,197.8 80.6,198.8 80.7,198.5 80.8,198.0 80.8,198.1 80.9,197.9 81.0,198.2 81.1,198.4 81.2,199.1 81.3,197.8 81.3,198.7 81.4,198.1 81.5,198.3 81.6,198.5 81.7,198.4 81.7,198.4 81.8,198.2 81.9,198.2 82.0,198.3 82.1,198.6 82.2,197.8 82.2,198.1 82.3,197.8 82.4,197.9 82.5,198.0 82.6,198.6 82.7,198.9 82.7,198.7 82.8,197.8 82.9,198.2 83.0,197.8 83.1,198.4 83.2,198.6 83.2,198.4 83.3,198.5 83.4,198.2 83.5,197.6 83.6,197.6 83.7,198.2 83.7,198.4 83.8,198.6 83.9,198.1 84.0,198.2 84.1,198.3 84.2,198.5 84.2,198.2 84.3,197.8 84.4,198.5 84.5,198.3 84.6,198.3 84.7,197.8 84.7,198.2 84.8,197.6 84.9,197.5 85.0,198.1 85.1,198.0 85.1,198.3 85.2,198.6 85.3,198.1 85.4,198.7 85.5,197.9 85.6,198.4 85.6,197.7 85.7,198.1 85.8,198.0 85.9,198.0 86.0,198.3 86.1,197.5 86.1,198.1 86.2,197.8 86.3,198.1 86.4,198.2 86.5,197.9 86.6,197.9 86.6,197.6 86.7,198.2 86.8,197.8 86.9,198.1 87.0,197.5 87.1,198.4 87.1,197.6 87.2,198.3 87.3,197.7 87.4,198.0 87.5,197.8 87.6,198.0 87.6,197.8 87.7,198.1 87.8,197.9 87.9,197.9 88.0,198.2 88.1,197.3 88.1,197.9 88.2,197.5 88.3,196.9 88.4,197.5 88.5,197.2 88.5,197.7 88.6,196.9 88.7,197.0 88.8,196.9 88.9,196.0 89.0,196.6 89.0,196.0 89.1,196.5 89.2,196.3 89.3,195.4 89.4,194.5 89.5,194.5 89.5,193.9 89.6,193.2 89.7,191.7 89.8,189.6 89.9,187.1 90.0,182.2 90.0,176.0 90.1,164.6 90.2,150.3 90.3,133.3 90.4,115.6 90.5,104.2 90.5,104.3 90.6,115.8 90.7,133.2 90.8,150.9 90.9,164.9 91.0,174.9 91.0,182.4 91.1,187.4 91.2,189.7 91.3,191.8 91.4,192.9 91.4,194.0 91.5,194.4 91.6,194.9 91.7,195.1 91.8,195.9 91.9,195.7 91.9,196.8 92.0,196.5 92.1,196.6 92.2,197.1 92.3,196.9 92.4,197.1 92.4,197.1 92.5,197.0 92.6,197.0 92.7,197.2 92.8,197.8 92.9,197.3 92.9,197.4 93.0,197.5 93.1,197.9 93.2,198.3 93.3,197.4 93.4,197.9 93.4,197.8 93.5,197.7 93.6,198.0 93.7,197.5 93.8,198.2 93.9,198.0 93.9,197.6 94.0,198.5 94.1,198.2 94.2,198.4 94.3,197.5 94.4,197.9 94.4,197.8 94.5,198.2 94.6,198.5 94.7,197.4 94.8,198.1 94.8,198.0 94.9,198.4 95.0,198.1 95.1,197.7 95.2,198.0 95.3,197.8 95.3,197.9 95.4,198.1 95.5,198.0 95.6,198.2 95.7,197.6 95.8,198.9 95.8,198.6 95.9,198.4 96.0,197.7 96.1,197.5 96.2,197.9 96.3,198.1 96.3,198.9 96.4,198.6 96.5,198.0 96.6,198.6 96.7,198.6 96.8,198.2 96.8,198.6 96.9,198.3 97.0,198.0 97.1,197.8 97.2,198.2 97.3,198.5 97.3,197.8 97.4,197.7 97.5,198.4 97.6,197.3 97.7,198.8 97.7,198.1 97.8,198.5 97.9,198.8 98.0,197.7 98.1,197.9 98.2,199.0 98.2,198.1 98.3,198.2 98.4,198.3 98.5,198.6 98.6,198.7 98.7,198.3 98.7,198.1 98.8,198.2 98.9,198.3 99.0,198.7 99.1,198.3 99.2,198.8 99.2,198.0 99.3,198.4 99.4,198.8 99.5,198.7 99.6,198.4 99.7,198.0 99.7,198.0 99.8,198.2 99.9,198.4 100.0,198.2 100.1,197.8 100.2,198.0 100.2,198.4 100.3,198.5 100.4,197.8 100.5,198.1 100.6,197.7 100.7,198.1 100.7,199.4 100.8,198.3 100.9,198.1 101.0,198.1 101.1,197.9 101.1,197.7 101.2,198.2 101.3,198.2 101.4,198.7 101.5,197.7 101.6,198.4 101.6,198.7 101.7,197.6 101.8,198.5 101.9,197.7 102.0,198.4 102.1,198.7 102.1,198.3 102.2,198.4 102.3,198.0 102.4,198.4 102.5,198.6 102.6,198.2 102.6,198.2 102.7,198.4 102.8,198.5 102.9,197.7 103.0,198.3 103.1,198.0 103.1,198.4 103.2,198.6 103.3,198.4 103.4,198.7 103.5,197.9 103.6,198.1 103.6,197.9 103.7,198.3 103.8,198.3 103.9,198.2 104.0,197.9 104.0,198.2 104.1,198.1 104.2,198.5 104.3,198.2 104.4,198.7 104.5,198.4 104.5,197.7 104.6,198.2 104.7,197.8 104.8,198.6 104.9,198.7 105.0,198.3 105.0,198.4 105.1,197.8 105.2,197.5 105.3,198.1 105.4,198.2 105.5,197.8 105.5,198.3 105.6,198.4 105.7,198.5 105.8,198.8 105.9,198.5 106.0,198.2 106.0,198.3 106.1,198.5 106.2,197.9 106.3,198.7 106.4,198.6 106.5,198.2 106.5,198.1 106.6,199.5 106.7,198.6 106.8,198.6 106.9,198.9 107.0,198.6 107.0,198.4 107.1,198.5 107.2,198.0 107.3,198.5 107.4,197.8 107.4,198.4 107.5,198.5 107.6,197.8 107.7,198.9 107.8,197.9 107.9,198.6 107.9,198.1 108.0,198.4 108.1,198.1 108.2,199.1 108.3,198.6 108.4,198.9 108.4,198.5 108.5,198.5 108.6,198.3 108.7,198.2 108.8,198.5 108.9,198.3 108.9,198.2 109.0,197.8 109.1,198.2 109.2,198.5 109.3,198.1 109.4,198.4 109.4,198.2 109.5,198.0 109.6,198.0 109.7,198.1 109.8,198.2 109.9,198.2 109.9,198.7 110.0,197.9 110.1,197.6 110.2,198.5 110.3,198.1 110.4,198.3 110.4,199.1 110.5,198.8 110.6,198.5 110.7,198.6 110.8,198.3 110.8,198.6 110.9,198.1 111.0,198.1 111.1,198.1 111.2,198.8 111.3,198.8 111.3,198.1 111.4,198.7 111.5,198.2 111.6,198.7 111.7,198.2 111.8,198.6 111.8,198.3 111.9,198.2 112.0,198.3 112.1,198.4 112.2,198.1 112.3,197.9 112.3,198.9 112.4,198.2 112.5,197.7 112.6,197.6 112.7,197.4 112.8,198.1 112.8,198.7 112.9,197.8 113.0,198.2 113.1,197.7 113.2,198.7 113.3,198.4 113.3,198.4 113.4,198.7 113.5,198.8 113.6,198.6 113.7,198.1 113.7,197.9 113.8,198.0 113.9,197.7 114.0,198.9 114.1,198.2 114.2,198.3 114.2,198.4 114.3,199.0 114.4,198.1 114.5,198.7 114.6,198.4 114.7,198.3 114.7,197.7 114.8,198.6 114.9,198.1 115.0,198.2 115.1,198.4 115.2,198.3 115.2,198.7 115.3,198.1 115.4,198.4 115.5,198.4 115.6,198.3 115.7,198.5 115.7,198.2 115.8,198.7 115.9,198.1 116.0,197.8 116.1,198.3 116.2,198.7 116.2,198.1 116.3,198.1 116.4,198.2 116.5,198.4 116.6,198.2 116.7,198.4 116.7,197.7 116.8,198.8 116.9,198.5 117.0,198.0 117.1,198.8 117.1,198.5 117.2,198.8 117.3,197.9 117.4,198.9 117.5,198.3 117.6,197.6 117.6,198.6 117.7,198.2 117.8,198.0 117.9,198.2 118.0,197.7 118.1,198.5 118.1,198.2 118.2,198.2 118.3,198.8 118.4,198.3 118.5,198.1 118.6,198.0 118.6,198.3 118.7,198.7 118.8,198.1 118.9,198.0 119.0,198.6 119.1,198.3 119.1,198.3 119.2,199.0 119.3,197.9 119.4,198.4 119.5,197.7 119.6,198.2 119.6,198.5 119.7,198.7 119.8,197.9 119.9,198.6 120.0,198.6 120.0,198.3 120.1,199.1 120.2,198.3 120.3,198.0 120.4,198.4 120.5,197.7 120.5,198.8 120.6,198.6 120.7,198.2 120.8,198.5 120.9,198.5 121.0,198.9 121.0,198.1 121.1,197.9 121.2,197.6 121.3,198.2 121.4,197.8 121.5,198.2 121.5,198.4 121.6,198.2 121.7,198.0 121.8,198.7 121.9,198.2 122.0,198.4 122.0,198.6 122.1,197.9 122.2,198.0 122.3,199.1 122.4,198.3 122.5,198.0 122.5,198.2 122.6,198.1 122.7,197.9 122.8,198.2 122.9,198.3 123.0,198.3 123.0,198.5 123.1,197.7 123.2,197.8 123.3,198.6 123.4,198.2 123.4,198.7 123.5,198.4 123.6,197.8 123.7,198.5 123.8,198.0 123.9,198.4 123.9,198.7 124.0,199.0 124.1,198.3 124.2,198.5 124.3,198.4 124.4,198.6 124.4,197.5 124.5,198.2 124.6,198.4 124.7,198.5 124.8,198.1 124.9,198.6 124.9,198.7 125.0,198.3 125.1,198.2 125.2,198.2 125.3,198.4 125.4,198.7 125.4,198.8 125.5,198.2 125.6,198.0 125.7,198.0 125.8,198.6 125.9,198.4 125.9,198.4 126.0,198.5 126.1,198.4 126.2,198.3 126.3,198.0 126.3,198.1 126.4,198.3 126.5,198.4 126.6,198.2 126.7,198.2 126.8,198.8 126.8,198.2 126.9,198.4 127.0,198.2 127.1,198.0 127.2,197.8 127.3,198.1 127.3,198.0 127.4,198.6 127.5,197.9 127.6,198.2 127.7,198.5 127.8,198.3 127.8,198.5 127.9,198.6 128.0,197.8 128.1,198.2 128.2,198.0 128.3,198.7 128.3,198.3 128.4,198.5 128.5,198.9 128.6,198.2 128.7,198.3 128.8,198.4 128.8,198.2 128.9,198.7 129.0,198.6 129.1,198.6 129.2,198.3 129.3,198.2 129.3,198.2 129.4,198.2 129.5,197.8 129.6,198.4 129.7,198.6 129.7,198.3 129.8,198.1 129.9,198.3 130.0,198.4 130.1,198.4 130.2,198.9 130.2,198.0 130.3,198.4 130.4,198.5 130.5,198.3 130.6,198.2 130.7,198.0 130.7,198.1 130.8,198.5 130.9,198.8 131.0,198.1 131.1,198.5 131.2,198.5 131.2,198.6 131.3,198.4 131.4,198.4 131.5,198.6 131.6,197.9 131.7,198.3 131.7,197.7 131.8,197.7 131.9,198.0 132.0,197.8 132.1,198.5 132.2,198.6 132.2,198.2 132.3,198.3 132.4,198.2 132.5,198.2 132.6,198.3 132.7,198.4 132.7,198.2 132.8,198.1 132.9,198.1 133.0,198.6 133.1,198.2 133.1,198.8 133.2,198.2 133.3,198.7 133.4,197.9 133.5,198.1 133.6,198.5 133.6,198.5 133.7,198.3 133.8,199.0 133.9,198.3 134.0,198.4 134.1,198.1 134.1,198.8 134.2,198.6 134.3,198.4 134.4,197.8 134.5,198.4 134.6,198.2 134.6,198.4 134.7,198.6 134.8,198.1 134.9,198.4 135.0,198.6 135.1,198.4 135.1,198.2 135.2,198.0 135.3,198.1 135.4,197.9 135.5,198.6 135.6,198.3 135.6,197.9 135.7,198.3 135.8,197.9 135.9,197.2 136.0,198.7 136.0,198.7 136.1,197.8 136.2,198.1 136.3,198.4 136.4,198.2 136.5,198.0 136.5,198.1 136.6,198.2 136.7,198.1 136.8,198.4 136.9,198.2 137.0,198.1 137.0,198.3 137.1,197.8 137.2,198.8 137.3,197.7 137.4,198.3 137.5,198.4 137.5,198.4 137.6,198.4 137.7,198.7 137.8,197.9 137.9,198.3 138.0,198.3 138.0,198.1 138.1,198.1 138.2,198.7 138.3,198.1 138.4,198.1 138.5,198.2 138.5,198.2 138.6,198.4 138.7,198.2 138.8,198.4 138.9,198.3 139.0,198.5 139.0,198.7 139.1,198.0 139.2,198.8 139.3,198.2 139.4,198.5 139.4,198.4 139.5,198.2 139.6,197.7 139.7,198.8 139.8,198.1 139.9,198.0 139.9,198.6 140.0,198.3 140.1,198.9 140.2,198.8 140.3,198.5 140.4,198.4 140.4,198.5 140.5,197.9 140.6,198.4 140.7,198.3 140.8,198.1 140.9,198.4 140.9,197.8 141.0,198.6 141.1,198.7 141.2,197.9 141.3,198.3 141.4,198.8 141.4,198.4 141.5,198.0 141.6,198.0 141.7,198.6 141.8,198.9 141.9,198.0 141.9,198.3 142.0,198.1 142.1,198.2 142.2,198.4 142.3,198.3 142.3,198.1 142.4,199.0 142.5,198.2 142.6,198.2 142.7,198.7 142.8,198.3 142.8,198.2 142.9,198.6 143.0,198.0 143.1,198.5 143.2,198.6 143.3,198.5 143.3,198.2 143.4,198.3 143.5,197.8 143.6,198.3 143.7,198.4 143.8,198.6 143.8,198.3 143.9,198.2 144.0,198.0 144.1,198.3 144.2,198.3 144.3,198.7 144.3,198.3 144.4,198.1 144.5,198.3 144.6,198.1 144.7,198.2 144.8,197.6 144.8,197.8 144.9,197.9 145.0,198.4 145.1,198.3 145.2,198.3 145.3,198.7 145.3,198.0 145.4,198.7 145.5,198.4 145.6,198.1 145.7,198.8 145.7,197.8 145.8,197.9 145.9,198.2 146.0,198.4 146.1,198.2 146.2,197.6 146.2,198.2 146.3,198.3 146.4,199.1 146.5,198.7 146.6,198.3 146.7,197.9 146.7,198.4 146.8,197.9 146.9,198.4 147.0,198.4 147.1,198.2 147.2,198.4 147.2,198.2 147.3,198.1 147.4,198.8 147.5,198.5 147.6,198.2 147.7,198.0 147.7,198.3 147.8,198.5 147.9,198.6 148.0,198.8 148.1,198.4 148.2,197.9 148.2,198.9 148.3,198.7 148.4,198.6 148.5,198.7 148.6,197.8 148.7,198.2 148.7,198.1 148.8,198.7 148.9,197.9 149.0,198.2 149.1,198.8 149.1,198.5 149.2,198.2 149.3,198.9 149.4,197.9 149.5,198.4 149.6,198.2 149.6,198.4 149.7,198.2 149.8,198.0 149.9,198.4 150.0,197.9 150.1,198.5 150.1,198.2 150.2,198.6 150.3,198.1 150.4,198.1 150.5,198.4 150.6,198.7 150.6,197.6 150.7,198.3 150.8,198.5 150.9,197.8 151.0,198.0 151.1,198.5 151.1,198.0 151.2,198.1 151.3,198.8 151.4,198.0 151.5,198.0 151.6,197.6 151.6,197.9 151.7,197.9 151.8,198.8 151.9,198.7 152.0,197.9 152.0,198.9 152.1,198.5 152.2,198.2 152.3,198.5 152.4,198.4 152.5,198.0 152.5,197.7 152.6,198.0 152.7,198.3 152.8,198.2 152.9,198.0 153.0,198.6 153.0,197.9 153.1,198.6 153.2,198.1 153.3,198.3 153.4,197.9 153.5,198.3 153.5,198.0 153.6,197.7 153.7,198.3 153.8,198.3 153.9,198.5 154.0,198.4 154.0,198.0 154.1,198.1 154.2,197.5 154.3,197.9 154.4,198.7 154.5,198.7 154.5,198.5 154.6,198.4 154.7,198.5 154.8,198.4 154.9,197.7 155.0,198.0 155.0,198.6 155.1,198.6 155.2,198.3 155.3,198.2 155.4,198.1 155.4,198.1 155.5,198.0 155.6,197.6 155.7,198.3 155.8,198.1 155.9,198.2 155.9,198.8 156.0,198.4 156.1,198.0 156.2,198.4 156.3,197.8 156.4,198.6 156.4,198.3 156.5,198.2 156.6,198.4 156.7,198.7 156.8,198.1 156.9,197.9 156.9,198.9 157.0,198.2 157.1,198.7 157.2,198.0 157.3,198.4 157.4,198.0 157.4,198.4 157.5,198.1 157.6,198.0 157.7,198.7 157.8,198.3 157.9,197.6 157.9,198.1 158.0,197.9 158.1,197.8 158.2,198.0 158.3,198.0 158.3,198.2 158.4,197.9 158.5,197.6 158.6,198.0 158.7,198.5 158.8,197.7 158.8,198.4 158.9,198.3 159.0,198.0 159.1,198.3 159.2,197.9 159.3,198.0 159.3,197.8 159.4,198.3 159.5,198.6 159.6,197.9 159.7,198.5 159.8,197.4 159.8,197.8 159.9,197.8 160.0,198.6 160.1,197.9 160.2,198.3 160.3,197.4 160.3,198.0 160.4,198.2 160.5,198.0 160.6,197.1 160.7,198.0 160.8,198.2 160.8,198.3 160.9,198.0 161.0,197.3 161.1,197.7 161.2,198.0 161.3,197.4 161.3,197.8 161.4,197.4 161.5,197.5 161.6,197.6 161.7,197.1 161.7,198.1 161.8,197.1 161.9,197.0 162.0,196.4 162.1,196.4 162.2,196.0 162.2,195.2 162.3,194.5 162.4,194.1 162.5,192.4 162.6,189.4 162.7,186.4 162.7,182.7 162.8,177.5 162.9,171.8 163.0,165.7 163.1,162.9 163.2,162.6 163.2,166.0 163.3,171.6 163.4,177.8 163.5,182.9 163.6,187.3 163.7,190.0 163.7,192.4 163.8,193.6 163.9,194.8 164.0,195.5 164.1,195.9 164.2,196.6 164.2,196.8 164.3,197.1 164.4,197.1 164.5,197.5 164.6,197.3 164.6,197.7 164.7,197.6 164.8,197.8 164.9,197.6 165.0,197.3 165.1,197.3 165.1,198.4 165.2,197.9 165.3,198.0 165.4,197.8 165.5,197.7 165.6,198.8 165.6,197.6 165.7,197.9 165.8,198.0 165.9,197.6 166.0,197.6 166.1,197.8 166.1,197.9 166.2,197.9 166.3,198.3 166.4,197.7 166.5,198.2 166.6,198.5 166.6,198.4 166.7,197.7 166.8,197.1 166.9,198.4 167.0,198.3 167.1,197.9 167.1,198.5 167.2,198.0 167.3,198.1 167.4,197.8 167.5,198.2 167.6,198.0 167.6,197.9 167.7,198.4 167.8,198.2 167.9,197.6 168.0,198.3 168.0,198.3 168.1,197.8 168.2,197.9 168.3,198.1 168.4,197.9 168.5,198.0 168.5,198.2 168.6,197.8 168.7,198.6 168.8,197.7 168.9,197.7 169.0,198.4 169.0,198.5 169.1,197.6 169.2,197.3 169.3,196.8 169.4,197.1 169.5,196.3 169.5,195.3 169.6,194.9 169.7,194.2 169.8,193.0 169.9,192.6 170.0,191.7 170.0,191.5 170.1,191.9 170.2,192.9 170.3,194.2 170.4,195.0 170.5,195.9 170.5,196.3 170.6,197.0 170.7,197.5 170.8,197.4 170.9,197.2 171.0,198.3 171.0,198.0 171.1,197.7 171.2,198.0 171.3,197.9 171.4,197.4 171.4,198.0 171.5,197.6 171.6,198.1 171.7,198.1 171.8,198.5 171.9,198.1 171.9,198.2 172.0,198.0 172.1,198.0 172.2,197.7 172.3,198.5 172.4,198.2 172.4,198.0 172.5,198.3 172.6,198.1 172.7,198.0 172.8,198.3 172.9,198.6 172.9,198.1 173.0,197.8 173.1,198.0 173.2,198.8 173.3,198.0 173.4,198.6 173.4,198.2 173.5,198.5 173.6,198.2 173.7,197.7 173.8,198.1 173.9,198.9 173.9,198.2 174.0,198.4 174.1,198.1 174.2,198.2 174.3,198.3 174.3,198.4 174.4,199.0 174.5,198.2 174.6,198.2 174.7,198.0 174.8,197.8 174.8,197.7 174.9,198.5 175.0,197.7 175.1,198.7 175.2,198.5 175.3,198.2 175.3,197.9 175.4,198.3 175.5,198.3 175.6,198.6 175.7,198.0 175.8,198.1 175.8,198.2 175.9,198.2 176.0,198.1 176.1,197.7 176.2,197.7 176.3,198.0 176.3,198.2 176.4,198.6 176.5,199.0 176.6,198.8 176.7,198.4 176.8,198.9 176.8,198.2 176.9,198.1 177.0,199.0 177.1,197.9 177.2,198.1 177.3,198.2 177.3,198.7 177.4,198.1 177.5,198.5 177.6,198.1 177.7,197.9 177.7,198.3 177.8,198.3 177.9,197.9 178.0,198.0 178.1,198.0 178.2,198.6 178.2,198.4 178.3,198.3 178.4,198.4 178.5,198.1 178.6,198.4 178.7,198.1 178.7,197.8 178.8,198.0 178.9,198.3 179.0,198.3 179.1,198.6 179.2,197.7 179.2,198.2 179.3,198.4 179.4,198.0 179.5,198.4 179.6,198.1 179.7,197.9 179.7,198.6 179.8,197.8 179.9,198.6 180.0,198.1 180.1,198.0 180.2,198.0 180.2,198.0 180.3,198.0 180.4,198.4 180.5,197.7 180.6,198.7 180.6,198.5 180.7,198.7 180.8,198.0 180.9,197.5 181.0,198.1 181.1,198.2 181.1,198.4 181.2,198.1 181.3,198.2 181.4,198.3 181.5,197.8 181.6,198.9 181.6,197.9 181.7,198.4 181.8,198.6 181.9,198.0 182.0,198.3 182.1,198.8 182.1,198.2 182.2,198.6 182.3,198.4 182.4,198.3 182.5,198.5 182.6,198.2 182.6,198.2 182.7,198.6 182.8,198.4 182.9,198.4 183.0,197.9 183.1,198.3 183.1,198.7 183.2,198.6 183.3,198.4 183.4,198.1 183.5,198.1 183.6,198.4 183.6,198.7 183.7,198.3 183.8,198.7 183.9,198.2 184.0,198.7 184.0,198.0 184.1,198.3 184.2,197.9 184.3,198.5 184.4,198.5 184.5,198.0 184.5,198.0 184.6,198.1 184.7,197.8 184.8,198.0 184.9,198.0 185.0,198.5 185.0,198.7 185.1,198.1 185.2,198.2 185.3,198.3 185.4,198.1 185.5,198.2 185.5,198.5 185.6,198.3 185.7,198.2 185.8,198.1 185.9,198.7 186.0,198.1 186.0,198.3 186.1,197.9 186.2,198.1 186.3,198.3 186.4,198.1 186.5,198.4 186.5,198.3 186.6,197.8 186.7,197.5 186.8,198.6 186.9,198.1 186.9,198.7 187.0,198.3 187.1,198.0 187.2,198.4 187.3,198.2 187.4,198.3 187.4,198.0 187.5,198.5 187.6,198.6 187.7,198.1 187.8,198.8 187.9,198.1 187.9,198.3 188.0,197.7 188.1,197.6 188.2,198.9 188.3,198.7 188.4,198.6 188.4,197.7 188.5,198.3 188.6,198.4 188.7,198.3 188.8,198.3 188.9,197.9 188.9,198.2 189.0,197.9 189.1,198.1 189.2,198.3 189.3,198.0 189.4,198.1 189.4,198.1 189.5,198.2 189.6,198.5 189.7,198.3 189.8,198.3 189.9,197.7 189.9,198.1 190.0,198.5 190.1,197.9 190.2,198.1 190.3,197.9 190.3,198.6 190.4,198.0 190.5,197.9 190.6,198.4 190.7,198.5 190.8,198.3 190.8,198.5 190.9,198.2 191.0,198.1 191.1,198.0 191.2,198.0 191.3,197.9 191.3,198.2 191.4,198.1 191.5,198.1 191.6,198.3 191.7,198.1 191.8,197.7 191.8,197.8 191.9,197.7 192.0,197.4 192.1,198.1 192.2,197.7 192.3,197.6 192.3,197.7 192.4,198.3 192.5,197.9 192.6,198.3 192.7,197.9 192.8,197.8 192.8,198.1 192.9,198.1 193.0,197.9 193.1,197.5 193.2,197.6 193.3,197.3 193.3,197.6 193.4,197.7 193.5,198.0 193.6,198.0 193.7,197.7 193.7,197.7 193.8,197.3 193.9,198.0 194.0,197.5 194.1,197.7 194.2,196.8 194.2,196.6 194.3,196.6 194.4,195.9 194.5,195.5 194.6,194.4 194.7,194.1 194.7,192.5 194.8,190.7 194.9,187.7 195.0,183.7 195.1,180.0 195.2,175.0 195.2,168.9 195.3,164.3 195.4,161.6 195.5,161.6 195.6,164.0 195.7,169.9 195.7,175.0 195.8,179.6 195.9,183.6 196.0,187.9 196.1,191.1 196.2,192.7 196.2,194.2 196.3,194.5 196.4,195.5 196.5,195.4 196.6,196.9 196.6,196.7 196.7,196.0 196.8,196.3 196.9,197.2 197.0,197.2 197.1,197.2 197.1,197.6 197.2,198.1 197.3,197.6 197.4,197.0 197.5,197.6 197.6,197.3 197.6,197.5 197.7,197.9 197.8,197.7 197.9,197.5 198.0,197.8 198.1,197.6 198.1,198.1 198.2,197.9 198.3,198.1 198.4,197.9 198.5,198.2 198.6,198.0 198.6,198.0 198.7,197.8 198.8,198.1 198.9,197.5 199.0,198.9 199.1,197.9 199.1,198.1 199.2,197.9 199.3,197.9 199.4,198.2 199.5,198.0 199.6,198.0 199.6,197.7 199.7,197.8 199.8,197.8 199.9,198.7 200.0,197.7 200.0,197.8 200.1,198.2 200.2,198.6 200.3,197.6 200.4,197.7 200.5,198.2 200.5,198.3 200.6,197.7 200.7,197.6 200.8,197.9 200.9,198.4 201.0,198.2 201.0,198.4 201.1,198.2 201.2,198.2 201.3,198.4 201.4,198.2 201.5,198.3 201.5,197.9 201.6,198.0 201.7,198.4 201.8,198.1 201.9,198.0 202.0,198.4 202.0,198.4 202.1,198.2 202.2,198.0 202.3,198.5 202.4,199.0 202.5,198.0 202.5,197.7 202.6,198.0 202.7,197.9 202.8,197.8 202.9,197.9 202.9,198.5 203.0,198.5 203.1,198.7 203.2,198.5 203.3,198.1 203.4,198.6 203.4,198.0 203.5,198.1 203.6,197.9 203.7,198.6 203.8,198.6 203.9,198.1 203.9,198.1 204.0,198.2 204.1,198.3 204.2,198.5 204.3,198.3 204.4,198.4 204.4,197.8 204.5,198.1 204.6,197.7 204.7,198.8 204.8,198.7 204.9,198.5 204.9,198.6 205.0,198.9 205.1,198.5 205.2,197.7 205.3,198.2 205.4,197.5 205.4,198.0 205.5,197.8 205.6,198.2 205.7,198.4 205.8,197.9 205.9,198.2 205.9,198.3 206.0,198.2 206.1,198.2 206.2,197.5 206.3,198.1 206.3,198.5 206.4,198.3 206.5,197.8 206.6,198.2 206.7,198.3 206.8,197.9 206.8,198.5 206.9,198.0 207.0,198.1 207.1,198.2 207.2,198.9 207.3,198.1 207.3,198.1 207.4,198.5 207.5,198.1 207.6,198.3 207.7,197.5 207.8,198.3 207.8,198.2 207.9,197.8 208.0,198.7 208.1,198.2 208.2,198.2 208.3,197.8 208.3,197.7 208.4,198.0 208.5,197.7 208.6,198.4 208.7,198.5 208.8,198.0 208.8,197.7 208.9,198.1 209.0,197.9 209.1,198.3 209.2,198.3 209.2,198.1 209.3,198.2 209.4,198.5 209.5,198.7 209.6,198.0 209.7,198.4 209.7,198.1 209.8,197.8 209.9,198.6 210.0,198.3 210.1,198.2 210.2,198.3 210.2,198.1 210.3,197.8 210.4,198.7 210.5,198.4 210.6,198.2 210.7,198.4 210.7,198.5 210.8,198.0 210.9,198.2 211.0,197.9 211.1,198.2 211.2,197.9 211.2,198.7 211.3,197.8 211.4,198.0 211.5,198.0 211.6,197.6 211.7,198.0 211.7,197.5 211.8,197.3 211.9,197.2 212.0,196.7 212.1,196.9 212.2,196.3 212.2,195.8 212.3,194.3 212.4,194.0 212.5,192.8 212.6,192.1 212.6,191.7 212.7,190.8 212.8,190.4 212.9,191.0 213.0,191.6 213.1,192.7 213.1,192.4 213.2,194.1 213.3,194.6 213.4,195.2 213.5,196.1 213.6,196.2 213.6,196.2 213.7,196.9 213.8,197.3 213.9,198.1 214.0,197.4 214.1,197.4 214.1,197.2 214.2,197.8 214.3,197.8 214.4,198.0 214.5,197.5 214.6,197.8 214.6,197.3 214.7,198.1 214.8,197.6 214.9,197.2 215.0,198.5 215.1,198.3 215.1,198.2 215.2,198.2 215.3,197.8 215.4,198.5 215.5,197.8 215.6,198.8 215.6,198.2 215.7,197.6 215.8,198.5 215.9,198.8 216.0,198.1 216.0,198.5 216.1,198.1 216.2,198.0 216.3,197.4 216.4,198.6 216.5,198.1 216.5,198.3 216.6,197.9 216.7,197.9 216.8,198.6 216.9,198.1 217.0,198.1 217.0,197.8 217.1,198.3 217.2,198.5 217.3,198.1 217.4,198.2 217.5,197.8 217.5,198.7 217.6,198.0 217.7,198.2 217.8,198.8 217.9,198.2 218.0,197.7 218.0,197.9 218.1,198.1 218.2,198.8 218.3,198.3 218.4,198.2 218.5,198.5 218.5,198.7 218.6,198.0 218.7,198.7 218.8,198.5 218.9,198.4 218.9,197.5 219.0,198.3 219.1,198.7 219.2,198.2 219.3,199.0 219.4,198.3 219.4,197.9 219.5,198.5 219.6,198.4 219.7,198.5 219.8,198.2 219.9,198.7 219.9,198.1 220.0,198.3 220.1,197.9 220.2,198.0 220.3,198.3 220.4,198.1 220.4,198.1 220.5,198.2 220.6,198.4 220.7,198.5 220.8,198.5 220.9,198.6 220.9,198.3 221.0,198.1 221.1,197.8 221.2,198.2 221.3,198.0 221.4,197.7 221.4,198.8 221.5,197.7 221.6,198.4 221.7,198.5 221.8,198.2 221.9,199.1 221.9,198.3 222.0,198.0 222.1,198.8 222.2,198.0 222.3,197.8 222.3,197.9 222.4,198.1 222.5,198.3 222.6,198.4 222.7,197.8 222.8,198.4 222.8,199.0 222.9,198.0 223.0,198.2 223.1,198.5 223.2,198.7 223.3,198.1 223.3,198.0 223.4,198.0 223.5,198.6 223.6,198.6 223.7,197.6 223.8,197.6 223.8,197.9 223.9,197.8 224.0,198.4 224.1,198.3 224.2,198.9 224.3,198.5 224.3,198.3 224.4,198.7 224.5,198.0 224.6,197.8 224.7,198.3 224.8,198.6 224.8,197.8 224.9,198.6 225.0,198.6 225.1,198.1 225.2,198.3 225.2,198.2 225.3,198.3 225.4,198.5 225.5,198.0 225.6,198.6 225.7,198.6 225.7,198.6 225.8,197.6 225.9,197.7 226.0,198.5 226.1,198.1 226.2,198.1 226.2,198.0 226.3,197.8 226.4,198.2 226.5,198.0 226.6,198.1 226.7,198.4 226.7,197.9 226.8,198.6 226.9,197.6 227.0,199.1 227.1,197.8 227.2,198.5 227.2,198.6 227.3,198.3 227.4,198.5 227.5,198.2 227.6,197.7 227.7,198.4 227.7,198.7 227.8,198.1 227.9,197.7 228.0,198.1 228.1,198.4 228.2,198.4 228.2,198.6 228.3,198.5 228.4,198.4 228.5,197.6 228.6,199.0 228.6,198.3 228.7,198.6 228.8,198.2 228.9,198.2 229.0,198.3 229.1,198.8 229.1,198.8 229.2,198.5 229.3,198.9 229.4,198.2 229.5,198.5 229.6,198.1 229.6,198.7 229.7,198.3 229.8,198.6 229.9,198.8 230.0,197.6 230.1,199.0 230.1,198.4 230.2,198.2 230.3,197.7 230.4,198.2 230.5,197.5 230.6,198.3 230.6,198.2 230.7,198.9 230.8,198.2 230.9,198.6 231.0,198.7 231.1,199.0 231.1,198.2 231.2,198.5 231.3,197.8 231.4,197.9 231.5,198.2 231.6,198.3 231.6,197.9 231.7,198.2 231.8,198.5 231.9,198.1 232.0,198.2 232.0,198.0 232.1,198.7 232.2,198.9 232.3,198.4 232.4,198.2 232.5,198.8 232.5,198.4 232.6,198.1 232.7,197.8 232.8,198.1 232.9,199.0 233.0,198.1 233.0,199.2 233.1,198.3 233.2,198.2 233.3,198.7 233.4,198.2 233.5,198.4 233.5,197.9 233.6,197.9 233.7,198.0 233.8,198.4 233.9,198.1 234.0,197.6 234.0,198.4 234.1,198.2 234.2,198.2 234.3,198.1 234.4,197.5 234.5,198.8 234.5,198.1 234.6,198.5 234.7,198.7 234.8,198.7 234.9,198.4 234.9,198.3 235.0,198.4 235.1,198.6 235.2,198.5 235.3,198.1 235.4,198.4 235.4,198.4 235.5,198.5 235.6,198.4 235.7,198.7 235.8,198.4 235.9,198.6 235.9,198.3 236.0,198.1 236.1,198.0 236.2,198.2 236.3,198.5 236.4,198.7 236.4,198.3 236.5,198.1 236.6,198.1 236.7,198.7 236.8,198.3 236.9,198.1 236.9,198.5 237.0,197.9 237.1,198.3 237.2,198.3 237.3,198.2 237.4,197.9 237.4,198.6 237.5,198.8 237.6,197.9 237.7,198.3 237.8,198.5 237.9,199.0 237.9,198.2 238.0,198.0 238.1,198.3 238.2,198.9 238.3,198.3 238.3,198.4 238.4,198.9 238.5,197.6 238.6,197.6 238.7,198.6 238.8,198.5 238.8,197.8 238.9,198.5 239.0,198.3 239.1,198.4 239.2,198.0 239.3,198.1 239.3,198.0 239.4,198.3 239.5,198.2 239.6,198.8 239.7,198.5 239.8,197.8 239.8,198.4 239.9,198.8 240.0,198.4 240.1,198.6 240.2,198.3 240.3,198.5 240.3,198.0 240.4,198.5 240.5,197.8 240.6,198.7 240.7,197.8 240.8,197.6 240.8,198.5 240.9,198.2 241.0,198.3 241.1,198.4 241.2,198.3 241.2,198.0 241.3,198.4 241.4,198.4 241.5,198.4 241.6,198.9 241.7,198.0 241.7,198.3 241.8,198.5 241.9,198.1 242.0,197.9 242.1,198.1 242.2,198.6 242.2,198.2 242.3,198.5 242.4,198.0 242.5,198.4 242.6,198.1 242.7,198.0 242.7,198.3 242.8,198.3 242.9,198.8 243.0,197.7 243.1,198.4 243.2,198.8 243.2,198.7 243.3,198.2 243.4,198.1 243.5,198.1 243.6,198.4 243.7,198.3 243.7,198.4 243.8,198.5 243.9,197.9 244.0,197.9 244.1,197.9 244.2,197.8 244.2,198.2 244.3,198.4 244.4,199.1 244.5,198.5 244.6,198.3 244.6,198.7 244.7,198.0 244.8,198.4 244.9,198.6 245.0,198.5 245.1,198.4 245.1,198.2 245.2,197.9 245.3,198.2 245.4,198.1 245.5,198.5 245.6,198.2 245.6,198.5 245.7,197.7 245.8,198.6 245.9,198.0 246.0,197.8 246.1,197.8 246.1,198.1 246.2,198.6 246.3,198.5 246.4,197.9 246.5,198.3 246.6,198.2 246.6,197.8 246.7,197.9 246.8,197.6 246.9,198.0 247.0,197.4 247.1,198.0 247.1,198.0 247.2,198.0 247.3,198.0 247.4,198.6 247.5,198.1 247.5,198.3 247.6,198.5 247.7,198.6 247.8,198.5 247.9,198.1 248.0,197.9 248.0,198.0 248.1,198.1 248.2,198.3 248.3,198.2 248.4,198.6 248.5,198.2 248.5,198.8 248.6,198.6 248.7,198.1 248.8,198.5 248.9,197.3 249.0,198.7 249.0,198.4 249.1,198.4 249.2,197.7 249.3,199.1 249.4,198.1 249.5,198.2 249.5,198.6 249.6,198.2 249.7,197.9 249.8,198.4 249.9,197.9 250.0,198.5 250.0,198.3 250.1,198.6 250.2,197.8 250.3,198.6 250.4,198.3 250.5,198.8 250.5,198.0 250.6,198.8 250.7,198.4 250.8,198.4 250.9,197.9 250.9,198.3 251.0,198.4 251.1,197.9 251.2,197.8 251.3,197.9 251.4,198.6 251.4,198.2 251.5,198.4 251.6,198.2 251.7,198.1 251.8,198.2 251.9,197.9 251.9,198.5 252.0,198.1 252.1,198.1 252.2,197.6 252.3,198.1 252.4,197.7 252.4,197.8 252.5,198.3 252.6,197.5 252.7,197.8 252.8,198.0 252.9,198.1 252.9,197.5 253.0,197.8 253.1,197.7 253.2,197.1 253.3,196.7 253.4,196.6 253.4,197.3 253.5,196.9 253.6,196.1 253.7,196.0 253.8,195.6 253.9,195.0 253.9,194.4 254.0,194.4 254.1,192.5 254.2,191.8 254.3,190.5 254.3,189.5 254.4,188.5 254.5,188.1 254.6,187.6 254.7,187.9 254.8,188.2 254.8,188.5 254.9,190.4 255.0,190.4 255.1,191.9 255.2,193.5 255.3,193.4 255.3,194.9 255.4,195.6 255.5,195.8 255.6,195.6 255.7,197.0 255.8,196.9 255.8,196.9 255.9,197.7 256.0,197.1 256.1,197.8 256.2,197.4 256.3,197.8 256.3,197.4 256.4,197.6 256.5,197.5 256.6,197.6 256.7,197.9 256.8,197.9 256.8,198.0 256.9,198.4 257.0,197.9 257.1,197.4 257.2,197.9 257.2,198.1 257.3,198.4 257.4,198.4 257.5,198.4 257.6,198.0 257.7,198.3 257.7,197.6 257.8,198.5 257.9,198.3 258.0,198.3 258.1,198.0 258.2,198.2 258.2,197.9 258.3,198.3 258.4,197.7 258.5,198.5 258.6,198.4 258.7,198.8 258.7,198.2 258.8,198.2 258.9,198.3 259.0,198.2 259.1,198.2 259.2,197.8 259.2,197.8 259.3,198.0 259.4,198.1 259.5,197.8 259.6,197.8 259.7,198.1 259.7,198.5 259.8,198.2 259.9,198.4 260.0,198.5 260.1,198.5 260.2,198.1 260.2,198.1 260.3,197.6 260.4,198.0 260.5,198.4 260.6,197.9 260.6,198.7 260.7,198.7 260.8,198.1 260.9,198.5 261.0,197.8 261.1,197.9 261.1,198.1 261.2,198.2 261.3,198.2 261.4,198.0 261.5,198.9 261.6,198.3 261.6,198.3 261.7,198.5 261.8,198.3 261.9,198.2 262.0,198.1 262.1,197.7 262.1,198.7 262.2,198.0 262.3,197.7 262.4,198.0 262.5,197.7 262.6,198.9 262.6,198.4 262.7,198.7 262.8,198.7 262.9,198.4 263.0,198.4 263.1,198.0 263.1,198.2 263.2,198.1 263.3,198.3 263.4,198.0 263.5,198.7 263.5,198.5 263.6,198.2 263.7,197.7 263.8,198.5 263.9,198.6 264.0,198.2 264.0,197.9 264.1,198.4 264.2,198.6 264.3,197.6 264.4,198.4 264.5,197.7 264.5,198.3 264.6,198.8 264.7,198.3 264.8,198.4 264.9,198.2 265.0,198.3 265.0,199.0 265.1,198.7 265.2,198.2 265.3,198.1 265.4,198.3 265.5,199.0 265.5,198.3 265.6,198.6 265.7,198.1 265.8,197.8 265.9,198.7 266.0,198.2 266.0,198.0 266.1,198.0 266.2,198.0 266.3,198.1 266.4,197.8 266.5,198.7 266.5,198.4 266.6,198.6 266.7,198.2 266.8,198.4 266.9,198.3 266.9,198.6 267.0,198.5 267.1,198.4 267.2,198.1 267.3,197.9 267.4,198.0 267.4,198.1 267.5,198.1 267.6,197.9 267.7,198.8 267.8,198.3 267.9,197.6 267.9,197.9 268.0,197.8 268.1,198.3 268.2,198.6 268.3,197.9 268.4,198.5 268.4,198.2 268.5,198.6 268.6,198.7 268.7,198.4 268.8,198.5 268.9,198.3 268.9,198.1 269.0,197.9 269.1,198.4 269.2,198.2 269.3,198.1 269.4,198.2 269.4,198.2 269.5,197.9 269.6,198.1 269.7,198.6 269.8,198.2 269.8,198.7 269.9,197.9 270.0,197.8 270.1,198.3 270.2,198.5 270.3,198.0 270.3,198.4 270.4,198.5 270.5,198.6 270.6,198.2 270.7,198.2 270.8,197.7 270.8,198.2 270.9,198.3 271.0,198.7 271.1,197.8 271.2,198.0 271.3,197.9 271.3,198.5 271.4,197.4 271.5,197.9 271.6,198.9 271.7,198.4 271.8,197.8 271.8,198.2 271.9,198.5 272.0,198.4 272.1,198.1 272.2,198.0 272.3,198.5 272.3,198.2 272.4,198.5 272.5,198.3 272.6,198.1 272.7,198.7 272.8,198.0 272.8,198.3 272.9,198.0 273.0,198.1 273.1,198.1 273.2,198.0 273.2,198.3 273.3,198.6 273.4,198.8 273.5,198.6 273.6,198.1 273.7,198.6 273.7,198.3 273.8,198.7 273.9,197.7 274.0,198.6 274.1,197.9 274.2,198.5 274.2,198.0 274.3,198.4 274.4,198.0 274.5,197.5 274.6,197.8 274.7,198.0 274.7,198.1 274.8,197.3 274.9,197.7 275.0,197.8 275.1,198.0 275.2,198.1 275.2,197.7 275.3,197.5 275.4,198.1 275.5,197.9 275.6,198.2 275.7,197.8 275.7,198.1 275.8,197.6 275.9,197.9 276.0,197.8 276.1,197.9 276.2,197.4 276.2,197.7 276.3,197.4 276.4,197.6 276.5,197.8 276.6,198.4 276.6,197.4 276.7,197.5 276.8,197.2 276.9,197.4 277.0,197.0 277.1,197.0 277.1,196.5 277.2,196.8 277.3,196.0 277.4,194.5 277.5,194.4 277.6,193.5 277.6,191.7 277.7,190.9 277.8,189.7 277.9,188.1 278.0,186.8 278.1,184.6 278.1,184.1 278.2,183.0 278.3,182.3 278.4,182.1 278.5,182.8 278.6,183.7 278.6,185.6 278.7,186.9 278.8,189.0 278.9,189.7 279.0,191.7 279.1,192.2 279.1,193.4 279.2,194.0 279.3,195.2 279.4,195.6 279.5,196.3 279.5,196.9 279.6,196.7 279.7,197.0 279.8,197.4 279.9,197.2 280.0,197.1 280.0,197.5 280.1,197.6 280.2,197.8 280.3,197.9 280.4,197.4 280.5,197.8 280.5,198.1 280.6,197.6 280.7,197.9 280.8,197.6 280.9,197.9 281.0,198.5 281.0,198.0 281.1,197.6 281.2,198.1 281.3,198.0 281.4,198.4 281.5,197.6 281.5,197.7 281.6,198.0 281.7,197.5 281.8,198.4 281.9,197.4 282.0,197.8 282.0,197.6 282.1,197.9 282.2,198.4 282.3,198.3 282.4,198.4 282.5,198.3 282.5,197.5 282.6,198.2 282.7,197.5 282.8,198.0 282.9,198.0 282.9,198.0 283.0,198.3 283.1,197.9 283.2,198.7 283.3,198.4 283.4,198.6 283.4,198.4 283.5,198.5 283.6,198.2 283.7,198.8 283.8,197.8 283.9,198.3 283.9,198.2 284.0,198.1 284.1,198.3 284.2,198.0 284.3,198.5 284.4,198.5 284.4,198.2 284.5,198.4 284.6,197.9 284.7,197.6 284.8,198.0 284.9,198.1 284.9,199.0 285.0,198.1 285.1,198.5 285.2,198.5 285.3,198.9 285.4,198.3 285.4,198.4 285.5,198.2 285.6,197.9 285.7,197.9 285.8,198.0 285.8,198.7 285.9,198.3 286.0,198.2 286.1,198.2 286.2,198.0 286.3,198.2 286.3,198.2 286.4,198.4 286.5,198.5 286.6,197.7 286.7,198.3 286.8,198.7 286.8,197.9 286.9,198.1 287.0,198.3 287.1,198.6 287.2,198.4 287.3,198.1 287.3,198.4 287.4,198.5 287.5,198.3 287.6,198.8 287.7,198.3 287.8,197.9 287.8,197.9 287.9,198.2 288.0,198.1 288.1,198.4 288.2,198.3 288.3,198.7 288.3,198.4 288.4,198.7 288.5,197.9 288.6,198.0 288.7,198.4 288.8,198.2 288.8,198.4 288.9,198.2 289.0,197.9 289.1,198.7 289.2,198.5 289.2,197.6 289.3,197.9 289.4,198.1 289.5,198.3 289.6,198.0 289.7,197.6 289.7,198.3 289.8,198.0 289.9,198.4 290.0,198.1 290.1,198.3 290.2,198.2 290.2,198.2 290.3,197.7 290.4,198.1 290.5,197.8 290.6,197.3 290.7,197.5 290.7,197.4 290.8,197.5 290.9,197.3 291.0,196.5 291.1,196.8 291.2,196.3 291.2,195.5 291.3,195.7 291.4,194.7 291.5,194.0 291.6,194.0 291.7,193.5 291.7,192.4 291.8,192.5 291.9,192.2 292.0,191.6 292.1,192.5 292.1,192.2 292.2,192.7 292.3,192.4 292.4,194.0 292.5,194.2 292.6,195.1 292.6,194.9 292.7,196.3 292.8,196.7 292.9,197.2 293.0,196.0 293.1,197.3 293.1,197.4 293.2,196.5 293.3,197.4 293.4,197.7 293.5,198.2 293.6,197.6 293.6,197.9 293.7,197.9 293.8,198.1 293.9,197.8 294.0,198.3 294.1,198.3 294.1,197.6 294.2,198.4 294.3,197.8 294.4,198.0 294.5,198.5 294.6,198.1 294.6,198.3 294.7,198.4 294.8,198.3 294.9,198.0 295.0,197.9 295.1,198.4 295.1,198.4 295.2,198.3 295.3,198.1 295.4,198.5 295.5,198.2 295.5,197.8 295.6,198.3 295.7,198.4 295.8,198.5 295.9,197.9 296.0,198.0 296.0,198.3 296.1,198.1 296.2,198.2 296.3,198.5 296.4,198.4 296.5,198.8 296.5,198.3 296.6,198.8 296.7,198.6 296.8,199.1 296.9,198.3 297.0,198.2 297.0,198.7 297.1,198.1 297.2,198.1 297.3,198.3 297.4,198.4 297.5,197.8 297.5,198.4 297.6,198.2 297.7,198.3 297.8,198.3 297.9,198.2 298.0,198.6 298.0,198.4 298.1,198.2 298.2,198.3 298.3,198.6 298.4,198.5 298.5,198.7 298.5,198.2 298.6,198.3 298.7,198.9 298.8,198.3 298.9,198.8 298.9,198.6 299.0,198.2 299.1,197.9 299.2,198.5 299.3,198.1 299.4,198.1 299.4,197.8 299.5,198.7 299.6,198.3 299.7,198.3 299.8,198.4 299.9,198.4 299.9,198.3 300.0,198.5 300.1,198.2 300.2,197.5 300.3,198.5 300.4,198.4 300.4,198.3 300.5,198.8 300.6,197.9 300.7,197.4 300.8,198.8 300.9,198.4 300.9,197.8 301.0,198.2 301.1,198.5 301.2,197.9 301.3,198.5 301.4,199.0 301.4,198.8 301.5,198.3 301.6,198.4 301.7,198.0 301.8,198.4 301.8,198.2 301.9,198.0 302.0,197.9 302.1,198.9 302.2,198.3 302.3,198.0 302.3,198.2 302.4,198.8 302.5,198.8 302.6,198.1 302.7,198.4 302.8,198.6 302.8,198.2 302.9,197.9 303.0,198.0 303.1,198.3 303.2,198.1 303.3,197.9" fill="none" stroke="#0c8f24" stroke-width="1.2" stroke-linejoin="round"/>
<rect x="33.3" y="6.5" width="290.90" height="290.10" fill="none" stroke="#505050" stroke-width="1.5"/>
<line x1="33.88" y1="296.6" x2="33.88" y2="298.90000000000003" stroke="#505050" stroke-width="1.3"/>
<line x1="54.60" y1="296.6" x2="54.60" y2="300.8" stroke="#505050" stroke-width="1.3"/>
<text transform="translate(54.60,311.20) scale(1,1.12)" font-size="9.4" text-anchor="middle" fill="#222" stroke="#222" stroke-width="0.22">10</text>
<line x1="75.33" y1="296.6" x2="75.33" y2="298.90000000000003" stroke="#505050" stroke-width="1.3"/>
<line x1="96.05" y1="296.6" x2="96.05" y2="300.8" stroke="#505050" stroke-width="1.3"/>
<text transform="translate(96.05,311.20) scale(1,1.12)" font-size="9.4" text-anchor="middle" fill="#222" stroke="#222" stroke-width="0.22">20</text>
<line x1="116.78" y1="296.6" x2="116.78" y2="298.90000000000003" stroke="#505050" stroke-width="1.3"/>
<line x1="137.50" y1="296.6" x2="137.50" y2="300.8" stroke="#505050" stroke-width="1.3"/>
<text transform="translate(137.50,311.20) scale(1,1.12)" font-size="9.4" text-anchor="middle" fill="#222" stroke="#222" stroke-width="0.22">30</text>
<line x1="158.22" y1="296.6" x2="158.22" y2="298.90000000000003" stroke="#505050" stroke-width="1.3"/>
<line x1="178.95" y1="296.6" x2="178.95" y2="300.8" stroke="#505050" stroke-width="1.3"/>
<text transform="translate(178.95,311.20) scale(1,1.12)" font-size="9.4" text-anchor="middle" fill="#222" stroke="#222" stroke-width="0.22">40</text>
<line x1="199.67" y1="296.6" x2="199.67" y2="298.90000000000003" stroke="#505050" stroke-width="1.3"/>
<line x1="220.40" y1="296.6" x2="220.40" y2="300.8" stroke="#505050" stroke-width="1.3"/>
<text transform="translate(220.40,311.20) scale(1,1.12)" font-size="9.4" text-anchor="middle" fill="#222" stroke="#222" stroke-width="0.22">50</text>
<line x1="241.12" y1="296.6" x2="241.12" y2="298.90000000000003" stroke="#505050" stroke-width="1.3"/>
<line x1="261.85" y1="296.6" x2="261.85" y2="300.8" stroke="#505050" stroke-width="1.3"/>
<text transform="translate(261.85,311.20) scale(1,1.12)" font-size="9.4" text-anchor="middle" fill="#222" stroke="#222" stroke-width="0.22">60</text>
<line x1="282.57" y1="296.6" x2="282.57" y2="298.90000000000003" stroke="#505050" stroke-width="1.3"/>
<line x1="303.30" y1="296.6" x2="303.30" y2="300.8" stroke="#505050" stroke-width="1.3"/>
<text transform="translate(303.30,311.20) scale(1,1.12)" font-size="9.4" text-anchor="middle" fill="#222" stroke="#222" stroke-width="0.22">70</text>
<line x1="324.02" y1="296.6" x2="324.02" y2="298.90000000000003" stroke="#505050" stroke-width="1.3"/>
<text transform="translate(138.40,328.60) scale(1,1.07)" font-size="11.3" fill="#222" stroke="#222" stroke-width="0.22">2Theta (degree)</text>
<text transform="translate(19.90,150.40) scale(1,1.05) rotate(-90)" font-size="10.9" text-anchor="middle" fill="#222" stroke="#222" stroke-width="0.22">Intensity (a.u.)</text>
<text transform="translate(5.90,335.60) scale(1,1.0)" font-size="22" fill="#111" stroke="#111" stroke-width="0.22" letter-spacing="0.45">(a)</text>
<text transform="translate(341.10,335.40) scale(1,1.0)" font-size="22" fill="#111" stroke="#111" stroke-width="0.22" letter-spacing="0.45">(b)</text>
<text transform="translate(37.60,192.30) scale(1,1.1)" font-size="7.8" fill="#222" stroke="#222" stroke-width="0.22">x=0.10</text>
<text transform="translate(37.60,216.10) scale(1,1.1)" font-size="7.8" fill="#222" stroke="#222" stroke-width="0.22">x=0.05</text>
<text transform="translate(37.60,239.00) scale(1,1.1)" font-size="7.8" fill="#222" stroke="#222" stroke-width="0.22">x=0.02</text>
<text transform="translate(38.30,264.00) scale(1,1.1)" font-size="7.8" fill="#222" stroke="#222" stroke-width="0.22">x=0.00</text>
<text transform="translate(92.74,100.20) scale(1,1.07) rotate(-90)" font-size="7.9" fill="#222" stroke="#222" stroke-width="0.1">(111)</text>
<text transform="translate(166.14,160.40) scale(1,1.07) rotate(-90)" font-size="7.9" fill="#222" stroke="#222" stroke-width="0.1">(311)</text>
<text transform="translate(173.44,187.80) scale(1,1.07) rotate(-90)" font-size="7.9" fill="#222" stroke="#222" stroke-width="0.1">(222)</text>
<text transform="translate(198.64,159.60) scale(1,1.07) rotate(-90)" font-size="7.9" fill="#222" stroke="#222" stroke-width="0.1">(400)</text>
<text transform="translate(215.14,189.50) scale(1,1.07) rotate(-90)" font-size="7.9" fill="#222" stroke="#222" stroke-width="0.1">(331)</text>
<text transform="translate(256.64,186.60) scale(1,1.07) rotate(-90)" font-size="7.9" fill="#222" stroke="#222" stroke-width="0.1">(511)</text>
<text transform="translate(281.64,180.30) scale(1,1.07) rotate(-90)" font-size="7.9" fill="#222" stroke="#222" stroke-width="0.1">(440)</text>
<text transform="translate(295.04,189.00) scale(1,1.07) rotate(-90)" font-size="7.9" fill="#222" stroke="#222" stroke-width="0.1">(531)</text>
<line x1="42.2" y1="21.40" x2="61" y2="21.40" stroke="#0c8f24" stroke-width="1.3"/>
<text transform="translate(63.20,24.30) scale(1,1.1)" font-size="8.1" fill="#222" stroke="#222" stroke-width="0.22">LMOMg-3</text>
<line x1="42.2" y1="31.45" x2="61" y2="31.45" stroke="#0c78de" stroke-width="1.3"/>
<text transform="translate(63.20,34.35) scale(1,1.1)" font-size="8.1" fill="#222" stroke="#222" stroke-width="0.22">LMOMg-2</text>
<line x1="42.2" y1="41.50" x2="61" y2="41.50" stroke="#ff2424" stroke-width="1.3"/>
<text transform="translate(63.20,44.40) scale(1,1.1)" font-size="8.1" fill="#222" stroke="#222" stroke-width="0.22">LMOMg-1</text>
<line x1="42.2" y1="51.55" x2="61" y2="51.55" stroke="#111111" stroke-width="1.3"/>
<text transform="translate(63.20,54.45) scale(1,1.1)" font-size="8.1" fill="#222" stroke="#222" stroke-width="0.22">LMO</text>
<rect x="145.4" y="10.6" width="174.00" height="115.50" fill="#fff" stroke="#444" stroke-width="0.9"/>
<path d="M145.4,122.6 L146.3,122.5 L147.1,122.4 L148.0,122.3 L148.9,122.3 L149.8,122.3 L150.7,122.2 L151.5,122.2 L152.4,122.3 L153.3,122.5 L154.2,122.6 L155.1,122.5 L155.9,122.3 L156.8,122.1 L157.7,122.0 L158.6,122.0 L159.5,122.1 L160.3,122.3 L161.2,122.5 L162.1,122.6 L163.0,122.7 L163.9,122.7 L164.7,122.5 L165.6,122.4 L166.5,122.3 L167.4,122.2 L168.3,122.2 L169.1,122.2 L170.0,122.3 L170.9,122.3 L171.8,122.2 L172.7,122.0 L173.5,121.9 L174.4,121.9 L175.3,122.0 L176.2,122.1 L177.1,122.2 L177.9,122.3 L178.8,122.3 L179.7,122.2 L180.6,122.0 L181.5,121.7 L182.3,121.5 L183.2,121.5 L184.1,121.7 L185.0,121.8 L185.9,121.8 L186.7,121.7 L187.6,121.5 L188.5,121.5 L189.4,121.5 L190.3,121.6 L191.1,121.6 L192.0,121.7 L192.9,121.8 L193.8,121.8 L194.7,121.9 L195.5,121.8 L196.4,121.7 L197.3,121.5 L198.2,121.4 L199.1,121.3 L199.9,121.3 L200.8,121.3 L201.7,121.3 L202.6,121.2 L203.5,121.1 L204.3,120.9 L205.2,120.7 L206.1,120.5 L207.0,120.3 L207.9,120.0 L208.7,119.6 L209.6,119.1 L210.5,118.5 L211.4,117.6 L212.3,116.6 L213.1,115.4 L214.0,114.1 L214.9,112.4 L215.8,110.4 L216.7,107.9 L217.5,104.9 L218.4,101.6 L219.3,97.9 L220.2,94.0 L221.1,90.0 L221.9,86.0 L222.8,82.1 L223.7,78.5 L224.6,75.4 L225.5,72.9 L226.3,71.3 L227.2,70.8 L228.1,71.5 L229.0,73.4 L229.9,76.1 L230.7,79.5 L231.6,83.3 L232.5,87.2 L233.4,91.2 L234.3,95.1 L235.1,98.9 L236.0,102.4 L236.9,105.6 L237.8,108.4 L238.7,110.8 L239.5,112.8 L240.4,114.4 L241.3,115.8 L242.2,117.0 L243.1,118.0 L243.9,118.8 L244.8,119.5 L245.7,119.9 L246.6,120.1 L247.5,120.3 L248.3,120.5 L249.2,120.7 L250.1,120.8 L251.0,121.0 L251.9,121.1 L252.7,121.2 L253.6,121.3 L254.5,121.3 L255.4,121.3 L256.3,121.4 L257.1,121.4 L258.0,121.5 L258.9,121.5 L259.8,121.4 L260.7,121.4 L261.5,121.5 L262.4,121.7 L263.3,121.8 L264.2,121.9 L265.1,121.8 L265.9,121.7 L266.8,121.6 L267.7,121.7 L268.6,121.8 L269.5,122.0 L270.3,122.1 L271.2,122.1 L272.1,122.1 L273.0,122.1 L273.9,122.2 L274.7,122.2 L275.6,122.2 L276.5,122.3 L277.4,122.3 L278.3,122.2 L279.1,122.2 L280.0,122.2 L280.9,122.2 L281.8,122.1 L282.7,122.1 L283.5,122.1 L284.4,122.2 L285.3,122.3 L286.2,122.3 L287.1,122.3 L287.9,122.2 L288.8,122.1 L289.7,122.2 L290.6,122.2 L291.5,122.2 L292.3,122.2 L293.2,122.2 L294.1,122.3 L295.0,122.4 L295.9,122.3 L296.7,122.3 L297.6,122.2 L298.5,122.2 L299.4,122.2 L300.3,122.2 L301.1,122.1 L302.0,122.1 L302.9,122.1 L303.8,122.1 L304.7,122.2 L305.5,122.2 L306.4,122.3 L307.3,122.3 L308.2,122.3 L309.1,122.3 L309.9,122.3 L310.8,122.3 L311.7,122.2 L312.6,122.2 L313.5,122.2 L314.3,122.3 L315.2,122.4 L316.1,122.6 L317.0,122.6 L317.9,122.6 L318.7,122.5 L319.6,122.4" fill="none" stroke="#111111" stroke-width="1.75" stroke-linejoin="round"/>
<path d="M145.4,108.5 L146.3,108.5 L147.1,108.4 L148.0,108.4 L148.9,108.4 L149.8,108.6 L150.7,108.6 L151.5,108.6 L152.4,108.4 L153.3,108.3 L154.2,108.3 L155.1,108.2 L155.9,108.2 L156.8,108.1 L157.7,108.1 L158.6,108.2 L159.5,108.1 L160.3,108.1 L161.2,108.1 L162.1,108.3 L163.0,108.4 L163.9,108.3 L164.7,108.2 L165.6,108.2 L166.5,108.2 L167.4,108.2 L168.3,108.2 L169.1,108.2 L170.0,108.2 L170.9,108.1 L171.8,108.0 L172.7,108.0 L173.5,108.0 L174.4,108.0 L175.3,108.1 L176.2,108.1 L177.1,108.2 L177.9,108.2 L178.8,108.2 L179.7,108.1 L180.6,108.0 L181.5,108.0 L182.3,107.9 L183.2,107.8 L184.1,107.8 L185.0,107.7 L185.9,107.7 L186.7,107.8 L187.6,107.9 L188.5,108.0 L189.4,108.1 L190.3,108.2 L191.1,108.1 L192.0,107.9 L192.9,107.8 L193.8,107.7 L194.7,107.7 L195.5,107.7 L196.4,107.7 L197.3,107.6 L198.2,107.5 L199.1,107.4 L199.9,107.3 L200.8,107.3 L201.7,107.2 L202.6,107.2 L203.5,107.1 L204.3,106.8 L205.2,106.4 L206.1,105.9 L207.0,105.4 L207.9,104.9 L208.7,104.2 L209.6,103.2 L210.5,102.2 L211.4,101.0 L212.3,99.6 L213.1,97.9 L214.0,96.0 L214.9,93.7 L215.8,91.1 L216.7,88.1 L217.5,84.8 L218.4,81.5 L219.3,78.1 L220.2,74.6 L221.1,71.1 L221.9,67.6 L222.8,64.4 L223.7,61.7 L224.6,59.8 L225.5,58.5 L226.3,58.0 L227.2,58.2 L228.1,59.2 L229.0,60.8 L229.9,63.0 L230.7,65.8 L231.6,69.0 L232.5,72.5 L233.4,76.1 L234.3,79.6 L235.1,83.0 L236.0,86.3 L236.9,89.4 L237.8,92.4 L238.7,95.0 L239.5,97.2 L240.4,99.0 L241.3,100.4 L242.2,101.7 L243.1,102.9 L243.9,103.9 L244.8,104.7 L245.7,105.3 L246.6,105.8 L247.5,106.1 L248.3,106.4 L249.2,106.6 L250.1,106.8 L251.0,106.9 L251.9,107.0 L252.7,107.1 L253.6,107.1 L254.5,107.1 L255.4,107.3 L256.3,107.5 L257.1,107.7 L258.0,107.7 L258.9,107.6 L259.8,107.6 L260.7,107.6 L261.5,107.7 L262.4,107.7 L263.3,107.6 L264.2,107.5 L265.1,107.6 L265.9,107.7 L266.8,107.9 L267.7,108.0 L268.6,108.1 L269.5,108.2 L270.3,108.2 L271.2,108.0 L272.1,107.8 L273.0,107.6 L273.9,107.6 L274.7,107.8 L275.6,108.0 L276.5,108.2 L277.4,108.2 L278.3,108.2 L279.1,108.2 L280.0,108.3 L280.9,108.3 L281.8,108.2 L282.7,108.0 L283.5,107.9 L284.4,107.9 L285.3,108.0 L286.2,108.0 L287.1,108.0 L287.9,108.0 L288.8,107.9 L289.7,107.9 L290.6,107.9 L291.5,107.9 L292.3,108.1 L293.2,108.2 L294.1,108.2 L295.0,108.2 L295.9,108.1 L296.7,108.2 L297.6,108.3 L298.5,108.3 L299.4,108.2 L300.3,108.1 L301.1,108.2 L302.0,108.3 L302.9,108.3 L303.8,108.3 L304.7,108.2 L305.5,108.2 L306.4,108.3 L307.3,108.3 L308.2,108.5 L309.1,108.6 L309.9,108.6 L310.8,108.6 L311.7,108.6 L312.6,108.6 L313.5,108.5 L314.3,108.4 L315.2,108.2 L316.1,108.1 L317.0,108.2 L317.9,108.4 L318.7,108.5 L319.6,108.5" fill="none" stroke="#ff2424" stroke-width="1.75" stroke-linejoin="round"/>
<path d="M145.4,96.1 L146.3,96.1 L147.1,96.1 L148.0,96.1 L148.9,96.2 L149.8,96.3 L150.7,96.4 L151.5,96.4 L152.4,96.4 L153.3,96.4 L154.2,96.5 L155.1,96.4 L155.9,96.3 L156.8,96.1 L157.7,96.1 L158.6,96.1 L159.5,96.1 L160.3,96.0 L161.2,96.0 L162.1,96.1 L163.0,96.1 L163.9,96.0 L164.7,95.9 L165.6,95.9 L166.5,96.0 L167.4,96.0 L168.3,96.1 L169.1,96.1 L170.0,96.1 L170.9,96.1 L171.8,96.0 L172.7,96.0 L173.5,96.0 L174.4,96.0 L175.3,96.0 L176.2,95.9 L177.1,95.9 L177.9,95.9 L178.8,95.9 L179.7,95.9 L180.6,95.9 L181.5,95.9 L182.3,96.0 L183.2,96.1 L184.1,96.1 L185.0,96.1 L185.9,96.0 L186.7,95.9 L187.6,95.8 L188.5,95.7 L189.4,95.7 L190.3,95.8 L191.1,95.7 L192.0,95.7 L192.9,95.6 L193.8,95.5 L194.7,95.5 L195.5,95.5 L196.4,95.4 L197.3,95.3 L198.2,95.4 L199.1,95.5 L199.9,95.5 L200.8,95.4 L201.7,95.3 L202.6,95.1 L203.5,94.9 L204.3,94.7 L205.2,94.5 L206.1,94.3 L207.0,94.0 L207.9,93.6 L208.7,93.2 L209.6,92.7 L210.5,92.1 L211.4,91.3 L212.3,90.2 L213.1,88.8 L214.0,87.1 L214.9,85.3 L215.8,83.2 L216.7,80.8 L217.5,78.0 L218.4,74.8 L219.3,71.4 L220.2,67.8 L221.1,63.9 L221.9,60.1 L222.8,56.3 L223.7,52.8 L224.6,49.6 L225.5,47.1 L226.3,45.5 L227.2,44.9 L228.1,45.2 L229.0,46.4 L229.9,48.4 L230.7,50.9 L231.6,54.1 L232.5,57.6 L233.4,61.5 L234.3,65.4 L235.1,69.2 L236.0,72.8 L236.9,76.2 L237.8,79.2 L238.7,81.9 L239.5,84.3 L240.4,86.3 L241.3,88.1 L242.2,89.6 L243.1,90.8 L243.9,91.7 L244.8,92.4 L245.7,92.9 L246.6,93.3 L247.5,93.7 L248.3,94.1 L249.2,94.4 L250.1,94.8 L251.0,95.0 L251.9,95.2 L252.7,95.2 L253.6,95.2 L254.5,95.2 L255.4,95.2 L256.3,95.3 L257.1,95.4 L258.0,95.5 L258.9,95.5 L259.8,95.5 L260.7,95.6 L261.5,95.6 L262.4,95.6 L263.3,95.6 L264.2,95.6 L265.1,95.7 L265.9,95.8 L266.8,95.8 L267.7,95.8 L268.6,95.7 L269.5,95.7 L270.3,95.8 L271.2,95.8 L272.1,95.9 L273.0,95.9 L273.9,95.9 L274.7,95.9 L275.6,95.9 L276.5,95.9 L277.4,95.9 L278.3,95.8 L279.1,95.7 L280.0,95.7 L280.9,95.8 L281.8,96.0 L282.7,96.2 L283.5,96.3 L284.4,96.2 L285.3,96.1 L286.2,96.1 L287.1,96.0 L287.9,95.9 L288.8,95.8 L289.7,95.8 L290.6,96.0 L291.5,96.1 L292.3,96.2 L293.2,96.2 L294.1,96.1 L295.0,95.9 L295.9,95.8 L296.7,95.8 L297.6,95.9 L298.5,96.0 L299.4,96.0 L300.3,96.1 L301.1,96.0 L302.0,95.9 L302.9,95.8 L303.8,95.8 L304.7,95.8 L305.5,95.9 L306.4,96.0 L307.3,96.1 L308.2,96.3 L309.1,96.4 L309.9,96.6 L310.8,96.6 L311.7,96.6 L312.6,96.5 L313.5,96.5 L314.3,96.5 L315.2,96.4 L316.1,96.2 L317.0,96.0 L317.9,96.0 L318.7,96.1 L319.6,96.2" fill="none" stroke="#0c78de" stroke-width="1.75" stroke-linejoin="round"/>
<path d="M145.4,82.9 L146.3,82.9 L147.1,82.8 L148.0,82.7 L148.9,82.6 L149.8,82.5 L150.7,82.5 L151.5,82.6 L152.4,82.7 L153.3,82.9 L154.2,83.0 L155.1,83.0 L155.9,83.0 L156.8,83.0 L157.7,82.9 L158.6,82.8 L159.5,82.6 L160.3,82.5 L161.2,82.5 L162.1,82.5 L163.0,82.7 L163.9,82.7 L164.7,82.7 L165.6,82.7 L166.5,82.8 L167.4,82.9 L168.3,83.0 L169.1,82.9 L170.0,82.8 L170.9,82.6 L171.8,82.5 L172.7,82.4 L173.5,82.4 L174.4,82.5 L175.3,82.5 L176.2,82.4 L177.1,82.3 L177.9,82.3 L178.8,82.4 L179.7,82.5 L180.6,82.6 L181.5,82.5 L182.3,82.4 L183.2,82.4 L184.1,82.3 L185.0,82.3 L185.9,82.3 L186.7,82.3 L187.6,82.4 L188.5,82.4 L189.4,82.4 L190.3,82.4 L191.1,82.3 L192.0,82.3 L192.9,82.3 L193.8,82.2 L194.7,82.3 L195.5,82.3 L196.4,82.3 L197.3,82.2 L198.2,82.0 L199.1,81.9 L199.9,81.8 L200.8,81.7 L201.7,81.8 L202.6,81.8 L203.5,81.8 L204.3,81.7 L205.2,81.7 L206.1,81.6 L207.0,81.5 L207.9,81.4 L208.7,81.2 L209.6,81.0 L210.5,80.7 L211.4,80.4 L212.3,79.9 L213.1,79.3 L214.0,78.6 L214.9,77.7 L215.8,76.6 L216.7,75.3 L217.5,73.8 L218.4,71.9 L219.3,69.6 L220.2,67.0 L221.1,64.0 L221.9,60.7 L222.8,57.1 L223.7,53.3 L224.6,49.4 L225.5,45.5 L226.3,41.8 L227.2,38.4 L228.1,35.5 L229.0,33.3 L229.9,31.9 L230.7,31.5 L231.6,32.1 L232.5,33.5 L233.4,35.6 L234.3,38.4 L235.1,41.7 L236.0,45.4 L236.9,49.4 L237.8,53.3 L238.7,57.1 L239.5,60.7 L240.4,64.0 L241.3,66.9 L242.2,69.5 L243.1,71.7 L243.9,73.5 L244.8,75.0 L245.7,76.3 L246.6,77.5 L247.5,78.6 L248.3,79.3 L249.2,79.8 L250.1,80.2 L251.0,80.5 L251.9,80.8 L252.7,81.0 L253.6,81.3 L254.5,81.5 L255.4,81.7 L256.3,81.8 L257.1,81.9 L258.0,82.0 L258.9,82.0 L259.8,82.1 L260.7,82.1 L261.5,82.1 L262.4,82.0 L263.3,81.9 L264.2,81.8 L265.1,81.8 L265.9,81.9 L266.8,82.1 L267.7,82.3 L268.6,82.4 L269.5,82.4 L270.3,82.4 L271.2,82.3 L272.1,82.3 L273.0,82.3 L273.9,82.4 L274.7,82.6 L275.6,82.7 L276.5,82.8 L277.4,82.8 L278.3,82.7 L279.1,82.7 L280.0,82.6 L280.9,82.6 L281.8,82.6 L282.7,82.6 L283.5,82.6 L284.4,82.6 L285.3,82.7 L286.2,82.8 L287.1,82.9 L287.9,82.8 L288.8,82.7 L289.7,82.7 L290.6,82.6 L291.5,82.6 L292.3,82.5 L293.2,82.5 L294.1,82.5 L295.0,82.5 L295.9,82.5 L296.7,82.5 L297.6,82.6 L298.5,82.5 L299.4,82.5 L300.3,82.6 L301.1,82.7 L302.0,82.8 L302.9,82.8 L303.8,82.8 L304.7,82.8 L305.5,82.8 L306.4,82.9 L307.3,82.8 L308.2,82.7 L309.1,82.6 L309.9,82.5 L310.8,82.4 L311.7,82.4 L312.6,82.4 L313.5,82.5 L314.3,82.7 L315.2,82.8 L316.1,82.7 L317.0,82.6 L317.9,82.4 L318.7,82.3 L319.6,82.3" fill="none" stroke="#0c8f24" stroke-width="1.75" stroke-linejoin="round"/>
<rect x="145.4" y="10.6" width="174.00" height="115.50" fill="none" stroke="#444" stroke-width="0.9"/>
<line x1="151.10" y1="126.1" x2="151.10" y2="128.1" stroke="#444" stroke-width="0.7"/>
<text transform="translate(151.10,135.20) scale(1,1.05)" font-size="5.9" text-anchor="middle" fill="#333" stroke="#333" stroke-width="0.1">17.8</text>
<line x1="159.90" y1="126.1" x2="159.90" y2="127.3" stroke="#444" stroke-width="0.7"/>
<line x1="168.70" y1="126.1" x2="168.70" y2="128.1" stroke="#444" stroke-width="0.7"/>
<text transform="translate(168.70,135.20) scale(1,1.05)" font-size="5.9" text-anchor="middle" fill="#333" stroke="#333" stroke-width="0.1">18.0</text>
<line x1="177.50" y1="126.1" x2="177.50" y2="127.3" stroke="#444" stroke-width="0.7"/>
<line x1="186.30" y1="126.1" x2="186.30" y2="128.1" stroke="#444" stroke-width="0.7"/>
<text transform="translate(186.30,135.20) scale(1,1.05)" font-size="5.9" text-anchor="middle" fill="#333" stroke="#333" stroke-width="0.1">18.2</text>
<line x1="195.10" y1="126.1" x2="195.10" y2="127.3" stroke="#444" stroke-width="0.7"/>
<line x1="203.90" y1="126.1" x2="203.90" y2="128.1" stroke="#444" stroke-width="0.7"/>
<text transform="translate(203.90,135.20) scale(1,1.05)" font-size="5.9" text-anchor="middle" fill="#333" stroke="#333" stroke-width="0.1">18.4</text>
<line x1="212.70" y1="126.1" x2="212.70" y2="127.3" stroke="#444" stroke-width="0.7"/>
<line x1="221.50" y1="126.1" x2="221.50" y2="128.1" stroke="#444" stroke-width="0.7"/>
<text transform="translate(221.50,135.20) scale(1,1.05)" font-size="5.9" text-anchor="middle" fill="#333" stroke="#333" stroke-width="0.1">18.6</text>
<line x1="230.30" y1="126.1" x2="230.30" y2="127.3" stroke="#444" stroke-width="0.7"/>
<line x1="239.10" y1="126.1" x2="239.10" y2="128.1" stroke="#444" stroke-width="0.7"/>
<text transform="translate(239.10,135.20) scale(1,1.05)" font-size="5.9" text-anchor="middle" fill="#333" stroke="#333" stroke-width="0.1">18.8</text>
<line x1="247.90" y1="126.1" x2="247.90" y2="127.3" stroke="#444" stroke-width="0.7"/>
<line x1="256.70" y1="126.1" x2="256.70" y2="128.1" stroke="#444" stroke-width="0.7"/>
<text transform="translate(256.70,135.20) scale(1,1.05)" font-size="5.9" text-anchor="middle" fill="#333" stroke="#333" stroke-width="0.1">19.0</text>
<line x1="265.50" y1="126.1" x2="265.50" y2="127.3" stroke="#444" stroke-width="0.7"/>
<line x1="274.30" y1="126.1" x2="274.30" y2="128.1" stroke="#444" stroke-width="0.7"/>
<text transform="translate(274.30,135.20) scale(1,1.05)" font-size="5.9" text-anchor="middle" fill="#333" stroke="#333" stroke-width="0.1">19.2</text>
<line x1="283.10" y1="126.1" x2="283.10" y2="127.3" stroke="#444" stroke-width="0.7"/>
<line x1="291.90" y1="126.1" x2="291.90" y2="128.1" stroke="#444" stroke-width="0.7"/>
<text transform="translate(291.90,135.20) scale(1,1.05)" font-size="5.9" text-anchor="middle" fill="#333" stroke="#333" stroke-width="0.1">19.4</text>
<line x1="300.70" y1="126.1" x2="300.70" y2="127.3" stroke="#444" stroke-width="0.7"/>
<line x1="309.50" y1="126.1" x2="309.50" y2="128.1" stroke="#444" stroke-width="0.7"/>
<text transform="translate(309.50,135.20) scale(1,1.05)" font-size="5.9" text-anchor="middle" fill="#333" stroke="#333" stroke-width="0.1">19.6</text>
<line x1="318.30" y1="126.1" x2="318.30" y2="127.3" stroke="#444" stroke-width="0.7"/>
<text transform="translate(149.30,78.50) scale(1,1.05)" font-size="7.2" fill="#222" stroke="#222" stroke-width="0.12">x=0.10</text>
<text transform="translate(149.30,92.40) scale(1,1.05)" font-size="7.2" fill="#222" stroke="#222" stroke-width="0.12">x=0.05</text>
<text transform="translate(149.30,105.20) scale(1,1.05)" font-size="7.2" fill="#222" stroke="#222" stroke-width="0.12">x=0.02</text>
<text transform="translate(149.30,118.30) scale(1,1.05)" font-size="7.2" fill="#222" stroke="#222" stroke-width="0.12">x=0.00</text>
<text transform="translate(233.40,29.20) scale(1,1.1) rotate(-90)" font-size="6.8" fill="#333" stroke="#333" stroke-width="0.05">(111)</text>
<line x1="406.4" y1="13.4" x2="687.2" y2="13.4" stroke="#505050" stroke-width="1.45"/>
<line x1="406.4" y1="312.6" x2="687.2" y2="312.6" stroke="#505050" stroke-width="1.45"/>
<line x1="441.5" y1="312.6" x2="441.5" y2="316.8" stroke="#505050" stroke-width="1.3"/>
<line x1="441.5" y1="13.4" x2="441.5" y2="17.6" stroke="#505050" stroke-width="1.3"/>
<line x1="511.6" y1="312.6" x2="511.6" y2="316.8" stroke="#505050" stroke-width="1.3"/>
<line x1="511.6" y1="13.4" x2="511.6" y2="17.6" stroke="#505050" stroke-width="1.3"/>
<line x1="581.8" y1="312.6" x2="581.8" y2="316.8" stroke="#505050" stroke-width="1.3"/>
<line x1="581.8" y1="13.4" x2="581.8" y2="17.6" stroke="#505050" stroke-width="1.3"/>
<line x1="651.9" y1="312.6" x2="651.9" y2="316.8" stroke="#505050" stroke-width="1.3"/>
<line x1="651.9" y1="13.4" x2="651.9" y2="17.6" stroke="#505050" stroke-width="1.3"/>
<line x1="476.55" y1="312.6" x2="476.55" y2="314.8" stroke="#505050" stroke-width="1.3"/>
<line x1="476.55" y1="13.4" x2="476.55" y2="15.600000000000001" stroke="#505050" stroke-width="1.3"/>
<line x1="546.7" y1="312.6" x2="546.7" y2="314.8" stroke="#505050" stroke-width="1.3"/>
<line x1="546.7" y1="13.4" x2="546.7" y2="15.600000000000001" stroke="#505050" stroke-width="1.3"/>
<line x1="616.85" y1="312.6" x2="616.85" y2="314.8" stroke="#505050" stroke-width="1.3"/>
<line x1="616.85" y1="13.4" x2="616.85" y2="15.600000000000001" stroke="#505050" stroke-width="1.3"/>
<text transform="translate(441.50,327.80) scale(1,1.12)" font-size="8.7" text-anchor="middle" fill="#222" stroke="#222" stroke-width="0.22">LMO</text>
<text transform="translate(511.60,327.80) scale(1,1.12)" font-size="8.7" text-anchor="middle" fill="#222" stroke="#222" stroke-width="0.22">LMOMg-1</text>
<text transform="translate(581.80,327.80) scale(1,1.12)" font-size="8.7" text-anchor="middle" fill="#222" stroke="#222" stroke-width="0.22">LMOMg-2</text>
<text transform="translate(651.90,327.80) scale(1,1.12)" font-size="8.7" text-anchor="middle" fill="#222" stroke="#222" stroke-width="0.22">LMOMg-3</text>
<line x1="406.4" y1="13.4" x2="406.4" y2="312.6" stroke="#4565ff" stroke-width="1.2"/>
<line x1="402.2" y1="312.56" x2="406.4" y2="312.56" stroke="#4565ff" stroke-width="1.1"/>
<text transform="translate(399.40,315.96) scale(1,1.14)" font-size="9.1" text-anchor="end" fill="#4565ff" stroke="#4565ff" stroke-width="0.22">8.220</text>
<line x1="404.2" y1="295.94" x2="406.4" y2="295.94" stroke="#4565ff" stroke-width="1.1"/>
<line x1="402.2" y1="279.32" x2="406.4" y2="279.32" stroke="#4565ff" stroke-width="1.1"/>
<text transform="translate(399.40,282.72) scale(1,1.14)" font-size="9.1" text-anchor="end" fill="#4565ff" stroke="#4565ff" stroke-width="0.22">8.222</text>
<line x1="404.2" y1="262.70" x2="406.4" y2="262.70" stroke="#4565ff" stroke-width="1.1"/>
<line x1="402.2" y1="246.08" x2="406.4" y2="246.08" stroke="#4565ff" stroke-width="1.1"/>
<text transform="translate(399.40,249.48) scale(1,1.14)" font-size="9.1" text-anchor="end" fill="#4565ff" stroke="#4565ff" stroke-width="0.22">8.224</text>
<line x1="404.2" y1="229.46" x2="406.4" y2="229.46" stroke="#4565ff" stroke-width="1.1"/>
<line x1="402.2" y1="212.84" x2="406.4" y2="212.84" stroke="#4565ff" stroke-width="1.1"/>
<text transform="translate(399.40,216.24) scale(1,1.14)" font-size="9.1" text-anchor="end" fill="#4565ff" stroke="#4565ff" stroke-width="0.22">8.226</text>
<line x1="404.2" y1="196.22" x2="406.4" y2="196.22" stroke="#4565ff" stroke-width="1.1"/>
<line x1="402.2" y1="179.60" x2="406.4" y2="179.60" stroke="#4565ff" stroke-width="1.1"/>
<text transform="translate(399.40,183.00) scale(1,1.14)" font-size="9.1" text-anchor="end" fill="#4565ff" stroke="#4565ff" stroke-width="0.22">8.228</text>
<line x1="404.2" y1="162.98" x2="406.4" y2="162.98" stroke="#4565ff" stroke-width="1.1"/>
<line x1="402.2" y1="146.36" x2="406.4" y2="146.36" stroke="#4565ff" stroke-width="1.1"/>
<text transform="translate(399.40,149.76) scale(1,1.14)" font-size="9.1" text-anchor="end" fill="#4565ff" stroke="#4565ff" stroke-width="0.22">8.230</text>
<line x1="404.2" y1="129.74" x2="406.4" y2="129.74" stroke="#4565ff" stroke-width="1.1"/>
<line x1="402.2" y1="113.12" x2="406.4" y2="113.12" stroke="#4565ff" stroke-width="1.1"/>
<text transform="translate(399.40,116.52) scale(1,1.14)" font-size="9.1" text-anchor="end" fill="#4565ff" stroke="#4565ff" stroke-width="0.22">8.232</text>
<line x1="404.2" y1="96.50" x2="406.4" y2="96.50" stroke="#4565ff" stroke-width="1.1"/>
<line x1="402.2" y1="79.88" x2="406.4" y2="79.88" stroke="#4565ff" stroke-width="1.1"/>
<text transform="translate(399.40,83.28) scale(1,1.14)" font-size="9.1" text-anchor="end" fill="#4565ff" stroke="#4565ff" stroke-width="0.22">8.234</text>
<line x1="404.2" y1="63.26" x2="406.4" y2="63.26" stroke="#4565ff" stroke-width="1.1"/>
<line x1="402.2" y1="46.64" x2="406.4" y2="46.64" stroke="#4565ff" stroke-width="1.1"/>
<text transform="translate(399.40,50.04) scale(1,1.14)" font-size="9.1" text-anchor="end" fill="#4565ff" stroke="#4565ff" stroke-width="0.22">8.236</text>
<line x1="404.2" y1="30.02" x2="406.4" y2="30.02" stroke="#4565ff" stroke-width="1.1"/>
<line x1="402.2" y1="13.40" x2="406.4" y2="13.40" stroke="#4565ff" stroke-width="1.1"/>
<text transform="translate(399.40,16.80) scale(1,1.14)" font-size="9.1" text-anchor="end" fill="#4565ff" stroke="#4565ff" stroke-width="0.22">8.238</text>
<text transform="translate(369.70,162.60) scale(1,1.04) rotate(-90)" font-size="11.3" text-anchor="middle" fill="#4565ff" stroke="#4565ff" stroke-width="0.22">Lattice parameter, a (Å)</text>
<line x1="687.2" y1="13.4" x2="687.2" y2="312.6" stroke="#ff3535" stroke-width="1.2"/>
<line x1="687.2" y1="312.58" x2="689.4000000000001" y2="312.58" stroke="#ff3535" stroke-width="1.1"/>
<line x1="687.2" y1="291.21" x2="691.4000000000001" y2="291.21" stroke="#ff3535" stroke-width="1.1"/>
<text transform="translate(694.50,294.61) scale(1,1.15)" font-size="8.7" fill="#ff3535" stroke="#ff3535" stroke-width="0.22">3.53</text>
<line x1="687.2" y1="269.84" x2="689.4000000000001" y2="269.84" stroke="#ff3535" stroke-width="1.1"/>
<line x1="687.2" y1="248.47" x2="691.4000000000001" y2="248.47" stroke="#ff3535" stroke-width="1.1"/>
<text transform="translate(694.50,251.87) scale(1,1.15)" font-size="8.7" fill="#ff3535" stroke="#ff3535" stroke-width="0.22">3.54</text>
<line x1="687.2" y1="227.10" x2="689.4000000000001" y2="227.10" stroke="#ff3535" stroke-width="1.1"/>
<line x1="687.2" y1="205.73" x2="691.4000000000001" y2="205.73" stroke="#ff3535" stroke-width="1.1"/>
<text transform="translate(694.50,209.13) scale(1,1.15)" font-size="8.7" fill="#ff3535" stroke="#ff3535" stroke-width="0.22">3.55</text>
<line x1="687.2" y1="184.36" x2="689.4000000000001" y2="184.36" stroke="#ff3535" stroke-width="1.1"/>
<line x1="687.2" y1="162.99" x2="691.4000000000001" y2="162.99" stroke="#ff3535" stroke-width="1.1"/>
<text transform="translate(694.50,166.39) scale(1,1.15)" font-size="8.7" fill="#ff3535" stroke="#ff3535" stroke-width="0.22">3.56</text>
<line x1="687.2" y1="141.62" x2="689.4000000000001" y2="141.62" stroke="#ff3535" stroke-width="1.1"/>
<line x1="687.2" y1="120.25" x2="691.4000000000001" y2="120.25" stroke="#ff3535" stroke-width="1.1"/>
<text transform="translate(694.50,123.65) scale(1,1.15)" font-size="8.7" fill="#ff3535" stroke="#ff3535" stroke-width="0.22">3.57</text>
<line x1="687.2" y1="98.88" x2="689.4000000000001" y2="98.88" stroke="#ff3535" stroke-width="1.1"/>
<line x1="687.2" y1="77.51" x2="691.4000000000001" y2="77.51" stroke="#ff3535" stroke-width="1.1"/>
<text transform="translate(694.50,80.91) scale(1,1.15)" font-size="8.7" fill="#ff3535" stroke="#ff3535" stroke-width="0.22">3.58</text>
<line x1="687.2" y1="56.14" x2="689.4000000000001" y2="56.14" stroke="#ff3535" stroke-width="1.1"/>
<line x1="687.2" y1="34.77" x2="691.4000000000001" y2="34.77" stroke="#ff3535" stroke-width="1.1"/>
<text transform="translate(694.50,38.17) scale(1,1.15)" font-size="8.7" fill="#ff3535" stroke="#ff3535" stroke-width="0.22">3.59</text>
<line x1="687.2" y1="13.40" x2="689.4000000000001" y2="13.40" stroke="#ff3535" stroke-width="1.1"/>
<text transform="translate(724.30,162.10) scale(1,1.0) rotate(-90)" font-size="11.5" text-anchor="middle" fill="#ff3535" stroke="#ff3535" stroke-width="0.22">Average Mn valence</text>
<polyline points="441.50,248.47 511.60,291.21 581.80,120.25 651.90,34.77" fill="none" stroke="#ff3030" stroke-width="1.2"/>
<polyline points="441.50,43.15 511.60,106.47 581.80,133.06 651.90,264.69" fill="none" stroke="#18aef0" stroke-width="1.3"/>
<rect x="439.30" y="246.27" width="4.4" height="4.4" fill="#ff0000"/>
<rect x="509.40" y="289.01" width="4.4" height="4.4" fill="#ff0000"/>
<rect x="579.60" y="118.05" width="4.4" height="4.4" fill="#ff0000"/>
<rect x="649.70" y="32.57" width="4.4" height="4.4" fill="#ff0000"/>
<circle cx="441.50" cy="43.15" r="2.6" fill="#0565b8"/>
<circle cx="511.60" cy="106.47" r="2.6" fill="#0565b8"/>
<circle cx="581.80" cy="133.06" r="2.6" fill="#0565b8"/>
<circle cx="651.90" cy="264.69" r="2.6" fill="#0565b8"/>
<polyline points="479.3,78.9 479.3,112.9 414.5,112.9" fill="none" stroke="#4565ff" stroke-width="1.1"/>
<polygon points="408.8,112.9 415.6,110.6 415.6,115.2" fill="#4565ff"/>
<polyline points="614.4,84.4 614.4,117.1 679.5,117.1" fill="none" stroke="#ff3535" stroke-width="1.1"/>
<polygon points="685.0,117.1 678.2,114.8 678.2,119.4" fill="#ff3535"/>
</svg>
</body></html>
